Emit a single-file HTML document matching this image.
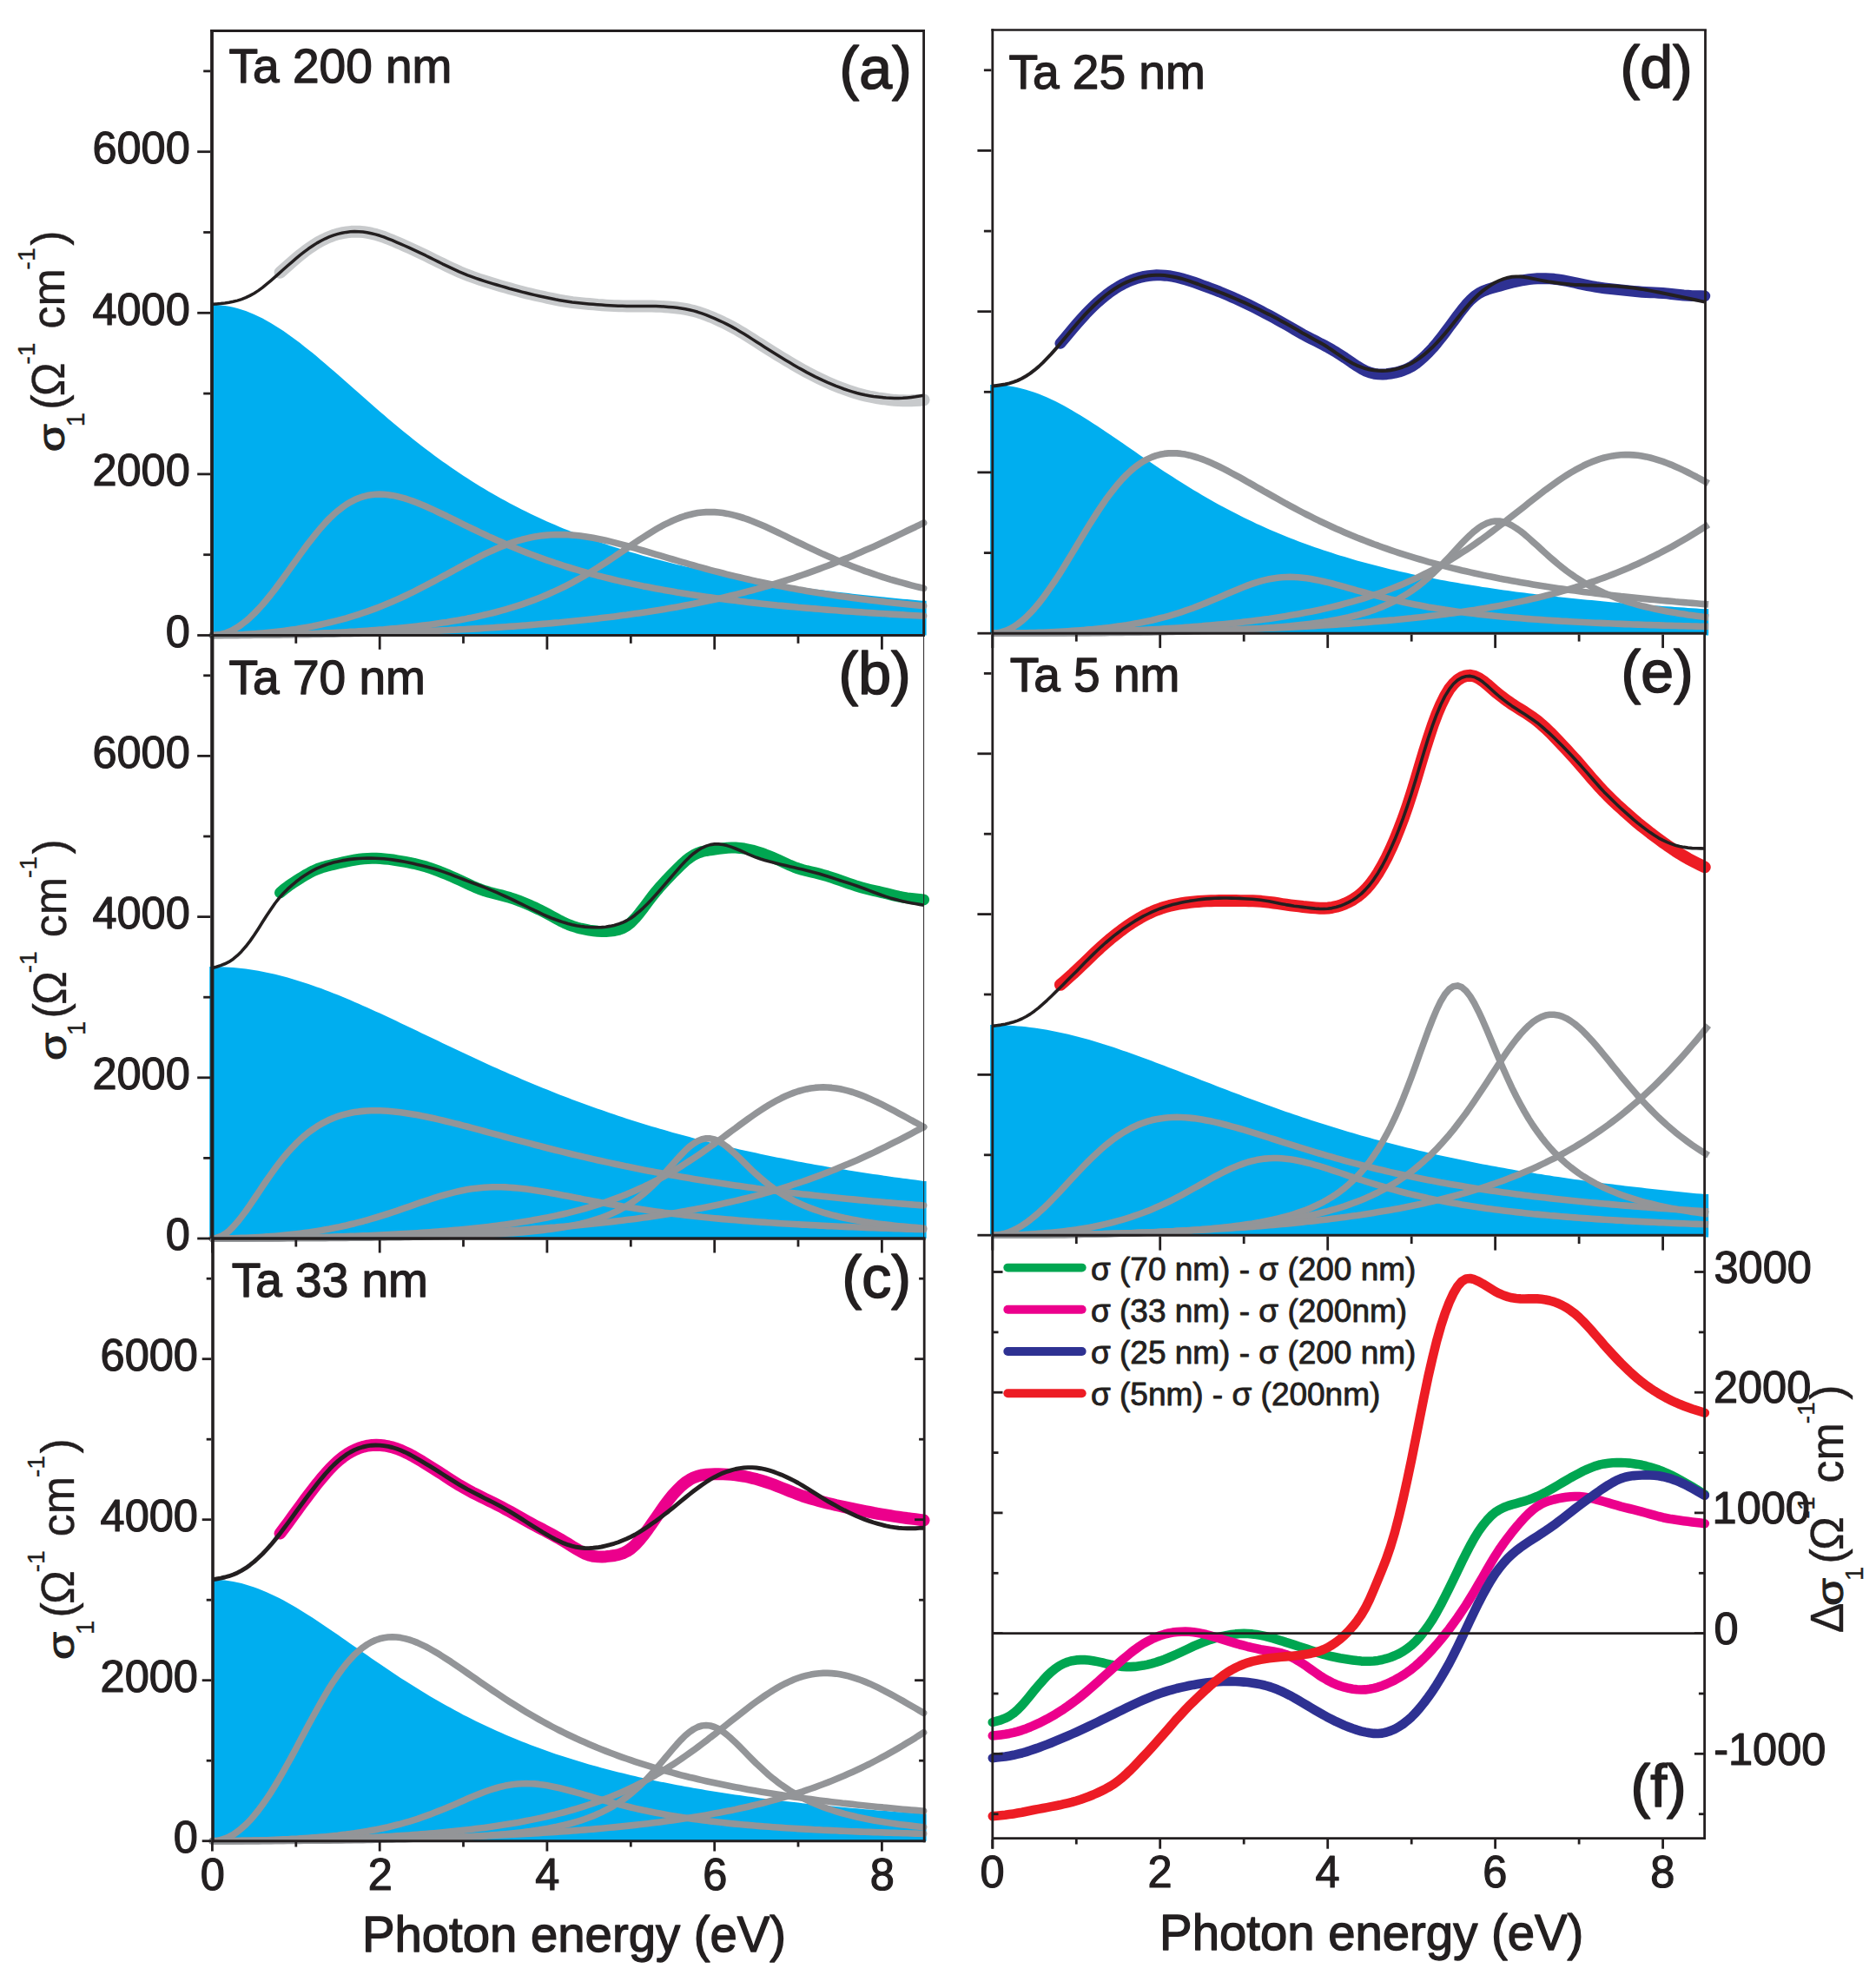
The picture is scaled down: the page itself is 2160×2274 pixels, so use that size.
<!DOCTYPE html>
<html><head><meta charset="utf-8"><title>Ta optical conductivity</title>
<style>html,body{margin:0;padding:0;background:#fff}svg{display:block}text{font-family:"Liberation Sans",Arial,sans-serif;fill:#231F20;stroke:#231F20;stroke-width:0.024em;stroke-linejoin:round}</style>
</head><body>
<svg width="2160" height="2274" viewBox="0 0 2160 2274">
<rect width="2160" height="2274" fill="#fff"/>
<path d="M243.4 731.5 L243.4 351.0 L244.4 351.0 L249.2 351.1 L254.0 351.5 L258.9 352.0 L263.7 352.8 L268.5 353.8 L273.3 355.0 L278.1 356.5 L283.0 358.1 L287.8 360.0 L292.6 362.0 L297.4 364.2 L302.2 366.6 L307.0 369.2 L311.9 372.0 L316.7 374.9 L321.5 377.9 L326.3 381.1 L331.1 384.4 L336.0 387.9 L340.8 391.5 L345.6 395.1 L350.4 398.9 L355.2 402.7 L360.1 406.6 L364.9 410.6 L369.7 414.7 L374.5 418.8 L379.3 422.9 L384.1 427.1 L389.0 431.3 L393.8 435.6 L398.6 439.8 L403.4 444.1 L408.2 448.3 L413.1 452.6 L417.9 456.8 L422.7 461.1 L427.5 465.3 L432.3 469.5 L437.2 473.7 L442.0 477.8 L446.8 481.9 L451.6 486.0 L456.4 490.0 L461.2 494.0 L466.1 497.9 L470.9 501.8 L475.7 505.7 L480.5 509.5 L485.3 513.2 L490.2 516.9 L495.0 520.6 L499.8 524.2 L504.6 527.7 L509.4 531.2 L514.3 534.6 L519.1 538.0 L523.9 541.3 L528.7 544.5 L533.5 547.7 L538.3 550.8 L543.2 553.9 L548.0 557.0 L552.8 559.9 L557.6 562.8 L562.4 565.7 L567.3 568.5 L572.1 571.3 L576.9 574.0 L581.7 576.6 L586.5 579.2 L591.4 581.8 L596.2 584.3 L601.0 586.7 L605.8 589.1 L610.6 591.5 L615.4 593.8 L620.3 596.0 L625.1 598.2 L629.9 600.4 L634.7 602.5 L639.5 604.6 L644.4 606.7 L649.2 608.7 L654.0 610.6 L658.8 612.5 L663.6 614.4 L668.5 616.3 L673.3 618.1 L678.1 619.9 L682.9 621.6 L687.7 623.3 L692.6 625.0 L697.4 626.6 L702.2 628.2 L707.0 629.8 L711.8 631.3 L716.6 632.8 L721.5 634.3 L726.3 635.7 L731.1 637.1 L735.9 638.5 L740.7 639.9 L745.6 641.2 L750.4 642.5 L755.2 643.8 L760.0 645.1 L764.8 646.3 L769.7 647.5 L774.5 648.7 L779.3 649.9 L784.1 651.0 L788.9 652.2 L793.7 653.3 L798.6 654.3 L803.4 655.4 L808.2 656.4 L813.0 657.5 L817.8 658.5 L822.7 659.4 L827.5 660.4 L832.3 661.4 L837.1 662.3 L841.9 663.2 L846.8 664.1 L851.6 665.0 L856.4 665.8 L861.2 666.7 L866.0 667.5 L870.8 668.3 L875.7 669.1 L880.5 669.9 L885.3 670.7 L890.1 671.5 L894.9 672.2 L899.8 672.9 L904.6 673.7 L909.4 674.4 L914.2 675.1 L919.0 675.8 L923.9 676.4 L928.7 677.1 L933.5 677.8 L938.3 678.4 L943.1 679.0 L947.9 679.6 L952.8 680.2 L957.6 680.8 L962.4 681.4 L967.2 682.0 L972.0 682.6 L976.9 683.1 L981.7 683.7 L986.5 684.2 L991.3 684.8 L996.1 685.3 L1001.0 685.8 L1005.8 686.3 L1010.6 686.8 L1015.4 687.3 L1020.2 687.8 L1025.0 688.3 L1029.9 688.7 L1034.7 689.2 L1039.5 689.7 L1044.3 690.1 L1049.1 690.5 L1054.0 691.0 L1058.8 691.4 L1063.6 691.8 L1066.6 691.8 L1066.6 731.5 Z" fill="#00AEEF"/>
<path d="M244.4 731.5 L249.2 731.2 L254.0 730.5 L258.9 729.2 L263.7 727.4 L268.5 725.1 L273.3 722.3 L278.1 719.0 L283.0 715.3 L287.8 711.1 L292.6 706.5 L297.4 701.5 L302.2 696.2 L307.0 690.5 L311.9 684.5 L316.7 678.3 L321.5 671.9 L326.3 665.3 L331.1 658.6 L336.0 651.8 L340.8 645.1 L345.6 638.4 L350.4 631.8 L355.2 625.3 L360.1 619.1 L364.9 613.1 L369.7 607.4 L374.5 602.0 L379.3 597.0 L384.1 592.4 L389.0 588.2 L393.8 584.4 L398.6 581.0 L403.4 578.1 L408.2 575.6 L413.1 573.5 L417.9 571.9 L422.7 570.6 L427.5 569.8 L432.3 569.3 L437.2 569.1 L442.0 569.3 L446.8 569.7 L451.6 570.4 L456.4 571.4 L461.2 572.6 L466.1 573.9 L470.9 575.5 L475.7 577.2 L480.5 579.0 L485.3 581.0 L490.2 583.1 L495.0 585.2 L499.8 587.4 L504.6 589.7 L509.4 592.0 L514.3 594.3 L519.1 596.7 L523.9 599.0 L528.7 601.4 L533.5 603.8 L538.3 606.1 L543.2 608.5 L548.0 610.8 L552.8 613.1 L557.6 615.3 L562.4 617.6 L567.3 619.8 L572.1 622.0 L576.9 624.1 L581.7 626.2 L586.5 628.3 L591.4 630.3 L596.2 632.3 L601.0 634.2 L605.8 636.1 L610.6 638.0 L615.4 639.8 L620.3 641.6 L625.1 643.4 L629.9 645.1 L634.7 646.7 L639.5 648.4 L644.4 649.9 L649.2 651.5 L654.0 653.0 L658.8 654.5 L663.6 655.9 L668.5 657.3 L673.3 658.7 L678.1 660.1 L682.9 661.4 L687.7 662.7 L692.6 663.9 L697.4 665.1 L702.2 666.3 L707.0 667.5 L711.8 668.6 L716.6 669.7 L721.5 670.8 L726.3 671.9 L731.1 672.9 L735.9 673.9 L740.7 674.9 L745.6 675.8 L750.4 676.8 L755.2 677.7 L760.0 678.6 L764.8 679.4 L769.7 680.3 L774.5 681.1 L779.3 682.0 L784.1 682.7 L788.9 683.5 L793.7 684.3 L798.6 685.0 L803.4 685.8 L808.2 686.5 L813.0 687.2 L817.8 687.8 L822.7 688.5 L827.5 689.2 L832.3 689.8 L837.1 690.4 L841.9 691.0 L846.8 691.6 L851.6 692.2 L856.4 692.8 L861.2 693.4 L866.0 693.9 L870.8 694.4 L875.7 695.0 L880.5 695.5 L885.3 696.0 L890.1 696.5 L894.9 697.0 L899.8 697.4 L904.6 697.9 L909.4 698.4 L914.2 698.8 L919.0 699.3 L923.9 699.7 L928.7 700.1 L933.5 700.5 L938.3 700.9 L943.1 701.3 L947.9 701.7 L952.8 702.1 L957.6 702.5 L962.4 702.8 L967.2 703.2 L972.0 703.6 L976.9 703.9 L981.7 704.3 L986.5 704.6 L991.3 704.9 L996.1 705.2 L1001.0 705.6 L1005.8 705.9 L1010.6 706.2 L1015.4 706.5 L1020.2 706.8 L1025.0 707.1 L1029.9 707.4 L1034.7 707.6 L1039.5 707.9 L1044.3 708.2 L1049.1 708.5 L1054.0 708.7 L1058.8 709.0 L1063.6 709.2" fill="none" stroke="#939598" stroke-width="7.6" stroke-linecap="round" stroke-linejoin="round"/>
<path d="M244.4 731.5 L249.2 731.5 L254.0 731.4 L258.9 731.3 L263.7 731.2 L268.5 731.1 L273.3 730.9 L278.1 730.7 L283.0 730.4 L287.8 730.1 L292.6 729.8 L297.4 729.4 L302.2 729.0 L307.0 728.6 L311.9 728.1 L316.7 727.6 L321.5 727.0 L326.3 726.4 L331.1 725.8 L336.0 725.1 L340.8 724.4 L345.6 723.6 L350.4 722.8 L355.2 721.9 L360.1 721.0 L364.9 720.0 L369.7 719.0 L374.5 717.9 L379.3 716.8 L384.1 715.6 L389.0 714.4 L393.8 713.1 L398.6 711.8 L403.4 710.3 L408.2 708.9 L413.1 707.3 L417.9 705.7 L422.7 704.1 L427.5 702.4 L432.3 700.6 L437.2 698.7 L442.0 696.8 L446.8 694.8 L451.6 692.8 L456.4 690.6 L461.2 688.5 L466.1 686.2 L470.9 683.9 L475.7 681.6 L480.5 679.2 L485.3 676.7 L490.2 674.2 L495.0 671.7 L499.8 669.1 L504.6 666.5 L509.4 663.9 L514.3 661.3 L519.1 658.6 L523.9 656.0 L528.7 653.4 L533.5 650.7 L538.3 648.1 L543.2 645.6 L548.0 643.1 L552.8 640.6 L557.6 638.2 L562.4 635.9 L567.3 633.7 L572.1 631.6 L576.9 629.6 L581.7 627.7 L586.5 625.9 L591.4 624.2 L596.2 622.7 L601.0 621.3 L605.8 620.1 L610.6 619.0 L615.4 618.1 L620.3 617.3 L625.1 616.6 L629.9 616.1 L634.7 615.8 L639.5 615.6 L644.4 615.5 L649.2 615.6 L654.0 615.8 L658.8 616.1 L663.6 616.5 L668.5 617.1 L673.3 617.7 L678.1 618.5 L682.9 619.3 L687.7 620.2 L692.6 621.2 L697.4 622.3 L702.2 623.4 L707.0 624.6 L711.8 625.9 L716.6 627.1 L721.5 628.4 L726.3 629.8 L731.1 631.2 L735.9 632.6 L740.7 634.0 L745.6 635.4 L750.4 636.8 L755.2 638.3 L760.0 639.7 L764.8 641.1 L769.7 642.6 L774.5 644.0 L779.3 645.4 L784.1 646.8 L788.9 648.2 L793.7 649.6 L798.6 651.0 L803.4 652.3 L808.2 653.7 L813.0 655.0 L817.8 656.3 L822.7 657.6 L827.5 658.8 L832.3 660.0 L837.1 661.3 L841.9 662.5 L846.8 663.6 L851.6 664.8 L856.4 665.9 L861.2 667.0 L866.0 668.1 L870.8 669.2 L875.7 670.2 L880.5 671.2 L885.3 672.2 L890.1 673.2 L894.9 674.2 L899.8 675.1 L904.6 676.0 L909.4 676.9 L914.2 677.8 L919.0 678.7 L923.9 679.5 L928.7 680.4 L933.5 681.2 L938.3 682.0 L943.1 682.8 L947.9 683.5 L952.8 684.3 L957.6 685.0 L962.4 685.7 L967.2 686.4 L972.0 687.1 L976.9 687.8 L981.7 688.4 L986.5 689.1 L991.3 689.7 L996.1 690.3 L1001.0 690.9 L1005.8 691.5 L1010.6 692.1 L1015.4 692.6 L1020.2 693.2 L1025.0 693.7 L1029.9 694.3 L1034.7 694.8 L1039.5 695.3 L1044.3 695.8 L1049.1 696.3 L1054.0 696.8 L1058.8 697.3 L1063.6 697.7" fill="none" stroke="#939598" stroke-width="7.6" stroke-linecap="round" stroke-linejoin="round"/>
<path d="M244.4 731.5 L249.2 731.5 L254.0 731.5 L258.9 731.5 L263.7 731.4 L268.5 731.4 L273.3 731.4 L278.1 731.3 L283.0 731.3 L287.8 731.2 L292.6 731.2 L297.4 731.1 L302.2 731.0 L307.0 730.9 L311.9 730.8 L316.7 730.7 L321.5 730.6 L326.3 730.5 L331.1 730.4 L336.0 730.3 L340.8 730.1 L345.6 730.0 L350.4 729.8 L355.2 729.7 L360.1 729.5 L364.9 729.3 L369.7 729.1 L374.5 728.9 L379.3 728.7 L384.1 728.5 L389.0 728.2 L393.8 728.0 L398.6 727.7 L403.4 727.4 L408.2 727.2 L413.1 726.9 L417.9 726.5 L422.7 726.2 L427.5 725.9 L432.3 725.5 L437.2 725.1 L442.0 724.8 L446.8 724.3 L451.6 723.9 L456.4 723.5 L461.2 723.0 L466.1 722.5 L470.9 722.0 L475.7 721.5 L480.5 720.9 L485.3 720.4 L490.2 719.8 L495.0 719.2 L499.8 718.5 L504.6 717.8 L509.4 717.1 L514.3 716.4 L519.1 715.6 L523.9 714.8 L528.7 713.9 L533.5 713.1 L538.3 712.1 L543.2 711.2 L548.0 710.2 L552.8 709.1 L557.6 708.0 L562.4 706.9 L567.3 705.7 L572.1 704.5 L576.9 703.2 L581.7 701.8 L586.5 700.4 L591.4 698.9 L596.2 697.4 L601.0 695.8 L605.8 694.1 L610.6 692.4 L615.4 690.6 L620.3 688.7 L625.1 686.8 L629.9 684.7 L634.7 682.6 L639.5 680.4 L644.4 678.1 L649.2 675.8 L654.0 673.3 L658.8 670.8 L663.6 668.2 L668.5 665.5 L673.3 662.7 L678.1 659.8 L682.9 656.9 L687.7 653.9 L692.6 650.8 L697.4 647.7 L702.2 644.5 L707.0 641.3 L711.8 638.0 L716.6 634.8 L721.5 631.5 L726.3 628.2 L731.1 624.9 L735.9 621.7 L740.7 618.6 L745.6 615.5 L750.4 612.5 L755.2 609.6 L760.0 606.8 L764.8 604.2 L769.7 601.8 L774.5 599.5 L779.3 597.5 L784.1 595.6 L788.9 594.0 L793.7 592.7 L798.6 591.5 L803.4 590.6 L808.2 590.0 L813.0 589.6 L817.8 589.5 L822.7 589.6 L827.5 590.0 L832.3 590.6 L837.1 591.4 L841.9 592.4 L846.8 593.6 L851.6 595.0 L856.4 596.5 L861.2 598.2 L866.0 600.0 L870.8 602.0 L875.7 604.0 L880.5 606.1 L885.3 608.3 L890.1 610.5 L894.9 612.8 L899.8 615.1 L904.6 617.4 L909.4 619.8 L914.2 622.1 L919.0 624.5 L923.9 626.8 L928.7 629.1 L933.5 631.4 L938.3 633.6 L943.1 635.9 L947.9 638.1 L952.8 640.2 L957.6 642.3 L962.4 644.4 L967.2 646.4 L972.0 648.4 L976.9 650.3 L981.7 652.2 L986.5 654.0 L991.3 655.8 L996.1 657.6 L1001.0 659.2 L1005.8 660.9 L1010.6 662.5 L1015.4 664.1 L1020.2 665.6 L1025.0 667.1 L1029.9 668.5 L1034.7 669.9 L1039.5 671.2 L1044.3 672.5 L1049.1 673.8 L1054.0 675.1 L1058.8 676.3 L1063.6 677.4" fill="none" stroke="#939598" stroke-width="7.6" stroke-linecap="round" stroke-linejoin="round"/>
<path d="M244.4 731.5 L249.2 731.5 L254.0 731.5 L258.9 731.5 L263.7 731.5 L268.5 731.5 L273.3 731.4 L278.1 731.4 L283.0 731.4 L287.8 731.4 L292.6 731.3 L297.4 731.3 L302.2 731.3 L307.0 731.2 L311.9 731.2 L316.7 731.1 L321.5 731.1 L326.3 731.0 L331.1 731.0 L336.0 730.9 L340.8 730.8 L345.6 730.8 L350.4 730.7 L355.2 730.6 L360.1 730.5 L364.9 730.4 L369.7 730.4 L374.5 730.3 L379.3 730.2 L384.1 730.1 L389.0 730.0 L393.8 729.8 L398.6 729.7 L403.4 729.6 L408.2 729.5 L413.1 729.4 L417.9 729.2 L422.7 729.1 L427.5 729.0 L432.3 728.8 L437.2 728.7 L442.0 728.5 L446.8 728.4 L451.6 728.2 L456.4 728.1 L461.2 727.9 L466.1 727.7 L470.9 727.5 L475.7 727.3 L480.5 727.1 L485.3 727.0 L490.2 726.8 L495.0 726.5 L499.8 726.3 L504.6 726.1 L509.4 725.9 L514.3 725.7 L519.1 725.4 L523.9 725.2 L528.7 724.9 L533.5 724.7 L538.3 724.4 L543.2 724.1 L548.0 723.9 L552.8 723.6 L557.6 723.3 L562.4 723.0 L567.3 722.7 L572.1 722.4 L576.9 722.1 L581.7 721.7 L586.5 721.4 L591.4 721.1 L596.2 720.7 L601.0 720.4 L605.8 720.0 L610.6 719.6 L615.4 719.2 L620.3 718.8 L625.1 718.4 L629.9 718.0 L634.7 717.6 L639.5 717.1 L644.4 716.7 L649.2 716.2 L654.0 715.8 L658.8 715.3 L663.6 714.8 L668.5 714.3 L673.3 713.8 L678.1 713.3 L682.9 712.7 L687.7 712.2 L692.6 711.6 L697.4 711.0 L702.2 710.5 L707.0 709.9 L711.8 709.2 L716.6 708.6 L721.5 708.0 L726.3 707.3 L731.1 706.6 L735.9 705.9 L740.7 705.2 L745.6 704.5 L750.4 703.7 L755.2 703.0 L760.0 702.2 L764.8 701.4 L769.7 700.6 L774.5 699.7 L779.3 698.9 L784.1 698.0 L788.9 697.1 L793.7 696.2 L798.6 695.3 L803.4 694.3 L808.2 693.3 L813.0 692.3 L817.8 691.3 L822.7 690.2 L827.5 689.2 L832.3 688.1 L837.1 686.9 L841.9 685.8 L846.8 684.6 L851.6 683.4 L856.4 682.2 L861.2 680.9 L866.0 679.7 L870.8 678.4 L875.7 677.0 L880.5 675.7 L885.3 674.3 L890.1 672.8 L894.9 671.4 L899.8 669.9 L904.6 668.4 L909.4 666.8 L914.2 665.3 L919.0 663.7 L923.9 662.0 L928.7 660.3 L933.5 658.6 L938.3 656.9 L943.1 655.1 L947.9 653.3 L952.8 651.5 L957.6 649.6 L962.4 647.8 L967.2 645.8 L972.0 643.9 L976.9 641.9 L981.7 639.9 L986.5 637.8 L991.3 635.7 L996.1 633.6 L1001.0 631.5 L1005.8 629.4 L1010.6 627.2 L1015.4 625.0 L1020.2 622.7 L1025.0 620.5 L1029.9 618.2 L1034.7 615.9 L1039.5 613.6 L1044.3 611.3 L1049.1 609.0 L1054.0 606.7 L1058.8 604.3 L1063.6 602.0" fill="none" stroke="#939598" stroke-width="7.6" stroke-linecap="round" stroke-linejoin="round"/>
<path d="M322.5 313.8 L327.3 309.5 L332.1 305.2 L336.9 301.0 L341.7 296.9 L346.5 292.9 L351.3 289.2 L356.2 285.7 L361.0 282.4 L365.8 279.4 L370.6 276.7 L375.4 274.4 L380.2 272.4 L385.0 270.6 L389.8 269.2 L394.7 268.1 L399.5 267.3 L404.3 266.8 L409.1 266.6 L413.9 266.7 L418.7 267.1 L423.5 267.9 L428.3 268.9 L433.2 270.1 L438.0 271.6 L442.8 273.2 L447.6 275.1 L452.4 277.0 L457.2 279.1 L462.0 281.2 L466.8 283.3 L471.7 285.5 L476.5 287.7 L481.3 290.0 L486.1 292.3 L490.9 294.6 L495.7 297.0 L500.5 299.4 L505.3 301.7 L510.2 304.1 L515.0 306.4 L519.8 308.7 L524.6 310.9 L529.4 313.1 L534.2 315.1 L539.0 317.0 L543.8 318.8 L548.7 320.5 L553.5 322.2 L558.3 323.7 L563.1 325.2 L567.9 326.7 L572.7 328.2 L577.5 329.6 L582.3 330.9 L587.2 332.3 L592.0 333.6 L596.8 334.9 L601.6 336.2 L606.4 337.4 L611.2 338.6 L616.0 339.7 L620.8 340.8 L625.7 341.8 L630.5 342.9 L635.3 343.9 L640.1 344.9 L644.9 345.8 L649.7 346.7 L654.5 347.4 L659.3 348.1 L664.2 348.6 L669.0 349.1 L673.8 349.6 L678.6 350.0 L683.4 350.4 L688.2 350.9 L693.0 351.2 L697.8 351.6 L702.7 351.9 L707.5 352.1 L712.3 352.3 L717.1 352.4 L721.9 352.5 L726.7 352.5 L731.5 352.5 L736.3 352.5 L741.2 352.5 L746.0 352.5 L750.8 352.5 L755.6 352.7 L760.4 352.9 L765.2 353.2 L770.0 353.5 L774.8 354.0 L779.7 354.5 L784.5 355.1 L789.3 355.9 L794.1 356.9 L798.9 358.1 L803.7 359.4 L808.5 361.0 L813.3 362.8 L818.2 364.7 L823.0 366.7 L827.8 368.9 L832.6 371.1 L837.4 373.5 L842.2 376.0 L847.0 378.6 L851.8 381.4 L856.7 384.3 L861.5 387.3 L866.3 390.4 L871.1 393.5 L875.9 396.5 L880.7 399.6 L885.5 402.7 L890.3 405.7 L895.2 408.7 L900.0 411.6 L904.8 414.5 L909.6 417.4 L914.4 420.2 L919.2 423.0 L924.0 425.7 L928.8 428.4 L933.7 430.9 L938.5 433.4 L943.3 435.8 L948.1 438.1 L952.9 440.3 L957.7 442.4 L962.5 444.4 L967.3 446.3 L972.2 448.1 L977.0 449.8 L981.8 451.4 L986.6 452.9 L991.4 454.2 L996.2 455.4 L1001.0 456.5 L1005.8 457.4 L1010.7 458.3 L1015.5 459.0 L1020.3 459.7 L1025.1 460.3 L1029.9 460.8 L1034.7 461.1 L1039.5 461.3 L1044.3 461.4 L1049.2 461.3 L1054.0 461.0 L1058.8 460.8 L1063.6 460.4" fill="none" stroke="#C8CACC" stroke-width="13.9" stroke-linecap="round" stroke-linejoin="round"/>
<path d="M244.4 350.3 L249.2 349.9 L254.0 349.5 L258.9 348.9 L263.7 348.2 L268.5 347.3 L273.3 346.1 L278.1 344.6 L283.0 342.7 L287.8 340.4 L292.6 337.7 L297.4 334.6 L302.2 331.1 L307.0 327.2 L311.9 323.1 L316.7 318.9 L321.5 314.6 L326.3 310.3 L331.1 306.0 L336.0 301.8 L340.8 297.7 L345.6 293.7 L350.4 289.9 L355.2 286.3 L360.1 283.0 L364.9 279.9 L369.7 277.2 L374.5 274.8 L379.3 272.7 L384.1 270.9 L389.0 269.4 L393.8 268.3 L398.6 267.4 L403.4 266.8 L408.2 266.6 L413.1 266.7 L417.9 267.0 L422.7 267.7 L427.5 268.7 L432.3 269.9 L437.2 271.3 L442.0 272.9 L446.8 274.8 L451.6 276.7 L456.4 278.8 L461.2 280.9 L466.1 283.0 L470.9 285.2 L475.7 287.4 L480.5 289.6 L485.3 291.9 L490.2 294.2 L495.0 296.6 L499.8 299.0 L504.6 301.4 L509.4 303.8 L514.3 306.1 L519.1 308.4 L523.9 310.6 L528.7 312.8 L533.5 314.8 L538.3 316.8 L543.2 318.6 L548.0 320.3 L552.8 322.0 L557.6 323.6 L562.4 325.1 L567.3 326.6 L572.1 328.0 L576.9 329.4 L581.7 330.8 L586.5 332.2 L591.4 333.5 L596.2 334.8 L601.0 336.1 L605.8 337.3 L610.6 338.5 L615.4 339.6 L620.3 340.7 L625.1 341.7 L629.9 342.8 L634.7 343.8 L639.5 344.8 L644.4 345.7 L649.2 346.5 L654.0 347.3 L658.8 348.0 L663.6 348.5 L668.5 349.0 L673.3 349.5 L678.1 349.9 L682.9 350.3 L687.7 350.7 L692.6 351.1 L697.4 351.5 L702.2 351.8 L707.0 352.0 L711.8 352.2 L716.6 352.3 L721.5 352.4 L726.3 352.4 L731.1 352.4 L735.9 352.4 L740.7 352.4 L745.6 352.4 L750.4 352.4 L755.2 352.5 L760.0 352.7 L764.8 353.0 L769.7 353.4 L774.5 353.8 L779.3 354.3 L784.1 355.0 L788.9 355.8 L793.7 356.7 L798.6 357.9 L803.4 359.3 L808.2 360.9 L813.0 362.6 L817.8 364.6 L822.7 366.6 L827.5 368.8 L832.3 371.0 L837.1 373.4 L841.9 375.9 L846.8 378.6 L851.6 381.4 L856.4 384.3 L861.2 387.3 L866.0 390.4 L870.8 393.5 L875.7 396.6 L880.5 399.7 L885.3 402.8 L890.1 405.8 L894.9 408.8 L899.8 411.8 L904.6 414.7 L909.4 417.6 L914.2 420.4 L919.0 423.2 L923.9 425.9 L928.7 428.6 L933.5 431.1 L938.3 433.6 L943.1 435.9 L947.9 438.2 L952.8 440.4 L957.6 442.4 L962.4 444.4 L967.2 446.2 L972.0 448.0 L976.9 449.6 L981.7 451.1 L986.5 452.5 L991.3 453.7 L996.1 454.8 L1001.0 455.7 L1005.8 456.5 L1010.6 457.1 L1015.4 457.6 L1020.2 458.1 L1025.0 458.3 L1029.9 458.5 L1034.7 458.5 L1039.5 458.3 L1044.3 457.9 L1049.1 457.4 L1054.0 456.8 L1058.8 456.1 L1063.6 455.3" fill="none" stroke="#231F20" stroke-width="3.5" stroke-linejoin="round"/>
<path d="M241.2 1426.0 L241.2 1113.0 L244.4 1113.0 L249.2 1113.1 L254.0 1113.2 L258.9 1113.4 L263.7 1113.7 L268.5 1114.0 L273.3 1114.5 L278.1 1115.0 L283.0 1115.6 L287.8 1116.3 L292.6 1117.0 L297.4 1117.8 L302.2 1118.7 L307.0 1119.7 L311.9 1120.7 L316.7 1121.8 L321.5 1123.0 L326.3 1124.3 L331.1 1125.6 L336.0 1127.0 L340.8 1128.4 L345.6 1129.9 L350.4 1131.4 L355.2 1133.0 L360.1 1134.7 L364.9 1136.4 L369.7 1138.1 L374.5 1139.9 L379.3 1141.8 L384.1 1143.7 L389.0 1145.6 L393.8 1147.6 L398.6 1149.6 L403.4 1151.6 L408.2 1153.7 L413.1 1155.8 L417.9 1157.9 L422.7 1160.0 L427.5 1162.2 L432.3 1164.4 L437.2 1166.6 L442.0 1168.8 L446.8 1171.1 L451.6 1173.3 L456.4 1175.6 L461.2 1177.9 L466.1 1180.2 L470.9 1182.5 L475.7 1184.8 L480.5 1187.1 L485.3 1189.4 L490.2 1191.7 L495.0 1194.0 L499.8 1196.3 L504.6 1198.6 L509.4 1200.9 L514.3 1203.2 L519.1 1205.5 L523.9 1207.8 L528.7 1210.1 L533.5 1212.3 L538.3 1214.6 L543.2 1216.8 L548.0 1219.1 L552.8 1221.3 L557.6 1223.5 L562.4 1225.7 L567.3 1227.9 L572.1 1230.0 L576.9 1232.2 L581.7 1234.3 L586.5 1236.4 L591.4 1238.5 L596.2 1240.6 L601.0 1242.7 L605.8 1244.7 L610.6 1246.7 L615.4 1248.7 L620.3 1250.7 L625.1 1252.7 L629.9 1254.6 L634.7 1256.6 L639.5 1258.5 L644.4 1260.4 L649.2 1262.2 L654.0 1264.1 L658.8 1265.9 L663.6 1267.7 L668.5 1269.5 L673.3 1271.3 L678.1 1273.0 L682.9 1274.8 L687.7 1276.5 L692.6 1278.1 L697.4 1279.8 L702.2 1281.5 L707.0 1283.1 L711.8 1284.7 L716.6 1286.3 L721.5 1287.9 L726.3 1289.4 L731.1 1290.9 L735.9 1292.4 L740.7 1293.9 L745.6 1295.4 L750.4 1296.9 L755.2 1298.3 L760.0 1299.7 L764.8 1301.1 L769.7 1302.5 L774.5 1303.9 L779.3 1305.2 L784.1 1306.5 L788.9 1307.8 L793.7 1309.1 L798.6 1310.4 L803.4 1311.7 L808.2 1312.9 L813.0 1314.1 L817.8 1315.4 L822.7 1316.5 L827.5 1317.7 L832.3 1318.9 L837.1 1320.0 L841.9 1321.2 L846.8 1322.3 L851.6 1323.4 L856.4 1324.5 L861.2 1325.5 L866.0 1326.6 L870.8 1327.6 L875.7 1328.7 L880.5 1329.7 L885.3 1330.7 L890.1 1331.7 L894.9 1332.7 L899.8 1333.6 L904.6 1334.6 L909.4 1335.5 L914.2 1336.4 L919.0 1337.4 L923.9 1338.3 L928.7 1339.2 L933.5 1340.0 L938.3 1340.9 L943.1 1341.8 L947.9 1342.6 L952.8 1343.4 L957.6 1344.2 L962.4 1345.1 L967.2 1345.9 L972.0 1346.6 L976.9 1347.4 L981.7 1348.2 L986.5 1349.0 L991.3 1349.7 L996.1 1350.4 L1001.0 1351.2 L1005.8 1351.9 L1010.6 1352.6 L1015.4 1353.3 L1020.2 1354.0 L1025.0 1354.7 L1029.9 1355.4 L1034.7 1356.0 L1039.5 1356.7 L1044.3 1357.3 L1049.1 1358.0 L1054.0 1358.6 L1058.8 1359.2 L1063.6 1359.9 L1066.6 1359.9 L1066.6 1426.0 Z" fill="#00AEEF"/>
<path d="M244.4 1426.0 L249.2 1425.4 L254.0 1423.7 L258.9 1420.9 L263.7 1417.2 L268.5 1412.5 L273.3 1407.1 L278.1 1401.0 L283.0 1394.5 L287.8 1387.6 L292.6 1380.5 L297.4 1373.3 L302.2 1366.1 L307.0 1359.0 L311.9 1352.1 L316.7 1345.4 L321.5 1339.0 L326.3 1332.9 L331.1 1327.2 L336.0 1321.8 L340.8 1316.8 L345.6 1312.1 L350.4 1307.9 L355.2 1303.9 L360.1 1300.4 L364.9 1297.1 L369.7 1294.2 L374.5 1291.6 L379.3 1289.3 L384.1 1287.2 L389.0 1285.4 L393.8 1283.9 L398.6 1282.6 L403.4 1281.5 L408.2 1280.6 L413.1 1279.9 L417.9 1279.4 L422.7 1279.0 L427.5 1278.8 L432.3 1278.8 L437.2 1278.8 L442.0 1279.0 L446.8 1279.3 L451.6 1279.7 L456.4 1280.2 L461.2 1280.8 L466.1 1281.4 L470.9 1282.2 L475.7 1283.0 L480.5 1283.8 L485.3 1284.8 L490.2 1285.7 L495.0 1286.8 L499.8 1287.8 L504.6 1288.9 L509.4 1290.0 L514.3 1291.2 L519.1 1292.4 L523.9 1293.6 L528.7 1294.8 L533.5 1296.1 L538.3 1297.3 L543.2 1298.6 L548.0 1299.9 L552.8 1301.2 L557.6 1302.5 L562.4 1303.8 L567.3 1305.1 L572.1 1306.4 L576.9 1307.7 L581.7 1309.0 L586.5 1310.3 L591.4 1311.6 L596.2 1312.9 L601.0 1314.2 L605.8 1315.4 L610.6 1316.7 L615.4 1318.0 L620.3 1319.2 L625.1 1320.5 L629.9 1321.7 L634.7 1323.0 L639.5 1324.2 L644.4 1325.4 L649.2 1326.6 L654.0 1327.8 L658.8 1329.0 L663.6 1330.1 L668.5 1331.3 L673.3 1332.4 L678.1 1333.5 L682.9 1334.6 L687.7 1335.7 L692.6 1336.8 L697.4 1337.9 L702.2 1338.9 L707.0 1340.0 L711.8 1341.0 L716.6 1342.0 L721.5 1343.1 L726.3 1344.0 L731.1 1345.0 L735.9 1346.0 L740.7 1347.0 L745.6 1347.9 L750.4 1348.8 L755.2 1349.7 L760.0 1350.6 L764.8 1351.5 L769.7 1352.4 L774.5 1353.3 L779.3 1354.1 L784.1 1355.0 L788.9 1355.8 L793.7 1356.6 L798.6 1357.4 L803.4 1358.2 L808.2 1359.0 L813.0 1359.8 L817.8 1360.6 L822.7 1361.3 L827.5 1362.1 L832.3 1362.8 L837.1 1363.5 L841.9 1364.2 L846.8 1364.9 L851.6 1365.6 L856.4 1366.3 L861.2 1367.0 L866.0 1367.6 L870.8 1368.3 L875.7 1368.9 L880.5 1369.6 L885.3 1370.2 L890.1 1370.8 L894.9 1371.4 L899.8 1372.0 L904.6 1372.6 L909.4 1373.2 L914.2 1373.7 L919.0 1374.3 L923.9 1374.9 L928.7 1375.4 L933.5 1375.9 L938.3 1376.5 L943.1 1377.0 L947.9 1377.5 L952.8 1378.0 L957.6 1378.5 L962.4 1379.0 L967.2 1379.5 L972.0 1380.0 L976.9 1380.5 L981.7 1380.9 L986.5 1381.4 L991.3 1381.9 L996.1 1382.3 L1001.0 1382.8 L1005.8 1383.2 L1010.6 1383.6 L1015.4 1384.0 L1020.2 1384.5 L1025.0 1384.9 L1029.9 1385.3 L1034.7 1385.7 L1039.5 1386.1 L1044.3 1386.5 L1049.1 1386.9 L1054.0 1387.2 L1058.8 1387.6 L1063.6 1388.0" fill="none" stroke="#939598" stroke-width="7.6" stroke-linecap="round" stroke-linejoin="round"/>
<path d="M244.4 1426.0 L249.2 1426.0 L254.0 1426.0 L258.9 1425.9 L263.7 1425.8 L268.5 1425.7 L273.3 1425.6 L278.1 1425.4 L283.0 1425.2 L287.8 1425.0 L292.6 1424.8 L297.4 1424.5 L302.2 1424.2 L307.0 1423.9 L311.9 1423.6 L316.7 1423.2 L321.5 1422.8 L326.3 1422.3 L331.1 1421.8 L336.0 1421.3 L340.8 1420.8 L345.6 1420.2 L350.4 1419.6 L355.2 1418.9 L360.1 1418.2 L364.9 1417.5 L369.7 1416.7 L374.5 1415.8 L379.3 1415.0 L384.1 1414.0 L389.0 1413.1 L393.8 1412.0 L398.6 1411.0 L403.4 1409.8 L408.2 1408.7 L413.1 1407.4 L417.9 1406.2 L422.7 1404.8 L427.5 1403.4 L432.3 1402.0 L437.2 1400.5 L442.0 1399.0 L446.8 1397.5 L451.6 1395.9 L456.4 1394.3 L461.2 1392.6 L466.1 1390.9 L470.9 1389.3 L475.7 1387.6 L480.5 1385.9 L485.3 1384.2 L490.2 1382.6 L495.0 1381.0 L499.8 1379.4 L504.6 1377.9 L509.4 1376.5 L514.3 1375.1 L519.1 1373.8 L523.9 1372.6 L528.7 1371.5 L533.5 1370.5 L538.3 1369.6 L543.2 1368.8 L548.0 1368.2 L552.8 1367.7 L557.6 1367.3 L562.4 1367.0 L567.3 1366.8 L572.1 1366.7 L576.9 1366.8 L581.7 1366.9 L586.5 1367.2 L591.4 1367.6 L596.2 1368.0 L601.0 1368.5 L605.8 1369.1 L610.6 1369.7 L615.4 1370.4 L620.3 1371.2 L625.1 1372.0 L629.9 1372.8 L634.7 1373.7 L639.5 1374.6 L644.4 1375.5 L649.2 1376.4 L654.0 1377.3 L658.8 1378.3 L663.6 1379.2 L668.5 1380.1 L673.3 1381.1 L678.1 1382.0 L682.9 1382.9 L687.7 1383.8 L692.6 1384.7 L697.4 1385.6 L702.2 1386.5 L707.0 1387.3 L711.8 1388.1 L716.6 1389.0 L721.5 1389.8 L726.3 1390.5 L731.1 1391.3 L735.9 1392.1 L740.7 1392.8 L745.6 1393.5 L750.4 1394.2 L755.2 1394.9 L760.0 1395.5 L764.8 1396.2 L769.7 1396.8 L774.5 1397.4 L779.3 1398.0 L784.1 1398.6 L788.9 1399.2 L793.7 1399.7 L798.6 1400.2 L803.4 1400.7 L808.2 1401.3 L813.0 1401.7 L817.8 1402.2 L822.7 1402.7 L827.5 1403.1 L832.3 1403.6 L837.1 1404.0 L841.9 1404.4 L846.8 1404.8 L851.6 1405.2 L856.4 1405.6 L861.2 1406.0 L866.0 1406.4 L870.8 1406.7 L875.7 1407.1 L880.5 1407.4 L885.3 1407.7 L890.1 1408.0 L894.9 1408.4 L899.8 1408.7 L904.6 1409.0 L909.4 1409.2 L914.2 1409.5 L919.0 1409.8 L923.9 1410.1 L928.7 1410.3 L933.5 1410.6 L938.3 1410.8 L943.1 1411.1 L947.9 1411.3 L952.8 1411.6 L957.6 1411.8 L962.4 1412.0 L967.2 1412.2 L972.0 1412.4 L976.9 1412.6 L981.7 1412.8 L986.5 1413.0 L991.3 1413.2 L996.1 1413.4 L1001.0 1413.6 L1005.8 1413.8 L1010.6 1414.0 L1015.4 1414.1 L1020.2 1414.3 L1025.0 1414.5 L1029.9 1414.6 L1034.7 1414.8 L1039.5 1414.9 L1044.3 1415.1 L1049.1 1415.2 L1054.0 1415.4 L1058.8 1415.5 L1063.6 1415.7" fill="none" stroke="#939598" stroke-width="7.6" stroke-linecap="round" stroke-linejoin="round"/>
<path d="M244.4 1426.0 L249.2 1426.0 L254.0 1426.0 L258.9 1426.0 L263.7 1426.0 L268.5 1426.0 L273.3 1426.0 L278.1 1426.0 L283.0 1426.0 L287.8 1426.0 L292.6 1425.9 L297.4 1425.9 L302.2 1425.9 L307.0 1425.9 L311.9 1425.9 L316.7 1425.9 L321.5 1425.9 L326.3 1425.8 L331.1 1425.8 L336.0 1425.8 L340.8 1425.8 L345.6 1425.8 L350.4 1425.7 L355.2 1425.7 L360.1 1425.7 L364.9 1425.6 L369.7 1425.6 L374.5 1425.6 L379.3 1425.5 L384.1 1425.5 L389.0 1425.5 L393.8 1425.4 L398.6 1425.4 L403.4 1425.3 L408.2 1425.3 L413.1 1425.2 L417.9 1425.2 L422.7 1425.1 L427.5 1425.1 L432.3 1425.0 L437.2 1425.0 L442.0 1424.9 L446.8 1424.8 L451.6 1424.8 L456.4 1424.7 L461.2 1424.6 L466.1 1424.5 L470.9 1424.4 L475.7 1424.3 L480.5 1424.2 L485.3 1424.1 L490.2 1424.0 L495.0 1423.9 L499.8 1423.8 L504.6 1423.7 L509.4 1423.5 L514.3 1423.4 L519.1 1423.2 L523.9 1423.1 L528.7 1422.9 L533.5 1422.7 L538.3 1422.6 L543.2 1422.4 L548.0 1422.2 L552.8 1421.9 L557.6 1421.7 L562.4 1421.5 L567.3 1421.2 L572.1 1420.9 L576.9 1420.6 L581.7 1420.3 L586.5 1420.0 L591.4 1419.7 L596.2 1419.3 L601.0 1418.9 L605.8 1418.5 L610.6 1418.0 L615.4 1417.5 L620.3 1417.0 L625.1 1416.4 L629.9 1415.8 L634.7 1415.2 L639.5 1414.5 L644.4 1413.8 L649.2 1413.0 L654.0 1412.1 L658.8 1411.2 L663.6 1410.1 L668.5 1409.1 L673.3 1407.9 L678.1 1406.6 L682.9 1405.2 L687.7 1403.7 L692.6 1402.0 L697.4 1400.2 L702.2 1398.2 L707.0 1396.1 L711.8 1393.8 L716.6 1391.2 L721.5 1388.5 L726.3 1385.5 L731.1 1382.2 L735.9 1378.6 L740.7 1374.8 L745.6 1370.6 L750.4 1366.2 L755.2 1361.5 L760.0 1356.5 L764.8 1351.3 L769.7 1345.9 L774.5 1340.4 L779.3 1335.0 L784.1 1329.8 L788.9 1324.8 L793.7 1320.4 L798.6 1316.7 L803.4 1313.7 L808.2 1311.7 L813.0 1310.8 L817.8 1310.9 L822.7 1312.0 L827.5 1314.1 L832.3 1317.0 L837.1 1320.5 L841.9 1324.6 L846.8 1329.0 L851.6 1333.6 L856.4 1338.3 L861.2 1343.0 L866.0 1347.7 L870.8 1352.1 L875.7 1356.4 L880.5 1360.5 L885.3 1364.3 L890.1 1367.9 L894.9 1371.3 L899.8 1374.5 L904.6 1377.4 L909.4 1380.1 L914.2 1382.7 L919.0 1385.0 L923.9 1387.2 L928.7 1389.3 L933.5 1391.1 L938.3 1392.9 L943.1 1394.5 L947.9 1396.1 L952.8 1397.5 L957.6 1398.8 L962.4 1400.0 L967.2 1401.2 L972.0 1402.3 L976.9 1403.3 L981.7 1404.2 L986.5 1405.1 L991.3 1406.0 L996.1 1406.8 L1001.0 1407.5 L1005.8 1408.2 L1010.6 1408.9 L1015.4 1409.5 L1020.2 1410.1 L1025.0 1410.6 L1029.9 1411.2 L1034.7 1411.7 L1039.5 1412.1 L1044.3 1412.6 L1049.1 1413.0 L1054.0 1413.4 L1058.8 1413.8 L1063.6 1414.2" fill="none" stroke="#939598" stroke-width="7.6" stroke-linecap="round" stroke-linejoin="round"/>
<path d="M244.4 1426.0 L249.2 1426.0 L254.0 1426.0 L258.9 1426.0 L263.7 1426.0 L268.5 1425.9 L273.3 1425.9 L278.1 1425.9 L283.0 1425.9 L287.8 1425.8 L292.6 1425.8 L297.4 1425.7 L302.2 1425.7 L307.0 1425.6 L311.9 1425.6 L316.7 1425.5 L321.5 1425.4 L326.3 1425.4 L331.1 1425.3 L336.0 1425.2 L340.8 1425.1 L345.6 1425.0 L350.4 1424.9 L355.2 1424.8 L360.1 1424.7 L364.9 1424.6 L369.7 1424.5 L374.5 1424.3 L379.3 1424.2 L384.1 1424.1 L389.0 1423.9 L393.8 1423.8 L398.6 1423.6 L403.4 1423.4 L408.2 1423.3 L413.1 1423.1 L417.9 1422.9 L422.7 1422.7 L427.5 1422.5 L432.3 1422.3 L437.2 1422.1 L442.0 1421.9 L446.8 1421.6 L451.6 1421.4 L456.4 1421.1 L461.2 1420.9 L466.1 1420.6 L470.9 1420.3 L475.7 1420.0 L480.5 1419.7 L485.3 1419.4 L490.2 1419.1 L495.0 1418.7 L499.8 1418.4 L504.6 1418.0 L509.4 1417.6 L514.3 1417.2 L519.1 1416.8 L523.9 1416.4 L528.7 1416.0 L533.5 1415.5 L538.3 1415.0 L543.2 1414.5 L548.0 1414.0 L552.8 1413.5 L557.6 1413.0 L562.4 1412.4 L567.3 1411.8 L572.1 1411.2 L576.9 1410.6 L581.7 1409.9 L586.5 1409.2 L591.4 1408.5 L596.2 1407.8 L601.0 1407.1 L605.8 1406.3 L610.6 1405.5 L615.4 1404.6 L620.3 1403.7 L625.1 1402.8 L629.9 1401.9 L634.7 1400.9 L639.5 1399.9 L644.4 1398.8 L649.2 1397.7 L654.0 1396.6 L658.8 1395.4 L663.6 1394.1 L668.5 1392.8 L673.3 1391.5 L678.1 1390.1 L682.9 1388.7 L687.7 1387.2 L692.6 1385.7 L697.4 1384.1 L702.2 1382.4 L707.0 1380.7 L711.8 1378.9 L716.6 1377.0 L721.5 1375.1 L726.3 1373.1 L731.1 1371.0 L735.9 1368.8 L740.7 1366.6 L745.6 1364.3 L750.4 1361.9 L755.2 1359.5 L760.0 1356.9 L764.8 1354.3 L769.7 1351.6 L774.5 1348.8 L779.3 1345.9 L784.1 1343.0 L788.9 1339.9 L793.7 1336.8 L798.6 1333.6 L803.4 1330.4 L808.2 1327.1 L813.0 1323.7 L817.8 1320.2 L822.7 1316.8 L827.5 1313.2 L832.3 1309.7 L837.1 1306.1 L841.9 1302.5 L846.8 1299.0 L851.6 1295.4 L856.4 1291.9 L861.2 1288.4 L866.0 1285.0 L870.8 1281.7 L875.7 1278.4 L880.5 1275.3 L885.3 1272.3 L890.1 1269.5 L894.9 1266.8 L899.8 1264.3 L904.6 1262.0 L909.4 1260.0 L914.2 1258.1 L919.0 1256.5 L923.9 1255.1 L928.7 1253.9 L933.5 1253.0 L938.3 1252.4 L943.1 1252.0 L947.9 1251.9 L952.8 1252.0 L957.6 1252.4 L962.4 1253.0 L967.2 1253.8 L972.0 1254.9 L976.9 1256.1 L981.7 1257.5 L986.5 1259.2 L991.3 1260.9 L996.1 1262.8 L1001.0 1264.9 L1005.8 1267.1 L1010.6 1269.3 L1015.4 1271.7 L1020.2 1274.1 L1025.0 1276.6 L1029.9 1279.2 L1034.7 1281.8 L1039.5 1284.4 L1044.3 1287.0 L1049.1 1289.7 L1054.0 1292.3 L1058.8 1295.0 L1063.6 1297.6" fill="none" stroke="#939598" stroke-width="7.6" stroke-linecap="round" stroke-linejoin="round"/>
<path d="M244.4 1426.0 L249.2 1426.0 L254.0 1426.0 L258.9 1426.0 L263.7 1426.0 L268.5 1426.0 L273.3 1425.9 L278.1 1425.9 L283.0 1425.9 L287.8 1425.9 L292.6 1425.9 L297.4 1425.8 L302.2 1425.8 L307.0 1425.7 L311.9 1425.7 L316.7 1425.7 L321.5 1425.6 L326.3 1425.6 L331.1 1425.5 L336.0 1425.5 L340.8 1425.4 L345.6 1425.3 L350.4 1425.3 L355.2 1425.2 L360.1 1425.1 L364.9 1425.1 L369.7 1425.0 L374.5 1424.9 L379.3 1424.8 L384.1 1424.7 L389.0 1424.6 L393.8 1424.5 L398.6 1424.4 L403.4 1424.3 L408.2 1424.2 L413.1 1424.1 L417.9 1424.0 L422.7 1423.9 L427.5 1423.7 L432.3 1423.6 L437.2 1423.5 L442.0 1423.3 L446.8 1423.2 L451.6 1423.1 L456.4 1422.9 L461.2 1422.8 L466.1 1422.6 L470.9 1422.4 L475.7 1422.3 L480.5 1422.1 L485.3 1421.9 L490.2 1421.7 L495.0 1421.6 L499.8 1421.4 L504.6 1421.2 L509.4 1421.0 L514.3 1420.8 L519.1 1420.6 L523.9 1420.3 L528.7 1420.1 L533.5 1419.9 L538.3 1419.6 L543.2 1419.4 L548.0 1419.2 L552.8 1418.9 L557.6 1418.6 L562.4 1418.4 L567.3 1418.1 L572.1 1417.8 L576.9 1417.5 L581.7 1417.2 L586.5 1416.9 L591.4 1416.6 L596.2 1416.3 L601.0 1416.0 L605.8 1415.6 L610.6 1415.3 L615.4 1414.9 L620.3 1414.6 L625.1 1414.2 L629.9 1413.8 L634.7 1413.4 L639.5 1413.1 L644.4 1412.6 L649.2 1412.2 L654.0 1411.8 L658.8 1411.4 L663.6 1410.9 L668.5 1410.5 L673.3 1410.0 L678.1 1409.5 L682.9 1409.0 L687.7 1408.5 L692.6 1408.0 L697.4 1407.5 L702.2 1406.9 L707.0 1406.4 L711.8 1405.8 L716.6 1405.2 L721.5 1404.6 L726.3 1404.0 L731.1 1403.4 L735.9 1402.7 L740.7 1402.1 L745.6 1401.4 L750.4 1400.7 L755.2 1400.0 L760.0 1399.2 L764.8 1398.5 L769.7 1397.7 L774.5 1397.0 L779.3 1396.2 L784.1 1395.3 L788.9 1394.5 L793.7 1393.6 L798.6 1392.7 L803.4 1391.8 L808.2 1390.9 L813.0 1390.0 L817.8 1389.0 L822.7 1388.0 L827.5 1387.0 L832.3 1385.9 L837.1 1384.8 L841.9 1383.7 L846.8 1382.6 L851.6 1381.5 L856.4 1380.3 L861.2 1379.1 L866.0 1377.8 L870.8 1376.6 L875.7 1375.3 L880.5 1373.9 L885.3 1372.6 L890.1 1371.2 L894.9 1369.8 L899.8 1368.3 L904.6 1366.8 L909.4 1365.3 L914.2 1363.7 L919.0 1362.1 L923.9 1360.5 L928.7 1358.8 L933.5 1357.1 L938.3 1355.4 L943.1 1353.6 L947.9 1351.8 L952.8 1349.9 L957.6 1348.0 L962.4 1346.1 L967.2 1344.1 L972.0 1342.1 L976.9 1340.1 L981.7 1338.0 L986.5 1335.9 L991.3 1333.7 L996.1 1331.5 L1001.0 1329.3 L1005.8 1327.1 L1010.6 1324.8 L1015.4 1322.4 L1020.2 1320.1 L1025.0 1317.7 L1029.9 1315.2 L1034.7 1312.8 L1039.5 1310.3 L1044.3 1307.8 L1049.1 1305.3 L1054.0 1302.7 L1058.8 1300.1 L1063.6 1297.6" fill="none" stroke="#939598" stroke-width="7.6" stroke-linecap="round" stroke-linejoin="round"/>
<path d="M322.5 1027.9 L327.3 1023.8 L332.1 1020.2 L336.9 1016.9 L341.7 1013.8 L346.5 1010.7 L351.3 1007.8 L356.2 1005.1 L361.0 1002.6 L365.8 1000.5 L370.6 998.8 L375.4 997.4 L380.2 996.2 L385.0 995.1 L389.8 994.0 L394.7 992.9 L399.5 991.9 L404.3 990.9 L409.1 990.0 L413.9 989.3 L418.7 988.7 L423.5 988.4 L428.3 988.3 L433.2 988.3 L438.0 988.5 L442.8 988.9 L447.6 989.4 L452.4 990.0 L457.2 990.8 L462.0 991.6 L466.8 992.4 L471.7 993.3 L476.5 994.3 L481.3 995.5 L486.1 996.7 L490.9 998.1 L495.7 999.7 L500.5 1001.4 L505.3 1003.2 L510.2 1005.1 L515.0 1007.0 L519.8 1009.1 L524.6 1011.2 L529.4 1013.4 L534.2 1015.6 L539.0 1017.9 L543.8 1020.1 L548.7 1022.2 L553.5 1024.1 L558.3 1025.8 L563.1 1027.3 L567.9 1028.5 L572.7 1029.7 L577.5 1030.9 L582.3 1032.2 L587.2 1033.6 L592.0 1035.2 L596.8 1036.9 L601.6 1038.8 L606.4 1040.8 L611.2 1042.8 L616.0 1045.0 L620.8 1047.3 L625.7 1049.8 L630.5 1052.3 L635.3 1054.9 L640.1 1057.5 L644.9 1060.1 L649.7 1062.5 L654.5 1064.6 L659.3 1066.4 L664.2 1067.9 L669.0 1069.2 L673.8 1070.2 L678.6 1071.1 L683.4 1071.7 L688.2 1072.2 L693.0 1072.4 L697.8 1072.4 L702.7 1072.1 L707.5 1071.5 L712.3 1070.4 L717.1 1068.6 L721.9 1065.8 L726.7 1062.1 L731.5 1057.1 L736.3 1051.3 L741.2 1045.0 L746.0 1038.5 L750.8 1032.1 L755.6 1026.2 L760.4 1020.6 L765.2 1015.3 L770.0 1010.2 L774.8 1005.2 L779.7 1000.3 L784.5 995.6 L789.3 991.2 L794.1 987.5 L798.9 984.4 L803.7 982.1 L808.5 980.5 L813.3 979.5 L818.2 978.7 L823.0 978.1 L827.8 977.4 L832.6 976.8 L837.4 976.3 L842.2 976.1 L847.0 976.1 L851.8 976.4 L856.7 977.0 L861.5 978.0 L866.3 979.1 L871.1 980.5 L875.9 982.0 L880.7 983.7 L885.5 985.6 L890.3 987.6 L895.2 989.7 L900.0 991.9 L904.8 994.1 L909.6 996.3 L914.4 998.3 L919.2 1000.0 L924.0 1001.5 L928.8 1002.7 L933.7 1003.8 L938.5 1004.9 L943.3 1006.1 L948.1 1007.4 L952.9 1008.8 L957.7 1010.4 L962.5 1012.0 L967.3 1013.7 L972.2 1015.4 L977.0 1017.1 L981.8 1018.7 L986.6 1020.3 L991.4 1021.7 L996.2 1023.0 L1001.0 1024.2 L1005.8 1025.3 L1010.7 1026.4 L1015.5 1027.6 L1020.3 1028.7 L1025.1 1029.9 L1029.9 1031.1 L1034.7 1032.2 L1039.5 1033.1 L1044.3 1033.9 L1049.2 1034.5 L1054.0 1035.0 L1058.8 1035.5 L1063.6 1035.9" fill="none" stroke="#00A651" stroke-width="13.0" stroke-linecap="round" stroke-linejoin="round"/>
<path d="M244.4 1114.5 L249.2 1113.2 L254.0 1111.6 L258.9 1109.8 L263.7 1107.4 L268.5 1104.2 L273.3 1100.2 L278.1 1095.4 L283.0 1089.8 L287.8 1083.6 L292.6 1076.7 L297.4 1069.4 L302.2 1061.8 L307.0 1054.2 L311.9 1046.9 L316.7 1040.0 L321.5 1033.9 L326.3 1028.5 L331.1 1023.7 L336.0 1019.3 L340.8 1015.3 L345.6 1011.6 L350.4 1008.3 L355.2 1005.2 L360.1 1002.4 L364.9 999.9 L369.7 997.8 L374.5 996.0 L379.3 994.4 L384.1 993.0 L389.0 991.9 L393.8 990.9 L398.6 990.1 L403.4 989.4 L408.2 988.9 L413.1 988.5 L417.9 988.2 L422.7 988.1 L427.5 988.1 L432.3 988.2 L437.2 988.5 L442.0 988.8 L446.8 989.3 L451.6 989.9 L456.4 990.6 L461.2 991.4 L466.1 992.3 L470.9 993.3 L475.7 994.3 L480.5 995.4 L485.3 996.5 L490.2 997.7 L495.0 999.0 L499.8 1000.3 L504.6 1001.8 L509.4 1003.4 L514.3 1005.1 L519.1 1006.9 L523.9 1008.8 L528.7 1010.7 L533.5 1012.5 L538.3 1014.4 L543.2 1016.2 L548.0 1018.0 L552.8 1019.8 L557.6 1021.7 L562.4 1023.6 L567.3 1025.6 L572.1 1027.7 L576.9 1029.8 L581.7 1032.0 L586.5 1034.2 L591.4 1036.5 L596.2 1038.8 L601.0 1041.1 L605.8 1043.5 L610.6 1045.8 L615.4 1048.2 L620.3 1050.5 L625.1 1052.8 L629.9 1055.0 L634.7 1057.0 L639.5 1058.8 L644.4 1060.5 L649.2 1062.1 L654.0 1063.5 L658.8 1064.7 L663.6 1065.7 L668.5 1066.5 L673.3 1067.1 L678.1 1067.5 L682.9 1067.8 L687.7 1067.8 L692.6 1067.6 L697.4 1067.2 L702.2 1066.4 L707.0 1065.4 L711.8 1064.1 L716.6 1062.3 L721.5 1060.0 L726.3 1057.2 L731.1 1053.7 L735.9 1049.7 L740.7 1045.3 L745.6 1040.5 L750.4 1035.4 L755.2 1030.1 L760.0 1024.7 L764.8 1019.1 L769.7 1013.5 L774.5 1007.9 L779.3 1002.3 L784.1 996.9 L788.9 991.7 L793.7 986.9 L798.6 982.7 L803.4 979.2 L808.2 976.3 L813.0 974.1 L817.8 972.6 L822.7 971.9 L827.5 971.9 L832.3 972.5 L837.1 973.6 L841.9 975.1 L846.8 977.0 L851.6 979.0 L856.4 981.1 L861.2 983.3 L866.0 985.3 L870.8 987.3 L875.7 989.0 L880.5 990.4 L885.3 991.8 L890.1 993.0 L894.9 994.2 L899.8 995.4 L904.6 996.5 L909.4 997.7 L914.2 998.8 L919.0 999.9 L923.9 1001.1 L928.7 1002.3 L933.5 1003.5 L938.3 1004.7 L943.1 1006.1 L947.9 1007.5 L952.8 1009.0 L957.6 1010.5 L962.4 1012.1 L967.2 1013.7 L972.0 1015.2 L976.9 1016.8 L981.7 1018.4 L986.5 1020.0 L991.3 1021.7 L996.1 1023.5 L1001.0 1025.4 L1005.8 1027.2 L1010.6 1029.0 L1015.4 1030.8 L1020.2 1032.4 L1025.0 1033.9 L1029.9 1035.3 L1034.7 1036.6 L1039.5 1037.7 L1044.3 1038.8 L1049.1 1039.7 L1054.0 1040.6 L1058.8 1041.4 L1063.6 1042.3" fill="none" stroke="#231F20" stroke-width="3.6" stroke-linejoin="round"/>
<path d="M243.9 2119.7 L243.9 1818.8 L244.4 1818.8 L249.2 1818.9 L254.0 1819.2 L258.9 1819.6 L263.7 1820.2 L268.5 1821.0 L273.3 1822.0 L278.1 1823.1 L283.0 1824.4 L287.8 1825.9 L292.6 1827.5 L297.4 1829.3 L302.2 1831.2 L307.0 1833.2 L311.9 1835.4 L316.7 1837.7 L321.5 1840.1 L326.3 1842.6 L331.1 1845.3 L336.0 1848.0 L340.8 1850.8 L345.6 1853.7 L350.4 1856.7 L355.2 1859.7 L360.1 1862.8 L364.9 1866.0 L369.7 1869.2 L374.5 1872.4 L379.3 1875.7 L384.1 1879.0 L389.0 1882.3 L393.8 1885.7 L398.6 1889.0 L403.4 1892.4 L408.2 1895.8 L413.1 1899.1 L417.9 1902.5 L422.7 1905.8 L427.5 1909.2 L432.3 1912.5 L437.2 1915.8 L442.0 1919.1 L446.8 1922.3 L451.6 1925.5 L456.4 1928.7 L461.2 1931.9 L466.1 1935.0 L470.9 1938.1 L475.7 1941.1 L480.5 1944.1 L485.3 1947.1 L490.2 1950.0 L495.0 1952.9 L499.8 1955.7 L504.6 1958.5 L509.4 1961.3 L514.3 1964.0 L519.1 1966.6 L523.9 1969.3 L528.7 1971.8 L533.5 1974.4 L538.3 1976.8 L543.2 1979.3 L548.0 1981.7 L552.8 1984.0 L557.6 1986.3 L562.4 1988.6 L567.3 1990.8 L572.1 1993.0 L576.9 1995.1 L581.7 1997.2 L586.5 1999.3 L591.4 2001.3 L596.2 2003.3 L601.0 2005.2 L605.8 2007.1 L610.6 2009.0 L615.4 2010.8 L620.3 2012.6 L625.1 2014.3 L629.9 2016.0 L634.7 2017.7 L639.5 2019.4 L644.4 2021.0 L649.2 2022.6 L654.0 2024.1 L658.8 2025.6 L663.6 2027.1 L668.5 2028.6 L673.3 2030.0 L678.1 2031.4 L682.9 2032.8 L687.7 2034.1 L692.6 2035.4 L697.4 2036.7 L702.2 2038.0 L707.0 2039.2 L711.8 2040.5 L716.6 2041.6 L721.5 2042.8 L726.3 2044.0 L731.1 2045.1 L735.9 2046.2 L740.7 2047.3 L745.6 2048.3 L750.4 2049.4 L755.2 2050.4 L760.0 2051.4 L764.8 2052.3 L769.7 2053.3 L774.5 2054.2 L779.3 2055.2 L784.1 2056.1 L788.9 2057.0 L793.7 2057.8 L798.6 2058.7 L803.4 2059.5 L808.2 2060.3 L813.0 2061.2 L817.8 2061.9 L822.7 2062.7 L827.5 2063.5 L832.3 2064.2 L837.1 2065.0 L841.9 2065.7 L846.8 2066.4 L851.6 2067.1 L856.4 2067.8 L861.2 2068.4 L866.0 2069.1 L870.8 2069.8 L875.7 2070.4 L880.5 2071.0 L885.3 2071.6 L890.1 2072.2 L894.9 2072.8 L899.8 2073.4 L904.6 2074.0 L909.4 2074.5 L914.2 2075.1 L919.0 2075.6 L923.9 2076.2 L928.7 2076.7 L933.5 2077.2 L938.3 2077.7 L943.1 2078.2 L947.9 2078.7 L952.8 2079.2 L957.6 2079.6 L962.4 2080.1 L967.2 2080.6 L972.0 2081.0 L976.9 2081.5 L981.7 2081.9 L986.5 2082.3 L991.3 2082.7 L996.1 2083.2 L1001.0 2083.6 L1005.8 2084.0 L1010.6 2084.4 L1015.4 2084.8 L1020.2 2085.1 L1025.0 2085.5 L1029.9 2085.9 L1034.7 2086.3 L1039.5 2086.6 L1044.3 2087.0 L1049.1 2087.3 L1054.0 2087.7 L1058.8 2088.0 L1063.6 2088.3 L1066.6 2088.3 L1066.6 2119.7 Z" fill="#00AEEF"/>
<path d="M244.4 2119.7 L249.2 2119.4 L254.0 2118.5 L258.9 2117.0 L263.7 2114.9 L268.5 2112.3 L273.3 2109.0 L278.1 2105.2 L283.0 2100.8 L287.8 2095.9 L292.6 2090.4 L297.4 2084.5 L302.2 2078.0 L307.0 2071.1 L311.9 2063.8 L316.7 2056.0 L321.5 2048.0 L326.3 2039.6 L331.1 2031.0 L336.0 2022.1 L340.8 2013.2 L345.6 2004.1 L350.4 1995.0 L355.2 1985.9 L360.1 1977.0 L364.9 1968.2 L369.7 1959.6 L374.5 1951.3 L379.3 1943.3 L384.1 1935.8 L389.0 1928.7 L393.8 1922.0 L398.6 1915.9 L403.4 1910.3 L408.2 1905.2 L413.1 1900.7 L417.9 1896.8 L422.7 1893.5 L427.5 1890.7 L432.3 1888.5 L437.2 1886.8 L442.0 1885.7 L446.8 1885.0 L451.6 1884.8 L456.4 1885.0 L461.2 1885.6 L466.1 1886.6 L470.9 1887.9 L475.7 1889.5 L480.5 1891.4 L485.3 1893.6 L490.2 1895.9 L495.0 1898.5 L499.8 1901.2 L504.6 1904.1 L509.4 1907.1 L514.3 1910.2 L519.1 1913.3 L523.9 1916.6 L528.7 1919.9 L533.5 1923.2 L538.3 1926.5 L543.2 1929.9 L548.0 1933.2 L552.8 1936.6 L557.6 1939.9 L562.4 1943.2 L567.3 1946.5 L572.1 1949.7 L576.9 1952.9 L581.7 1956.1 L586.5 1959.2 L591.4 1962.3 L596.2 1965.3 L601.0 1968.3 L605.8 1971.2 L610.6 1974.0 L615.4 1976.8 L620.3 1979.6 L625.1 1982.3 L629.9 1984.9 L634.7 1987.5 L639.5 1990.0 L644.4 1992.5 L649.2 1994.9 L654.0 1997.2 L658.8 1999.5 L663.6 2001.8 L668.5 2004.0 L673.3 2006.1 L678.1 2008.2 L682.9 2010.3 L687.7 2012.3 L692.6 2014.2 L697.4 2016.1 L702.2 2018.0 L707.0 2019.8 L711.8 2021.6 L716.6 2023.3 L721.5 2025.0 L726.3 2026.7 L731.1 2028.3 L735.9 2029.9 L740.7 2031.4 L745.6 2032.9 L750.4 2034.4 L755.2 2035.8 L760.0 2037.2 L764.8 2038.6 L769.7 2039.9 L774.5 2041.2 L779.3 2042.5 L784.1 2043.8 L788.9 2045.0 L793.7 2046.2 L798.6 2047.3 L803.4 2048.5 L808.2 2049.6 L813.0 2050.7 L817.8 2051.7 L822.7 2052.8 L827.5 2053.8 L832.3 2054.8 L837.1 2055.8 L841.9 2056.7 L846.8 2057.7 L851.6 2058.6 L856.4 2059.5 L861.2 2060.4 L866.0 2061.2 L870.8 2062.1 L875.7 2062.9 L880.5 2063.7 L885.3 2064.5 L890.1 2065.3 L894.9 2066.0 L899.8 2066.8 L904.6 2067.5 L909.4 2068.2 L914.2 2068.9 L919.0 2069.6 L923.9 2070.3 L928.7 2070.9 L933.5 2071.6 L938.3 2072.2 L943.1 2072.9 L947.9 2073.5 L952.8 2074.1 L957.6 2074.7 L962.4 2075.2 L967.2 2075.8 L972.0 2076.4 L976.9 2076.9 L981.7 2077.4 L986.5 2078.0 L991.3 2078.5 L996.1 2079.0 L1001.0 2079.5 L1005.8 2080.0 L1010.6 2080.5 L1015.4 2080.9 L1020.2 2081.4 L1025.0 2081.8 L1029.9 2082.3 L1034.7 2082.7 L1039.5 2083.2 L1044.3 2083.6 L1049.1 2084.0 L1054.0 2084.4 L1058.8 2084.8 L1063.6 2085.2" fill="none" stroke="#939598" stroke-width="7.6" stroke-linecap="round" stroke-linejoin="round"/>
<path d="M244.4 2119.7 L249.2 2119.7 L254.0 2119.7 L258.9 2119.6 L263.7 2119.6 L268.5 2119.6 L273.3 2119.5 L278.1 2119.4 L283.0 2119.3 L287.8 2119.2 L292.6 2119.1 L297.4 2119.0 L302.2 2118.9 L307.0 2118.7 L311.9 2118.5 L316.7 2118.3 L321.5 2118.1 L326.3 2117.9 L331.1 2117.7 L336.0 2117.4 L340.8 2117.2 L345.6 2116.9 L350.4 2116.6 L355.2 2116.2 L360.1 2115.9 L364.9 2115.5 L369.7 2115.1 L374.5 2114.7 L379.3 2114.2 L384.1 2113.7 L389.0 2113.2 L393.8 2112.6 L398.6 2112.1 L403.4 2111.4 L408.2 2110.8 L413.1 2110.0 L417.9 2109.3 L422.7 2108.5 L427.5 2107.6 L432.3 2106.7 L437.2 2105.8 L442.0 2104.7 L446.8 2103.7 L451.6 2102.5 L456.4 2101.3 L461.2 2100.1 L466.1 2098.7 L470.9 2097.3 L475.7 2095.8 L480.5 2094.3 L485.3 2092.6 L490.2 2090.9 L495.0 2089.2 L499.8 2087.3 L504.6 2085.4 L509.4 2083.5 L514.3 2081.5 L519.1 2079.4 L523.9 2077.4 L528.7 2075.3 L533.5 2073.2 L538.3 2071.1 L543.2 2069.0 L548.0 2067.0 L552.8 2065.1 L557.6 2063.3 L562.4 2061.5 L567.3 2059.9 L572.1 2058.5 L576.9 2057.2 L581.7 2056.1 L586.5 2055.2 L591.4 2054.5 L596.2 2054.0 L601.0 2053.7 L605.8 2053.6 L610.6 2053.7 L615.4 2053.9 L620.3 2054.4 L625.1 2055.0 L629.9 2055.8 L634.7 2056.7 L639.5 2057.7 L644.4 2058.8 L649.2 2060.0 L654.0 2061.2 L658.8 2062.5 L663.6 2063.9 L668.5 2065.2 L673.3 2066.6 L678.1 2068.0 L682.9 2069.4 L687.7 2070.8 L692.6 2072.2 L697.4 2073.5 L702.2 2074.8 L707.0 2076.1 L711.8 2077.4 L716.6 2078.6 L721.5 2079.8 L726.3 2081.0 L731.1 2082.1 L735.9 2083.2 L740.7 2084.3 L745.6 2085.3 L750.4 2086.3 L755.2 2087.2 L760.0 2088.1 L764.8 2089.0 L769.7 2089.9 L774.5 2090.7 L779.3 2091.5 L784.1 2092.3 L788.9 2093.0 L793.7 2093.7 L798.6 2094.4 L803.4 2095.1 L808.2 2095.7 L813.0 2096.3 L817.8 2096.9 L822.7 2097.5 L827.5 2098.0 L832.3 2098.6 L837.1 2099.1 L841.9 2099.6 L846.8 2100.1 L851.6 2100.5 L856.4 2101.0 L861.2 2101.4 L866.0 2101.8 L870.8 2102.2 L875.7 2102.6 L880.5 2103.0 L885.3 2103.3 L890.1 2103.7 L894.9 2104.0 L899.8 2104.4 L904.6 2104.7 L909.4 2105.0 L914.2 2105.3 L919.0 2105.6 L923.9 2105.9 L928.7 2106.1 L933.5 2106.4 L938.3 2106.7 L943.1 2106.9 L947.9 2107.2 L952.8 2107.4 L957.6 2107.6 L962.4 2107.8 L967.2 2108.1 L972.0 2108.3 L976.9 2108.5 L981.7 2108.7 L986.5 2108.9 L991.3 2109.1 L996.1 2109.2 L1001.0 2109.4 L1005.8 2109.6 L1010.6 2109.8 L1015.4 2109.9 L1020.2 2110.1 L1025.0 2110.2 L1029.9 2110.4 L1034.7 2110.5 L1039.5 2110.7 L1044.3 2110.8 L1049.1 2111.0 L1054.0 2111.1 L1058.8 2111.2 L1063.6 2111.4" fill="none" stroke="#939598" stroke-width="7.6" stroke-linecap="round" stroke-linejoin="round"/>
<path d="M244.4 2119.7 L249.2 2119.7 L254.0 2119.7 L258.9 2119.7 L263.7 2119.7 L268.5 2119.7 L273.3 2119.7 L278.1 2119.7 L283.0 2119.7 L287.8 2119.6 L292.6 2119.6 L297.4 2119.6 L302.2 2119.6 L307.0 2119.6 L311.9 2119.6 L316.7 2119.5 L321.5 2119.5 L326.3 2119.5 L331.1 2119.5 L336.0 2119.4 L340.8 2119.4 L345.6 2119.4 L350.4 2119.3 L355.2 2119.3 L360.1 2119.2 L364.9 2119.2 L369.7 2119.2 L374.5 2119.1 L379.3 2119.1 L384.1 2119.0 L389.0 2119.0 L393.8 2118.9 L398.6 2118.8 L403.4 2118.8 L408.2 2118.7 L413.1 2118.6 L417.9 2118.6 L422.7 2118.5 L427.5 2118.4 L432.3 2118.3 L437.2 2118.2 L442.0 2118.1 L446.8 2118.0 L451.6 2117.9 L456.4 2117.8 L461.2 2117.7 L466.1 2117.6 L470.9 2117.5 L475.7 2117.3 L480.5 2117.2 L485.3 2117.0 L490.2 2116.9 L495.0 2116.7 L499.8 2116.6 L504.6 2116.4 L509.4 2116.2 L514.3 2116.0 L519.1 2115.8 L523.9 2115.6 L528.7 2115.3 L533.5 2115.1 L538.3 2114.8 L543.2 2114.6 L548.0 2114.3 L552.8 2114.0 L557.6 2113.6 L562.4 2113.3 L567.3 2112.9 L572.1 2112.5 L576.9 2112.1 L581.7 2111.7 L586.5 2111.2 L591.4 2110.7 L596.2 2110.2 L601.0 2109.7 L605.8 2109.1 L610.6 2108.4 L615.4 2107.7 L620.3 2107.0 L625.1 2106.2 L629.9 2105.4 L634.7 2104.5 L639.5 2103.6 L644.4 2102.5 L649.2 2101.4 L654.0 2100.2 L658.8 2099.0 L663.6 2097.6 L668.5 2096.1 L673.3 2094.5 L678.1 2092.7 L682.9 2090.9 L687.7 2088.8 L692.6 2086.6 L697.4 2084.2 L702.2 2081.7 L707.0 2078.9 L711.8 2075.9 L716.6 2072.6 L721.5 2069.1 L726.3 2065.3 L731.1 2061.2 L735.9 2056.9 L740.7 2052.3 L745.6 2047.3 L750.4 2042.1 L755.2 2036.7 L760.0 2031.1 L764.8 2025.4 L769.7 2019.6 L774.5 2013.9 L779.3 2008.4 L784.1 2003.2 L788.9 1998.4 L793.7 1994.3 L798.6 1991.0 L803.4 1988.5 L808.2 1987.0 L813.0 1986.5 L817.8 1987.0 L822.7 1988.5 L827.5 1990.8 L832.3 1993.8 L837.1 1997.5 L841.9 2001.7 L846.8 2006.3 L851.6 2011.0 L856.4 2015.9 L861.2 2020.9 L866.0 2025.7 L870.8 2030.5 L875.7 2035.1 L880.5 2039.5 L885.3 2043.8 L890.1 2047.8 L894.9 2051.6 L899.8 2055.2 L904.6 2058.5 L909.4 2061.7 L914.2 2064.6 L919.0 2067.4 L923.9 2070.0 L928.7 2072.4 L933.5 2074.7 L938.3 2076.8 L943.1 2078.8 L947.9 2080.7 L952.8 2082.4 L957.6 2084.0 L962.4 2085.6 L967.2 2087.0 L972.0 2088.4 L976.9 2089.6 L981.7 2090.8 L986.5 2092.0 L991.3 2093.0 L996.1 2094.0 L1001.0 2095.0 L1005.8 2095.9 L1010.6 2096.7 L1015.4 2097.5 L1020.2 2098.3 L1025.0 2099.0 L1029.9 2099.7 L1034.7 2100.4 L1039.5 2101.0 L1044.3 2101.6 L1049.1 2102.1 L1054.0 2102.7 L1058.8 2103.2 L1063.6 2103.7" fill="none" stroke="#939598" stroke-width="7.6" stroke-linecap="round" stroke-linejoin="round"/>
<path d="M244.4 2119.7 L249.2 2119.7 L254.0 2119.7 L258.9 2119.7 L263.7 2119.7 L268.5 2119.6 L273.3 2119.6 L278.1 2119.6 L283.0 2119.5 L287.8 2119.5 L292.6 2119.4 L297.4 2119.4 L302.2 2119.3 L307.0 2119.3 L311.9 2119.2 L316.7 2119.1 L321.5 2119.0 L326.3 2118.9 L331.1 2118.9 L336.0 2118.8 L340.8 2118.6 L345.6 2118.5 L350.4 2118.4 L355.2 2118.3 L360.1 2118.2 L364.9 2118.0 L369.7 2117.9 L374.5 2117.7 L379.3 2117.6 L384.1 2117.4 L389.0 2117.2 L393.8 2117.1 L398.6 2116.9 L403.4 2116.7 L408.2 2116.5 L413.1 2116.3 L417.9 2116.0 L422.7 2115.8 L427.5 2115.6 L432.3 2115.3 L437.2 2115.1 L442.0 2114.8 L446.8 2114.5 L451.6 2114.2 L456.4 2113.9 L461.2 2113.6 L466.1 2113.3 L470.9 2113.0 L475.7 2112.6 L480.5 2112.3 L485.3 2111.9 L490.2 2111.5 L495.0 2111.1 L499.8 2110.7 L504.6 2110.2 L509.4 2109.8 L514.3 2109.3 L519.1 2108.9 L523.9 2108.4 L528.7 2107.9 L533.5 2107.3 L538.3 2106.8 L543.2 2106.2 L548.0 2105.6 L552.8 2105.0 L557.6 2104.4 L562.4 2103.7 L567.3 2103.0 L572.1 2102.3 L576.9 2101.6 L581.7 2100.8 L586.5 2100.0 L591.4 2099.2 L596.2 2098.4 L601.0 2097.5 L605.8 2096.6 L610.6 2095.6 L615.4 2094.6 L620.3 2093.6 L625.1 2092.6 L629.9 2091.5 L634.7 2090.3 L639.5 2089.2 L644.4 2087.9 L649.2 2086.7 L654.0 2085.4 L658.8 2084.0 L663.6 2082.6 L668.5 2081.1 L673.3 2079.6 L678.1 2078.0 L682.9 2076.4 L687.7 2074.7 L692.6 2072.9 L697.4 2071.1 L702.2 2069.2 L707.0 2067.3 L711.8 2065.3 L716.6 2063.2 L721.5 2061.0 L726.3 2058.7 L731.1 2056.4 L735.9 2054.0 L740.7 2051.5 L745.6 2048.9 L750.4 2046.3 L755.2 2043.6 L760.0 2040.7 L764.8 2037.8 L769.7 2034.8 L774.5 2031.8 L779.3 2028.6 L784.1 2025.4 L788.9 2022.0 L793.7 2018.6 L798.6 2015.2 L803.4 2011.6 L808.2 2008.0 L813.0 2004.4 L817.8 2000.6 L822.7 1996.9 L827.5 1993.1 L832.3 1989.3 L837.1 1985.4 L841.9 1981.6 L846.8 1977.8 L851.6 1974.0 L856.4 1970.2 L861.2 1966.5 L866.0 1962.8 L870.8 1959.3 L875.7 1955.8 L880.5 1952.5 L885.3 1949.3 L890.1 1946.2 L894.9 1943.4 L899.8 1940.7 L904.6 1938.2 L909.4 1935.9 L914.2 1933.8 L919.0 1932.0 L923.9 1930.4 L928.7 1929.1 L933.5 1928.1 L938.3 1927.3 L943.1 1926.7 L947.9 1926.4 L952.8 1926.4 L957.6 1926.6 L962.4 1927.1 L967.2 1927.8 L972.0 1928.7 L976.9 1929.9 L981.7 1931.3 L986.5 1932.8 L991.3 1934.5 L996.1 1936.4 L1001.0 1938.4 L1005.8 1940.6 L1010.6 1942.9 L1015.4 1945.3 L1020.2 1947.8 L1025.0 1950.3 L1029.9 1953.0 L1034.7 1955.7 L1039.5 1958.4 L1044.3 1961.2 L1049.1 1964.0 L1054.0 1966.8 L1058.8 1969.6 L1063.6 1972.4" fill="none" stroke="#939598" stroke-width="7.6" stroke-linecap="round" stroke-linejoin="round"/>
<path d="M244.4 2119.7 L249.2 2119.7 L254.0 2119.7 L258.9 2119.7 L263.7 2119.7 L268.5 2119.7 L273.3 2119.7 L278.1 2119.6 L283.0 2119.6 L287.8 2119.6 L292.6 2119.6 L297.4 2119.6 L302.2 2119.5 L307.0 2119.5 L311.9 2119.5 L316.7 2119.4 L321.5 2119.4 L326.3 2119.4 L331.1 2119.3 L336.0 2119.3 L340.8 2119.2 L345.6 2119.2 L350.4 2119.1 L355.2 2119.1 L360.1 2119.0 L364.9 2119.0 L369.7 2118.9 L374.5 2118.8 L379.3 2118.8 L384.1 2118.7 L389.0 2118.6 L393.8 2118.5 L398.6 2118.5 L403.4 2118.4 L408.2 2118.3 L413.1 2118.2 L417.9 2118.1 L422.7 2118.0 L427.5 2117.9 L432.3 2117.8 L437.2 2117.7 L442.0 2117.6 L446.8 2117.5 L451.6 2117.4 L456.4 2117.3 L461.2 2117.2 L466.1 2117.0 L470.9 2116.9 L475.7 2116.8 L480.5 2116.6 L485.3 2116.5 L490.2 2116.4 L495.0 2116.2 L499.8 2116.1 L504.6 2115.9 L509.4 2115.7 L514.3 2115.6 L519.1 2115.4 L523.9 2115.2 L528.7 2115.1 L533.5 2114.9 L538.3 2114.7 L543.2 2114.5 L548.0 2114.3 L552.8 2114.1 L557.6 2113.9 L562.4 2113.7 L567.3 2113.4 L572.1 2113.2 L576.9 2113.0 L581.7 2112.7 L586.5 2112.5 L591.4 2112.3 L596.2 2112.0 L601.0 2111.7 L605.8 2111.5 L610.6 2111.2 L615.4 2110.9 L620.3 2110.6 L625.1 2110.3 L629.9 2110.0 L634.7 2109.7 L639.5 2109.4 L644.4 2109.0 L649.2 2108.7 L654.0 2108.4 L658.8 2108.0 L663.6 2107.6 L668.5 2107.3 L673.3 2106.9 L678.1 2106.5 L682.9 2106.1 L687.7 2105.6 L692.6 2105.2 L697.4 2104.8 L702.2 2104.3 L707.0 2103.9 L711.8 2103.4 L716.6 2102.9 L721.5 2102.4 L726.3 2101.9 L731.1 2101.4 L735.9 2100.8 L740.7 2100.3 L745.6 2099.7 L750.4 2099.1 L755.2 2098.5 L760.0 2097.9 L764.8 2097.3 L769.7 2096.6 L774.5 2095.9 L779.3 2095.2 L784.1 2094.5 L788.9 2093.8 L793.7 2093.1 L798.6 2092.3 L803.4 2091.5 L808.2 2090.7 L813.0 2089.9 L817.8 2089.0 L822.7 2088.1 L827.5 2087.2 L832.3 2086.3 L837.1 2085.3 L841.9 2084.4 L846.8 2083.4 L851.6 2082.3 L856.4 2081.3 L861.2 2080.2 L866.0 2079.0 L870.8 2077.9 L875.7 2076.7 L880.5 2075.5 L885.3 2074.2 L890.1 2072.9 L894.9 2071.6 L899.8 2070.2 L904.6 2068.8 L909.4 2067.3 L914.2 2065.9 L919.0 2064.3 L923.9 2062.8 L928.7 2061.1 L933.5 2059.5 L938.3 2057.8 L943.1 2056.0 L947.9 2054.2 L952.8 2052.4 L957.6 2050.5 L962.4 2048.5 L967.2 2046.5 L972.0 2044.5 L976.9 2042.3 L981.7 2040.2 L986.5 2038.0 L991.3 2035.7 L996.1 2033.4 L1001.0 2031.0 L1005.8 2028.5 L1010.6 2026.0 L1015.4 2023.4 L1020.2 2020.8 L1025.0 2018.1 L1029.9 2015.4 L1034.7 2012.6 L1039.5 2009.8 L1044.3 2006.8 L1049.1 2003.9 L1054.0 2000.9 L1058.8 1997.8 L1063.6 1994.7" fill="none" stroke="#939598" stroke-width="7.6" stroke-linecap="round" stroke-linejoin="round"/>
<path d="M322.5 1765.6 L327.3 1759.3 L332.1 1752.8 L336.9 1746.2 L341.7 1739.6 L346.5 1733.0 L351.3 1726.5 L356.2 1720.0 L361.0 1713.8 L365.8 1707.6 L370.6 1701.8 L375.4 1696.2 L380.2 1690.9 L385.0 1686.0 L389.8 1681.6 L394.7 1677.7 L399.5 1674.3 L404.3 1671.5 L409.1 1669.1 L413.9 1667.1 L418.7 1665.7 L423.5 1664.6 L428.3 1664.0 L433.2 1663.8 L438.0 1664.0 L442.8 1664.5 L447.6 1665.4 L452.4 1666.6 L457.2 1668.1 L462.0 1670.0 L466.8 1672.2 L471.7 1674.6 L476.5 1677.2 L481.3 1680.0 L486.1 1682.8 L490.9 1685.8 L495.7 1688.8 L500.5 1691.8 L505.3 1694.9 L510.2 1698.0 L515.0 1701.2 L519.8 1704.3 L524.6 1707.3 L529.4 1710.3 L534.2 1713.1 L539.0 1715.8 L543.8 1718.4 L548.7 1720.8 L553.5 1723.2 L558.3 1725.6 L563.1 1728.0 L567.9 1730.3 L572.7 1732.7 L577.5 1735.2 L582.3 1737.8 L587.2 1740.4 L592.0 1743.1 L596.8 1745.8 L601.6 1748.6 L606.4 1751.3 L611.2 1753.9 L616.0 1756.5 L620.8 1759.0 L625.7 1761.5 L630.5 1764.1 L635.3 1766.7 L640.1 1769.3 L644.9 1772.0 L649.7 1774.9 L654.5 1777.8 L659.3 1780.8 L664.2 1783.8 L669.0 1786.6 L673.8 1789.0 L678.6 1790.8 L683.4 1791.9 L688.2 1792.4 L693.0 1792.5 L697.8 1792.2 L702.7 1791.7 L707.5 1791.0 L712.3 1790.0 L717.1 1788.4 L721.9 1786.1 L726.7 1782.9 L731.5 1778.6 L736.3 1773.3 L741.2 1767.4 L746.0 1760.9 L750.8 1754.0 L755.6 1747.1 L760.4 1740.1 L765.2 1733.3 L770.0 1726.8 L774.8 1720.9 L779.7 1715.6 L784.5 1710.9 L789.3 1706.9 L794.1 1703.7 L798.9 1701.2 L803.7 1699.4 L808.5 1698.3 L813.3 1697.7 L818.2 1697.4 L823.0 1697.3 L827.8 1697.3 L832.6 1697.4 L837.4 1697.6 L842.2 1697.9 L847.0 1698.4 L851.8 1699.1 L856.7 1699.8 L861.5 1700.8 L866.3 1701.9 L871.1 1703.1 L875.9 1704.5 L880.7 1706.0 L885.5 1707.6 L890.3 1709.3 L895.2 1711.2 L900.0 1713.1 L904.8 1715.0 L909.6 1717.0 L914.4 1718.9 L919.2 1720.8 L924.0 1722.5 L928.8 1724.0 L933.7 1725.5 L938.5 1726.9 L943.3 1728.2 L948.1 1729.5 L952.9 1730.7 L957.7 1731.8 L962.5 1733.0 L967.3 1734.0 L972.2 1735.1 L977.0 1736.1 L981.8 1737.1 L986.6 1738.0 L991.4 1739.0 L996.2 1740.0 L1001.0 1740.9 L1005.8 1741.9 L1010.7 1742.8 L1015.5 1743.6 L1020.3 1744.4 L1025.1 1745.2 L1029.9 1746.0 L1034.7 1746.7 L1039.5 1747.3 L1044.3 1748.0 L1049.2 1748.6 L1054.0 1749.2 L1058.8 1749.9 L1063.6 1750.5" fill="none" stroke="#EC008C" stroke-width="13.9" stroke-linecap="round" stroke-linejoin="round"/>
<path d="M244.4 1818.8 L249.2 1818.0 L254.0 1817.1 L258.9 1816.0 L263.7 1814.7 L268.5 1813.0 L273.3 1810.9 L278.1 1808.3 L283.0 1805.4 L287.8 1801.9 L292.6 1798.1 L297.4 1793.8 L302.2 1789.2 L307.0 1784.1 L311.9 1778.7 L316.7 1772.9 L321.5 1766.9 L326.3 1760.6 L331.1 1754.1 L336.0 1747.5 L340.8 1740.8 L345.6 1734.2 L350.4 1727.7 L355.2 1721.2 L360.1 1714.9 L364.9 1708.8 L369.7 1702.8 L374.5 1697.1 L379.3 1691.8 L384.1 1686.9 L389.0 1682.4 L393.8 1678.4 L398.6 1674.9 L403.4 1672.0 L408.2 1669.5 L413.1 1667.5 L417.9 1666.0 L422.7 1664.9 L427.5 1664.2 L432.3 1664.0 L437.2 1664.1 L442.0 1664.6 L446.8 1665.4 L451.6 1666.5 L456.4 1668.0 L461.2 1669.8 L466.1 1671.9 L470.9 1674.3 L475.7 1676.8 L480.5 1679.6 L485.3 1682.4 L490.2 1685.3 L495.0 1688.2 L499.8 1691.2 L504.6 1694.2 L509.4 1697.3 L514.3 1700.4 L519.1 1703.4 L523.9 1706.4 L528.7 1709.4 L533.5 1712.2 L538.3 1714.9 L543.2 1717.4 L548.0 1719.9 L552.8 1722.3 L557.6 1724.8 L562.4 1727.2 L567.3 1729.6 L572.1 1732.1 L576.9 1734.7 L581.7 1737.4 L586.5 1740.2 L591.4 1743.2 L596.2 1746.2 L601.0 1749.2 L605.8 1752.3 L610.6 1755.4 L615.4 1758.4 L620.3 1761.4 L625.1 1764.4 L629.9 1767.2 L634.7 1769.9 L639.5 1772.5 L644.4 1774.8 L649.2 1776.9 L654.0 1778.7 L658.8 1780.1 L663.6 1781.3 L668.5 1782.0 L673.3 1782.5 L678.1 1782.6 L682.9 1782.3 L687.7 1781.8 L692.6 1781.0 L697.4 1779.9 L702.2 1778.7 L707.0 1777.3 L711.8 1775.7 L716.6 1773.8 L721.5 1771.8 L726.3 1769.5 L731.1 1767.0 L735.9 1764.2 L740.7 1761.2 L745.6 1758.0 L750.4 1754.6 L755.2 1751.2 L760.0 1747.6 L764.8 1743.9 L769.7 1740.2 L774.5 1736.3 L779.3 1732.4 L784.1 1728.4 L788.9 1724.5 L793.7 1720.6 L798.6 1716.8 L803.4 1713.2 L808.2 1709.7 L813.0 1706.4 L817.8 1703.4 L822.7 1700.7 L827.5 1698.3 L832.3 1696.1 L837.1 1694.3 L841.9 1692.8 L846.8 1691.5 L851.6 1690.6 L856.4 1690.0 L861.2 1689.6 L866.0 1689.6 L870.8 1690.0 L875.7 1690.7 L880.5 1691.6 L885.3 1692.9 L890.1 1694.4 L894.9 1696.2 L899.8 1698.1 L904.6 1700.2 L909.4 1702.5 L914.2 1704.9 L919.0 1707.5 L923.9 1710.4 L928.7 1713.3 L933.5 1716.4 L938.3 1719.4 L943.1 1722.4 L947.9 1725.4 L952.8 1728.3 L957.6 1731.0 L962.4 1733.7 L967.2 1736.3 L972.0 1738.8 L976.9 1741.2 L981.7 1743.5 L986.5 1745.7 L991.3 1747.7 L996.1 1749.6 L1001.0 1751.4 L1005.8 1753.0 L1010.6 1754.4 L1015.4 1755.7 L1020.2 1756.9 L1025.0 1757.9 L1029.9 1758.6 L1034.7 1759.2 L1039.5 1759.6 L1044.3 1759.8 L1049.1 1759.8 L1054.0 1759.7 L1058.8 1759.4 L1063.6 1759.2" fill="none" stroke="#231F20" stroke-width="4.9" stroke-linejoin="round"/>
<path d="M1140.1 729.2 L1140.1 443.0 L1142.8 443.0 L1147.6 443.1 L1152.4 443.3 L1157.3 443.8 L1162.1 444.4 L1166.9 445.2 L1171.7 446.2 L1176.6 447.4 L1181.4 448.7 L1186.2 450.2 L1191.0 451.8 L1195.9 453.6 L1200.7 455.5 L1205.5 457.6 L1210.3 459.8 L1215.2 462.1 L1220.0 464.6 L1224.8 467.1 L1229.6 469.8 L1234.4 472.5 L1239.3 475.4 L1244.1 478.3 L1248.9 481.3 L1253.7 484.3 L1258.6 487.4 L1263.4 490.5 L1268.2 493.7 L1273.0 497.0 L1277.9 500.2 L1282.7 503.5 L1287.5 506.8 L1292.3 510.1 L1297.2 513.4 L1302.0 516.8 L1306.8 520.1 L1311.6 523.4 L1316.4 526.7 L1321.3 530.0 L1326.1 533.2 L1330.9 536.5 L1335.7 539.7 L1340.6 542.9 L1345.4 546.0 L1350.2 549.1 L1355.0 552.2 L1359.9 555.3 L1364.7 558.3 L1369.5 561.3 L1374.3 564.2 L1379.2 567.1 L1384.0 569.9 L1388.8 572.7 L1393.6 575.5 L1398.4 578.2 L1403.3 580.9 L1408.1 583.5 L1412.9 586.1 L1417.7 588.6 L1422.6 591.1 L1427.4 593.6 L1432.2 595.9 L1437.0 598.3 L1441.9 600.6 L1446.7 602.9 L1451.5 605.1 L1456.3 607.3 L1461.2 609.4 L1466.0 611.5 L1470.8 613.5 L1475.6 615.5 L1480.4 617.5 L1485.3 619.4 L1490.1 621.3 L1494.9 623.2 L1499.7 625.0 L1504.6 626.7 L1509.4 628.5 L1514.2 630.2 L1519.0 631.8 L1523.9 633.5 L1528.7 635.1 L1533.5 636.6 L1538.3 638.2 L1543.2 639.7 L1548.0 641.1 L1552.8 642.6 L1557.6 644.0 L1562.4 645.4 L1567.3 646.7 L1572.1 648.0 L1576.9 649.3 L1581.7 650.6 L1586.6 651.8 L1591.4 653.0 L1596.2 654.2 L1601.0 655.4 L1605.9 656.5 L1610.7 657.7 L1615.5 658.7 L1620.3 659.8 L1625.2 660.9 L1630.0 661.9 L1634.8 662.9 L1639.6 663.9 L1644.4 664.9 L1649.3 665.8 L1654.1 666.7 L1658.9 667.7 L1663.7 668.6 L1668.6 669.4 L1673.4 670.3 L1678.2 671.1 L1683.0 672.0 L1687.9 672.8 L1692.7 673.6 L1697.5 674.3 L1702.3 675.1 L1707.2 675.9 L1712.0 676.6 L1716.8 677.3 L1721.6 678.0 L1726.4 678.7 L1731.3 679.4 L1736.1 680.1 L1740.9 680.7 L1745.7 681.4 L1750.6 682.0 L1755.4 682.6 L1760.2 683.2 L1765.0 683.8 L1769.9 684.4 L1774.7 685.0 L1779.5 685.5 L1784.3 686.1 L1789.2 686.6 L1794.0 687.2 L1798.8 687.7 L1803.6 688.2 L1808.4 688.7 L1813.3 689.2 L1818.1 689.7 L1822.9 690.2 L1827.7 690.7 L1832.6 691.1 L1837.4 691.6 L1842.2 692.1 L1847.0 692.5 L1851.9 692.9 L1856.7 693.4 L1861.5 693.8 L1866.3 694.2 L1871.2 694.6 L1876.0 695.0 L1880.8 695.4 L1885.6 695.8 L1890.4 696.2 L1895.3 696.5 L1900.1 696.9 L1904.9 697.3 L1909.7 697.6 L1914.6 698.0 L1919.4 698.3 L1924.2 698.6 L1929.0 699.0 L1933.9 699.3 L1938.7 699.6 L1943.5 700.0 L1948.3 700.3 L1953.2 700.6 L1958.0 700.9 L1962.8 701.2 L1967.1 701.2 L1967.1 729.2 Z" fill="#00AEEF"/>
<rect x="1962.8" y="701.2" width="4.3" height="30.3" fill="#00AEEF"/>
<path d="M1142.8 729.2 L1147.6 728.9 L1152.4 728.0 L1157.3 726.5 L1162.1 724.5 L1166.9 721.8 L1171.7 718.6 L1176.6 714.9 L1181.4 710.6 L1186.2 705.8 L1191.0 700.6 L1195.9 694.8 L1200.7 688.7 L1205.5 682.1 L1210.3 675.2 L1215.2 668.0 L1220.0 660.6 L1224.8 652.9 L1229.6 645.0 L1234.4 637.1 L1239.3 629.0 L1244.1 621.0 L1248.9 613.0 L1253.7 605.1 L1258.6 597.4 L1263.4 589.9 L1268.2 582.6 L1273.0 575.6 L1277.9 569.0 L1282.7 562.8 L1287.5 556.9 L1292.3 551.5 L1297.2 546.5 L1302.0 542.0 L1306.8 537.9 L1311.6 534.4 L1316.4 531.2 L1321.3 528.6 L1326.1 526.4 L1330.9 524.7 L1335.7 523.3 L1340.6 522.4 L1345.4 521.9 L1350.2 521.7 L1355.0 521.9 L1359.9 522.4 L1364.7 523.1 L1369.5 524.2 L1374.3 525.5 L1379.2 527.0 L1384.0 528.7 L1388.8 530.5 L1393.6 532.6 L1398.4 534.7 L1403.3 537.0 L1408.1 539.4 L1412.9 541.9 L1417.7 544.5 L1422.6 547.1 L1427.4 549.7 L1432.2 552.4 L1437.0 555.2 L1441.9 557.9 L1446.7 560.7 L1451.5 563.4 L1456.3 566.2 L1461.2 568.9 L1466.0 571.6 L1470.8 574.3 L1475.6 577.0 L1480.4 579.7 L1485.3 582.3 L1490.1 584.9 L1494.9 587.5 L1499.7 590.0 L1504.6 592.5 L1509.4 594.9 L1514.2 597.3 L1519.0 599.7 L1523.9 602.0 L1528.7 604.2 L1533.5 606.5 L1538.3 608.7 L1543.2 610.8 L1548.0 612.9 L1552.8 615.0 L1557.6 617.0 L1562.4 619.0 L1567.3 620.9 L1572.1 622.8 L1576.9 624.6 L1581.7 626.5 L1586.6 628.2 L1591.4 630.0 L1596.2 631.7 L1601.0 633.3 L1605.9 635.0 L1610.7 636.6 L1615.5 638.1 L1620.3 639.6 L1625.2 641.1 L1630.0 642.6 L1634.8 644.0 L1639.6 645.4 L1644.4 646.8 L1649.3 648.1 L1654.1 649.4 L1658.9 650.7 L1663.7 651.9 L1668.6 653.2 L1673.4 654.4 L1678.2 655.5 L1683.0 656.7 L1687.9 657.8 L1692.7 658.9 L1697.5 660.0 L1702.3 661.0 L1707.2 662.1 L1712.0 663.1 L1716.8 664.0 L1721.6 665.0 L1726.4 666.0 L1731.3 666.9 L1736.1 667.8 L1740.9 668.7 L1745.7 669.6 L1750.6 670.4 L1755.4 671.2 L1760.2 672.1 L1765.0 672.9 L1769.9 673.7 L1774.7 674.4 L1779.5 675.2 L1784.3 675.9 L1789.2 676.7 L1794.0 677.4 L1798.8 678.1 L1803.6 678.8 L1808.4 679.4 L1813.3 680.1 L1818.1 680.7 L1822.9 681.4 L1827.7 682.0 L1832.6 682.6 L1837.4 683.2 L1842.2 683.8 L1847.0 684.4 L1851.9 684.9 L1856.7 685.5 L1861.5 686.0 L1866.3 686.6 L1871.2 687.1 L1876.0 687.6 L1880.8 688.1 L1885.6 688.6 L1890.4 689.1 L1895.3 689.6 L1900.1 690.1 L1904.9 690.5 L1909.7 691.0 L1914.6 691.5 L1919.4 691.9 L1924.2 692.3 L1929.0 692.8 L1933.9 693.2 L1938.7 693.6 L1943.5 694.0 L1948.3 694.4 L1953.2 694.8 L1958.0 695.2 L1962.8 695.6 L1967.1 695.9" fill="none" stroke="#939598" stroke-width="7.6" stroke-linecap="butt" stroke-linejoin="round"/>
<path d="M1142.8 729.2 L1147.6 729.2 L1152.4 729.2 L1157.3 729.1 L1162.1 729.1 L1166.9 729.0 L1171.7 728.9 L1176.6 728.9 L1181.4 728.8 L1186.2 728.6 L1191.0 728.5 L1195.9 728.3 L1200.7 728.2 L1205.5 728.0 L1210.3 727.8 L1215.2 727.5 L1220.0 727.3 L1224.8 727.0 L1229.6 726.7 L1234.4 726.4 L1239.3 726.1 L1244.1 725.7 L1248.9 725.4 L1253.7 724.9 L1258.6 724.5 L1263.4 724.0 L1268.2 723.5 L1273.0 723.0 L1277.9 722.4 L1282.7 721.8 L1287.5 721.1 L1292.3 720.4 L1297.2 719.7 L1302.0 718.9 L1306.8 718.1 L1311.6 717.2 L1316.4 716.2 L1321.3 715.2 L1326.1 714.2 L1330.9 713.0 L1335.7 711.8 L1340.6 710.6 L1345.4 709.3 L1350.2 707.9 L1355.0 706.4 L1359.9 704.8 L1364.7 703.2 L1369.5 701.5 L1374.3 699.8 L1379.2 697.9 L1384.0 696.0 L1388.8 694.1 L1393.6 692.1 L1398.4 690.0 L1403.3 688.0 L1408.1 685.9 L1412.9 683.8 L1417.7 681.7 L1422.6 679.7 L1427.4 677.7 L1432.2 675.8 L1437.0 673.9 L1441.9 672.2 L1446.7 670.6 L1451.5 669.2 L1456.3 667.9 L1461.2 666.8 L1466.0 665.9 L1470.8 665.3 L1475.6 664.8 L1480.4 664.5 L1485.3 664.4 L1490.1 664.5 L1494.9 664.7 L1499.7 665.2 L1504.6 665.8 L1509.4 666.5 L1514.2 667.4 L1519.0 668.4 L1523.9 669.5 L1528.7 670.6 L1533.5 671.8 L1538.3 673.1 L1543.2 674.4 L1548.0 675.7 L1552.8 677.1 L1557.6 678.4 L1562.4 679.8 L1567.3 681.1 L1572.1 682.5 L1576.9 683.8 L1581.7 685.1 L1586.6 686.3 L1591.4 687.5 L1596.2 688.7 L1601.0 689.9 L1605.9 691.0 L1610.7 692.1 L1615.5 693.2 L1620.3 694.2 L1625.2 695.2 L1630.0 696.2 L1634.8 697.1 L1639.6 698.0 L1644.4 698.9 L1649.3 699.7 L1654.1 700.6 L1658.9 701.3 L1663.7 702.1 L1668.6 702.8 L1673.4 703.5 L1678.2 704.2 L1683.0 704.8 L1687.9 705.4 L1692.7 706.0 L1697.5 706.6 L1702.3 707.2 L1707.2 707.7 L1712.0 708.3 L1716.8 708.8 L1721.6 709.2 L1726.4 709.7 L1731.3 710.2 L1736.1 710.6 L1740.9 711.0 L1745.7 711.4 L1750.6 711.8 L1755.4 712.2 L1760.2 712.6 L1765.0 713.0 L1769.9 713.3 L1774.7 713.6 L1779.5 714.0 L1784.3 714.3 L1789.2 714.6 L1794.0 714.9 L1798.8 715.2 L1803.6 715.4 L1808.4 715.7 L1813.3 716.0 L1818.1 716.2 L1822.9 716.5 L1827.7 716.7 L1832.6 717.0 L1837.4 717.2 L1842.2 717.4 L1847.0 717.6 L1851.9 717.8 L1856.7 718.0 L1861.5 718.2 L1866.3 718.4 L1871.2 718.6 L1876.0 718.8 L1880.8 719.0 L1885.6 719.1 L1890.4 719.3 L1895.3 719.5 L1900.1 719.6 L1904.9 719.8 L1909.7 719.9 L1914.6 720.1 L1919.4 720.2 L1924.2 720.4 L1929.0 720.5 L1933.9 720.6 L1938.7 720.8 L1943.5 720.9 L1948.3 721.0 L1953.2 721.1 L1958.0 721.3 L1962.8 721.4 L1967.1 721.5" fill="none" stroke="#939598" stroke-width="7.6" stroke-linecap="butt" stroke-linejoin="round"/>
<path d="M1142.8 729.2 L1147.6 729.2 L1152.4 729.2 L1157.3 729.2 L1162.1 729.2 L1166.9 729.2 L1171.7 729.2 L1176.6 729.2 L1181.4 729.2 L1186.2 729.1 L1191.0 729.1 L1195.9 729.1 L1200.7 729.1 L1205.5 729.1 L1210.3 729.0 L1215.2 729.0 L1220.0 729.0 L1224.8 729.0 L1229.6 728.9 L1234.4 728.9 L1239.3 728.9 L1244.1 728.8 L1248.9 728.8 L1253.7 728.8 L1258.6 728.7 L1263.4 728.7 L1268.2 728.6 L1273.0 728.6 L1277.9 728.5 L1282.7 728.5 L1287.5 728.4 L1292.3 728.4 L1297.2 728.3 L1302.0 728.2 L1306.8 728.2 L1311.6 728.1 L1316.4 728.0 L1321.3 728.0 L1326.1 727.9 L1330.9 727.8 L1335.7 727.7 L1340.6 727.6 L1345.4 727.5 L1350.2 727.4 L1355.0 727.3 L1359.9 727.2 L1364.7 727.1 L1369.5 726.9 L1374.3 726.8 L1379.2 726.7 L1384.0 726.5 L1388.8 726.4 L1393.6 726.2 L1398.4 726.0 L1403.3 725.8 L1408.1 725.7 L1412.9 725.5 L1417.7 725.3 L1422.6 725.0 L1427.4 724.8 L1432.2 724.6 L1437.0 724.3 L1441.9 724.1 L1446.7 723.8 L1451.5 723.5 L1456.3 723.2 L1461.2 722.8 L1466.0 722.5 L1470.8 722.1 L1475.6 721.7 L1480.4 721.3 L1485.3 720.9 L1490.1 720.4 L1494.9 719.9 L1499.7 719.4 L1504.6 718.8 L1509.4 718.2 L1514.2 717.6 L1519.0 716.9 L1523.9 716.2 L1528.7 715.4 L1533.5 714.6 L1538.3 713.7 L1543.2 712.8 L1548.0 711.7 L1552.8 710.7 L1557.6 709.5 L1562.4 708.3 L1567.3 706.9 L1572.1 705.5 L1576.9 704.0 L1581.7 702.3 L1586.6 700.5 L1591.4 698.6 L1596.2 696.6 L1601.0 694.3 L1605.9 692.0 L1610.7 689.4 L1615.5 686.6 L1620.3 683.6 L1625.2 680.4 L1630.0 677.0 L1634.8 673.4 L1639.6 669.5 L1644.4 665.3 L1649.3 660.9 L1654.1 656.3 L1658.9 651.5 L1663.7 646.4 L1668.6 641.3 L1673.4 636.1 L1678.2 630.8 L1683.0 625.7 L1687.9 620.7 L1692.7 616.0 L1697.5 611.7 L1702.3 607.9 L1707.2 604.8 L1712.0 602.4 L1716.8 600.8 L1721.6 600.1 L1726.4 600.1 L1731.3 601.0 L1736.1 602.7 L1740.9 605.1 L1745.7 608.1 L1750.6 611.5 L1755.4 615.3 L1760.2 619.5 L1765.0 623.8 L1769.9 628.2 L1774.7 632.6 L1779.5 637.0 L1784.3 641.3 L1789.2 645.5 L1794.0 649.6 L1798.8 653.5 L1803.6 657.2 L1808.4 660.7 L1813.3 664.1 L1818.1 667.2 L1822.9 670.2 L1827.7 673.0 L1832.6 675.7 L1837.4 678.2 L1842.2 680.5 L1847.0 682.7 L1851.9 684.8 L1856.7 686.8 L1861.5 688.6 L1866.3 690.3 L1871.2 692.0 L1876.0 693.5 L1880.8 694.9 L1885.6 696.3 L1890.4 697.6 L1895.3 698.8 L1900.1 699.9 L1904.9 701.0 L1909.7 702.0 L1914.6 703.0 L1919.4 703.9 L1924.2 704.8 L1929.0 705.6 L1933.9 706.4 L1938.7 707.1 L1943.5 707.9 L1948.3 708.5 L1953.2 709.2 L1958.0 709.8 L1962.8 710.4 L1967.1 710.9" fill="none" stroke="#939598" stroke-width="7.6" stroke-linecap="butt" stroke-linejoin="round"/>
<path d="M1142.8 729.2 L1147.6 729.2 L1152.4 729.2 L1157.3 729.2 L1162.1 729.2 L1166.9 729.1 L1171.7 729.1 L1176.6 729.1 L1181.4 729.0 L1186.2 729.0 L1191.0 728.9 L1195.9 728.9 L1200.7 728.8 L1205.5 728.7 L1210.3 728.7 L1215.2 728.6 L1220.0 728.5 L1224.8 728.4 L1229.6 728.3 L1234.4 728.2 L1239.3 728.1 L1244.1 727.9 L1248.9 727.8 L1253.7 727.7 L1258.6 727.5 L1263.4 727.4 L1268.2 727.2 L1273.0 727.1 L1277.9 726.9 L1282.7 726.7 L1287.5 726.5 L1292.3 726.3 L1297.2 726.1 L1302.0 725.9 L1306.8 725.7 L1311.6 725.5 L1316.4 725.3 L1321.3 725.0 L1326.1 724.8 L1330.9 724.5 L1335.7 724.2 L1340.6 723.9 L1345.4 723.6 L1350.2 723.3 L1355.0 723.0 L1359.9 722.7 L1364.7 722.3 L1369.5 722.0 L1374.3 721.6 L1379.2 721.2 L1384.0 720.9 L1388.8 720.4 L1393.6 720.0 L1398.4 719.6 L1403.3 719.1 L1408.1 718.7 L1412.9 718.2 L1417.7 717.7 L1422.6 717.2 L1427.4 716.7 L1432.2 716.1 L1437.0 715.5 L1441.9 714.9 L1446.7 714.3 L1451.5 713.7 L1456.3 713.0 L1461.2 712.4 L1466.0 711.7 L1470.8 710.9 L1475.6 710.2 L1480.4 709.4 L1485.3 708.6 L1490.1 707.8 L1494.9 706.9 L1499.7 706.0 L1504.6 705.1 L1509.4 704.2 L1514.2 703.2 L1519.0 702.2 L1523.9 701.1 L1528.7 700.0 L1533.5 698.9 L1538.3 697.7 L1543.2 696.5 L1548.0 695.2 L1552.8 693.9 L1557.6 692.6 L1562.4 691.2 L1567.3 689.8 L1572.1 688.3 L1576.9 686.7 L1581.7 685.2 L1586.6 683.5 L1591.4 681.8 L1596.2 680.0 L1601.0 678.2 L1605.9 676.3 L1610.7 674.4 L1615.5 672.4 L1620.3 670.3 L1625.2 668.1 L1630.0 665.9 L1634.8 663.6 L1639.6 661.2 L1644.4 658.8 L1649.3 656.3 L1654.1 653.7 L1658.9 651.0 L1663.7 648.2 L1668.6 645.4 L1673.4 642.5 L1678.2 639.5 L1683.0 636.4 L1687.9 633.3 L1692.7 630.1 L1697.5 626.8 L1702.3 623.4 L1707.2 620.0 L1712.0 616.5 L1716.8 612.9 L1721.6 609.3 L1726.4 605.6 L1731.3 601.9 L1736.1 598.1 L1740.9 594.3 L1745.7 590.5 L1750.6 586.7 L1755.4 582.9 L1760.2 579.1 L1765.0 575.3 L1769.9 571.5 L1774.7 567.8 L1779.5 564.1 L1784.3 560.6 L1789.2 557.1 L1794.0 553.7 L1798.8 550.4 L1803.6 547.3 L1808.4 544.3 L1813.3 541.4 L1818.1 538.8 L1822.9 536.3 L1827.7 534.0 L1832.6 531.9 L1837.4 530.1 L1842.2 528.4 L1847.0 527.0 L1851.9 525.9 L1856.7 524.9 L1861.5 524.2 L1866.3 523.8 L1871.2 523.6 L1876.0 523.6 L1880.8 523.9 L1885.6 524.3 L1890.4 525.0 L1895.3 525.9 L1900.1 527.0 L1904.9 528.3 L1909.7 529.8 L1914.6 531.4 L1919.4 533.2 L1924.2 535.1 L1929.0 537.2 L1933.9 539.4 L1938.7 541.6 L1943.5 544.0 L1948.3 546.5 L1953.2 549.0 L1958.0 551.6 L1962.8 554.2 L1967.1 556.6" fill="none" stroke="#939598" stroke-width="7.6" stroke-linecap="butt" stroke-linejoin="round"/>
<path d="M1142.8 729.2 L1147.6 729.2 L1152.4 729.2 L1157.3 729.2 L1162.1 729.2 L1166.9 729.2 L1171.7 729.2 L1176.6 729.1 L1181.4 729.1 L1186.2 729.1 L1191.0 729.1 L1195.9 729.1 L1200.7 729.0 L1205.5 729.0 L1210.3 729.0 L1215.2 728.9 L1220.0 728.9 L1224.8 728.9 L1229.6 728.8 L1234.4 728.8 L1239.3 728.7 L1244.1 728.7 L1248.9 728.6 L1253.7 728.6 L1258.6 728.5 L1263.4 728.5 L1268.2 728.4 L1273.0 728.3 L1277.9 728.3 L1282.7 728.2 L1287.5 728.1 L1292.3 728.1 L1297.2 728.0 L1302.0 727.9 L1306.8 727.8 L1311.6 727.7 L1316.4 727.7 L1321.3 727.6 L1326.1 727.5 L1330.9 727.4 L1335.7 727.3 L1340.6 727.2 L1345.4 727.1 L1350.2 726.9 L1355.0 726.8 L1359.9 726.7 L1364.7 726.6 L1369.5 726.5 L1374.3 726.3 L1379.2 726.2 L1384.0 726.1 L1388.8 725.9 L1393.6 725.8 L1398.4 725.6 L1403.3 725.5 L1408.1 725.3 L1412.9 725.2 L1417.7 725.0 L1422.6 724.8 L1427.4 724.6 L1432.2 724.5 L1437.0 724.3 L1441.9 724.1 L1446.7 723.9 L1451.5 723.7 L1456.3 723.5 L1461.2 723.3 L1466.0 723.1 L1470.8 722.9 L1475.6 722.6 L1480.4 722.4 L1485.3 722.2 L1490.1 721.9 L1494.9 721.7 L1499.7 721.4 L1504.6 721.1 L1509.4 720.9 L1514.2 720.6 L1519.0 720.3 L1523.9 720.0 L1528.7 719.7 L1533.5 719.4 L1538.3 719.1 L1543.2 718.8 L1548.0 718.4 L1552.8 718.1 L1557.6 717.7 L1562.4 717.4 L1567.3 717.0 L1572.1 716.6 L1576.9 716.2 L1581.7 715.8 L1586.6 715.4 L1591.4 715.0 L1596.2 714.6 L1601.0 714.1 L1605.9 713.7 L1610.7 713.2 L1615.5 712.8 L1620.3 712.3 L1625.2 711.8 L1630.0 711.2 L1634.8 710.7 L1639.6 710.2 L1644.4 709.6 L1649.3 709.0 L1654.1 708.4 L1658.9 707.8 L1663.7 707.2 L1668.6 706.6 L1673.4 705.9 L1678.2 705.2 L1683.0 704.6 L1687.9 703.8 L1692.7 703.1 L1697.5 702.4 L1702.3 701.6 L1707.2 700.8 L1712.0 700.0 L1716.8 699.1 L1721.6 698.3 L1726.4 697.4 L1731.3 696.5 L1736.1 695.6 L1740.9 694.6 L1745.7 693.6 L1750.6 692.6 L1755.4 691.6 L1760.2 690.5 L1765.0 689.4 L1769.9 688.2 L1774.7 687.1 L1779.5 685.9 L1784.3 684.6 L1789.2 683.4 L1794.0 682.1 L1798.8 680.7 L1803.6 679.4 L1808.4 677.9 L1813.3 676.5 L1818.1 675.0 L1822.9 673.4 L1827.7 671.9 L1832.6 670.2 L1837.4 668.6 L1842.2 666.8 L1847.0 665.1 L1851.9 663.3 L1856.7 661.4 L1861.5 659.5 L1866.3 657.5 L1871.2 655.5 L1876.0 653.5 L1880.8 651.3 L1885.6 649.2 L1890.4 646.9 L1895.3 644.6 L1900.1 642.3 L1904.9 639.9 L1909.7 637.5 L1914.6 634.9 L1919.4 632.4 L1924.2 629.8 L1929.0 627.1 L1933.9 624.3 L1938.7 621.5 L1943.5 618.7 L1948.3 615.8 L1953.2 612.8 L1958.0 609.8 L1962.8 606.8 L1967.1 604.0" fill="none" stroke="#939598" stroke-width="7.6" stroke-linecap="butt" stroke-linejoin="round"/>
<path d="M1220.9 395.4 L1225.8 389.6 L1230.6 383.9 L1235.4 378.1 L1240.2 372.5 L1245.0 367.1 L1249.8 361.8 L1254.7 356.8 L1259.5 352.0 L1264.3 347.6 L1269.1 343.4 L1273.9 339.5 L1278.7 335.9 L1283.6 332.6 L1288.4 329.6 L1293.2 327.0 L1298.0 324.7 L1302.8 322.6 L1307.7 320.9 L1312.5 319.5 L1317.3 318.4 L1322.1 317.6 L1326.9 317.1 L1331.7 316.8 L1336.6 316.9 L1341.4 317.2 L1346.2 317.7 L1351.0 318.5 L1355.8 319.5 L1360.6 320.7 L1365.5 322.1 L1370.3 323.6 L1375.1 325.2 L1379.9 326.9 L1384.7 328.7 L1389.5 330.4 L1394.4 332.2 L1399.2 334.1 L1404.0 335.9 L1408.8 337.9 L1413.6 339.9 L1418.4 342.0 L1423.3 344.1 L1428.1 346.3 L1432.9 348.6 L1437.7 350.9 L1442.5 353.3 L1447.4 355.7 L1452.2 358.2 L1457.0 360.8 L1461.8 363.3 L1466.6 365.9 L1471.4 368.6 L1476.3 371.3 L1481.1 374.0 L1485.9 376.8 L1490.7 379.6 L1495.5 382.4 L1500.3 385.1 L1505.2 387.7 L1510.0 390.2 L1514.8 392.6 L1519.6 395.1 L1524.4 397.5 L1529.2 400.1 L1534.1 402.9 L1538.9 405.8 L1543.7 408.9 L1548.5 412.0 L1553.3 415.3 L1558.1 418.6 L1563.0 421.8 L1567.8 424.7 L1572.6 427.2 L1577.4 429.1 L1582.2 430.3 L1587.1 430.9 L1591.9 431.0 L1596.7 430.7 L1601.5 430.0 L1606.3 429.2 L1611.1 428.0 L1616.0 426.4 L1620.8 424.4 L1625.6 421.8 L1630.4 418.6 L1635.2 414.8 L1640.0 410.5 L1644.9 405.7 L1649.7 400.5 L1654.5 394.8 L1659.3 388.8 L1664.1 382.5 L1668.9 376.0 L1673.8 369.5 L1678.6 362.9 L1683.4 356.6 L1688.2 350.7 L1693.0 345.5 L1697.9 341.1 L1702.7 337.8 L1707.5 335.3 L1712.3 333.4 L1717.1 331.9 L1721.9 330.5 L1726.8 329.2 L1731.6 327.8 L1736.4 326.5 L1741.2 325.2 L1746.0 324.1 L1750.8 323.1 L1755.7 322.3 L1760.5 321.6 L1765.3 321.1 L1770.1 320.8 L1774.9 320.7 L1779.7 320.7 L1784.6 320.9 L1789.4 321.3 L1794.2 321.9 L1799.0 322.6 L1803.8 323.5 L1808.6 324.5 L1813.5 325.5 L1818.3 326.6 L1823.1 327.6 L1827.9 328.6 L1832.7 329.5 L1837.6 330.4 L1842.4 331.1 L1847.2 331.8 L1852.0 332.4 L1856.8 332.9 L1861.6 333.4 L1866.5 333.9 L1871.3 334.4 L1876.1 334.9 L1880.9 335.4 L1885.7 335.8 L1890.5 336.2 L1895.4 336.5 L1900.2 336.7 L1905.0 336.9 L1909.8 337.2 L1914.6 337.5 L1919.4 337.9 L1924.3 338.5 L1929.1 339.0 L1933.9 339.5 L1938.7 340.0 L1943.5 340.3 L1948.3 340.6 L1953.2 340.7 L1958.0 340.8 L1962.8 340.9" fill="none" stroke="#2E3192" stroke-width="12.9" stroke-linecap="round" stroke-linejoin="round"/>
<path d="M1142.8 444.6 L1147.6 444.0 L1152.4 443.3 L1157.3 442.5 L1162.1 441.4 L1166.9 439.9 L1171.7 438.1 L1176.6 435.8 L1181.4 433.0 L1186.2 429.9 L1191.0 426.2 L1195.9 422.1 L1200.7 417.6 L1205.5 412.7 L1210.3 407.6 L1215.2 402.1 L1220.0 396.5 L1224.8 390.8 L1229.6 385.0 L1234.4 379.2 L1239.3 373.5 L1244.1 368.0 L1248.9 362.7 L1253.7 357.6 L1258.6 352.8 L1263.4 348.2 L1268.2 344.0 L1273.0 340.0 L1277.9 336.3 L1282.7 333.0 L1287.5 330.0 L1292.3 327.3 L1297.2 324.9 L1302.0 322.8 L1306.8 321.1 L1311.6 319.6 L1316.4 318.5 L1321.3 317.6 L1326.1 317.1 L1330.9 316.8 L1335.7 316.8 L1340.6 317.1 L1345.4 317.7 L1350.2 318.5 L1355.0 319.5 L1359.9 320.7 L1364.7 322.1 L1369.5 323.6 L1374.3 325.3 L1379.2 327.0 L1384.0 328.8 L1388.8 330.6 L1393.6 332.4 L1398.4 334.2 L1403.3 336.0 L1408.1 337.9 L1412.9 339.9 L1417.7 341.9 L1422.6 344.0 L1427.4 346.1 L1432.2 348.2 L1437.0 350.4 L1441.9 352.7 L1446.7 355.0 L1451.5 357.3 L1456.3 359.7 L1461.2 362.1 L1466.0 364.6 L1470.8 367.1 L1475.6 369.7 L1480.4 372.3 L1485.3 375.0 L1490.1 377.8 L1494.9 380.6 L1499.7 383.4 L1504.6 386.1 L1509.4 388.8 L1514.2 391.4 L1519.0 394.1 L1523.9 396.8 L1528.7 399.8 L1533.5 403.0 L1538.3 406.3 L1543.2 409.7 L1548.0 412.9 L1552.8 415.8 L1557.6 418.5 L1562.4 420.8 L1567.3 422.7 L1572.1 424.3 L1576.9 425.5 L1581.7 426.3 L1586.6 426.8 L1591.4 427.0 L1596.2 426.8 L1601.0 426.2 L1605.9 425.3 L1610.7 424.1 L1615.5 422.5 L1620.3 420.6 L1625.2 418.2 L1630.0 415.3 L1634.8 412.1 L1639.6 408.4 L1644.4 404.3 L1649.3 399.8 L1654.1 394.9 L1658.9 389.6 L1663.7 384.1 L1668.6 378.3 L1673.4 372.3 L1678.2 366.3 L1683.0 360.3 L1687.9 354.4 L1692.7 348.8 L1697.5 343.7 L1702.3 339.0 L1707.2 334.9 L1712.0 331.3 L1716.8 328.1 L1721.6 325.3 L1726.4 323.0 L1731.3 321.1 L1736.1 319.7 L1740.9 318.8 L1745.7 318.4 L1750.6 318.5 L1755.4 319.1 L1760.2 319.9 L1765.0 320.9 L1769.9 321.9 L1774.7 322.9 L1779.5 323.8 L1784.3 324.6 L1789.2 325.3 L1794.0 326.0 L1798.8 326.6 L1803.6 327.1 L1808.4 327.5 L1813.3 327.9 L1818.1 328.1 L1822.9 328.3 L1827.7 328.5 L1832.6 328.6 L1837.4 328.7 L1842.2 328.8 L1847.0 328.9 L1851.9 329.1 L1856.7 329.3 L1861.5 329.6 L1866.3 330.0 L1871.2 330.4 L1876.0 330.9 L1880.8 331.5 L1885.6 332.2 L1890.4 332.9 L1895.3 333.8 L1900.1 334.6 L1904.9 335.6 L1909.7 336.5 L1914.6 337.5 L1919.4 338.5 L1924.2 339.5 L1929.0 340.5 L1933.9 341.5 L1938.7 342.5 L1943.5 343.5 L1948.3 344.5 L1953.2 345.5 L1958.0 346.6 L1962.8 347.6" fill="none" stroke="#231F20" stroke-width="4.0" stroke-linejoin="round"/>
<path d="M1140.1 1422.2 L1140.1 1180.1 L1142.8 1180.1 L1147.6 1180.1 L1152.4 1180.3 L1157.3 1180.4 L1162.1 1180.7 L1166.9 1181.0 L1171.7 1181.4 L1176.6 1181.8 L1181.4 1182.3 L1186.2 1182.9 L1191.0 1183.5 L1195.9 1184.2 L1200.7 1185.0 L1205.5 1185.8 L1210.3 1186.7 L1215.2 1187.7 L1220.0 1188.7 L1224.8 1189.7 L1229.6 1190.8 L1234.4 1192.0 L1239.3 1193.2 L1244.1 1194.5 L1248.9 1195.8 L1253.7 1197.1 L1258.6 1198.5 L1263.4 1200.0 L1268.2 1201.5 L1273.0 1203.0 L1277.9 1204.5 L1282.7 1206.1 L1287.5 1207.7 L1292.3 1209.4 L1297.2 1211.0 L1302.0 1212.7 L1306.8 1214.5 L1311.6 1216.2 L1316.4 1218.0 L1321.3 1219.8 L1326.1 1221.6 L1330.9 1223.4 L1335.7 1225.2 L1340.6 1227.0 L1345.4 1228.9 L1350.2 1230.8 L1355.0 1232.6 L1359.9 1234.5 L1364.7 1236.4 L1369.5 1238.3 L1374.3 1240.1 L1379.2 1242.0 L1384.0 1243.9 L1388.8 1245.8 L1393.6 1247.6 L1398.4 1249.5 L1403.3 1251.4 L1408.1 1253.2 L1412.9 1255.1 L1417.7 1256.9 L1422.6 1258.8 L1427.4 1260.6 L1432.2 1262.4 L1437.0 1264.2 L1441.9 1266.0 L1446.7 1267.8 L1451.5 1269.6 L1456.3 1271.3 L1461.2 1273.1 L1466.0 1274.8 L1470.8 1276.5 L1475.6 1278.2 L1480.4 1279.9 L1485.3 1281.6 L1490.1 1283.2 L1494.9 1284.8 L1499.7 1286.5 L1504.6 1288.1 L1509.4 1289.7 L1514.2 1291.2 L1519.0 1292.8 L1523.9 1294.3 L1528.7 1295.8 L1533.5 1297.3 L1538.3 1298.8 L1543.2 1300.3 L1548.0 1301.7 L1552.8 1303.2 L1557.6 1304.6 L1562.4 1306.0 L1567.3 1307.4 L1572.1 1308.7 L1576.9 1310.1 L1581.7 1311.4 L1586.6 1312.7 L1591.4 1314.0 L1596.2 1315.3 L1601.0 1316.5 L1605.9 1317.8 L1610.7 1319.0 L1615.5 1320.2 L1620.3 1321.4 L1625.2 1322.6 L1630.0 1323.8 L1634.8 1324.9 L1639.6 1326.1 L1644.4 1327.2 L1649.3 1328.3 L1654.1 1329.4 L1658.9 1330.4 L1663.7 1331.5 L1668.6 1332.5 L1673.4 1333.6 L1678.2 1334.6 L1683.0 1335.6 L1687.9 1336.6 L1692.7 1337.5 L1697.5 1338.5 L1702.3 1339.4 L1707.2 1340.4 L1712.0 1341.3 L1716.8 1342.2 L1721.6 1343.1 L1726.4 1344.0 L1731.3 1344.8 L1736.1 1345.7 L1740.9 1346.5 L1745.7 1347.4 L1750.6 1348.2 L1755.4 1349.0 L1760.2 1349.8 L1765.0 1350.6 L1769.9 1351.4 L1774.7 1352.1 L1779.5 1352.9 L1784.3 1353.6 L1789.2 1354.4 L1794.0 1355.1 L1798.8 1355.8 L1803.6 1356.5 L1808.4 1357.2 L1813.3 1357.9 L1818.1 1358.6 L1822.9 1359.2 L1827.7 1359.9 L1832.6 1360.5 L1837.4 1361.2 L1842.2 1361.8 L1847.0 1362.4 L1851.9 1363.0 L1856.7 1363.6 L1861.5 1364.2 L1866.3 1364.8 L1871.2 1365.4 L1876.0 1366.0 L1880.8 1366.5 L1885.6 1367.1 L1890.4 1367.6 L1895.3 1368.2 L1900.1 1368.7 L1904.9 1369.2 L1909.7 1369.8 L1914.6 1370.3 L1919.4 1370.8 L1924.2 1371.3 L1929.0 1371.8 L1933.9 1372.3 L1938.7 1372.7 L1943.5 1373.2 L1948.3 1373.7 L1953.2 1374.2 L1958.0 1374.6 L1962.8 1375.1 L1967.1 1375.1 L1967.1 1422.2 Z" fill="#00AEEF"/>
<rect x="1962.8" y="1375.1" width="4.3" height="49.4" fill="#00AEEF"/>
<path d="M1142.8 1422.2 L1147.6 1422.0 L1152.4 1421.3 L1157.3 1420.1 L1162.1 1418.5 L1166.9 1416.5 L1171.7 1414.1 L1176.6 1411.2 L1181.4 1408.0 L1186.2 1404.4 L1191.0 1400.5 L1195.9 1396.3 L1200.7 1391.9 L1205.5 1387.3 L1210.3 1382.4 L1215.2 1377.4 L1220.0 1372.3 L1224.8 1367.1 L1229.6 1361.9 L1234.4 1356.7 L1239.3 1351.5 L1244.1 1346.4 L1248.9 1341.4 L1253.7 1336.5 L1258.6 1331.8 L1263.4 1327.2 L1268.2 1322.8 L1273.0 1318.7 L1277.9 1314.8 L1282.7 1311.1 L1287.5 1307.7 L1292.3 1304.6 L1297.2 1301.7 L1302.0 1299.0 L1306.8 1296.7 L1311.6 1294.6 L1316.4 1292.8 L1321.3 1291.2 L1326.1 1289.8 L1330.9 1288.7 L1335.7 1287.9 L1340.6 1287.2 L1345.4 1286.7 L1350.2 1286.5 L1355.0 1286.4 L1359.9 1286.5 L1364.7 1286.7 L1369.5 1287.1 L1374.3 1287.6 L1379.2 1288.3 L1384.0 1289.0 L1388.8 1289.9 L1393.6 1290.8 L1398.4 1291.9 L1403.3 1293.0 L1408.1 1294.2 L1412.9 1295.5 L1417.7 1296.8 L1422.6 1298.1 L1427.4 1299.5 L1432.2 1300.9 L1437.0 1302.4 L1441.9 1303.9 L1446.7 1305.4 L1451.5 1306.9 L1456.3 1308.4 L1461.2 1310.0 L1466.0 1311.5 L1470.8 1313.0 L1475.6 1314.6 L1480.4 1316.1 L1485.3 1317.6 L1490.1 1319.1 L1494.9 1320.7 L1499.7 1322.1 L1504.6 1323.6 L1509.4 1325.1 L1514.2 1326.6 L1519.0 1328.0 L1523.9 1329.4 L1528.7 1330.8 L1533.5 1332.2 L1538.3 1333.6 L1543.2 1334.9 L1548.0 1336.3 L1552.8 1337.6 L1557.6 1338.9 L1562.4 1340.1 L1567.3 1341.4 L1572.1 1342.6 L1576.9 1343.8 L1581.7 1345.0 L1586.6 1346.2 L1591.4 1347.3 L1596.2 1348.5 L1601.0 1349.6 L1605.9 1350.7 L1610.7 1351.7 L1615.5 1352.8 L1620.3 1353.8 L1625.2 1354.8 L1630.0 1355.8 L1634.8 1356.8 L1639.6 1357.8 L1644.4 1358.7 L1649.3 1359.6 L1654.1 1360.5 L1658.9 1361.4 L1663.7 1362.3 L1668.6 1363.2 L1673.4 1364.0 L1678.2 1364.8 L1683.0 1365.6 L1687.9 1366.4 L1692.7 1367.2 L1697.5 1368.0 L1702.3 1368.7 L1707.2 1369.5 L1712.0 1370.2 L1716.8 1370.9 L1721.6 1371.6 L1726.4 1372.3 L1731.3 1373.0 L1736.1 1373.6 L1740.9 1374.3 L1745.7 1374.9 L1750.6 1375.6 L1755.4 1376.2 L1760.2 1376.8 L1765.0 1377.4 L1769.9 1378.0 L1774.7 1378.5 L1779.5 1379.1 L1784.3 1379.6 L1789.2 1380.2 L1794.0 1380.7 L1798.8 1381.2 L1803.6 1381.8 L1808.4 1382.3 L1813.3 1382.8 L1818.1 1383.3 L1822.9 1383.7 L1827.7 1384.2 L1832.6 1384.7 L1837.4 1385.1 L1842.2 1385.6 L1847.0 1386.0 L1851.9 1386.4 L1856.7 1386.9 L1861.5 1387.3 L1866.3 1387.7 L1871.2 1388.1 L1876.0 1388.5 L1880.8 1388.9 L1885.6 1389.3 L1890.4 1389.7 L1895.3 1390.0 L1900.1 1390.4 L1904.9 1390.8 L1909.7 1391.1 L1914.6 1391.5 L1919.4 1391.8 L1924.2 1392.1 L1929.0 1392.5 L1933.9 1392.8 L1938.7 1393.1 L1943.5 1393.4 L1948.3 1393.7 L1953.2 1394.1 L1958.0 1394.4 L1962.8 1394.7 L1967.1 1394.9" fill="none" stroke="#939598" stroke-width="7.6" stroke-linecap="butt" stroke-linejoin="round"/>
<path d="M1142.8 1422.2 L1147.6 1422.2 L1152.4 1422.1 L1157.3 1422.1 L1162.1 1422.0 L1166.9 1421.8 L1171.7 1421.7 L1176.6 1421.5 L1181.4 1421.3 L1186.2 1421.0 L1191.0 1420.7 L1195.9 1420.4 L1200.7 1420.0 L1205.5 1419.6 L1210.3 1419.2 L1215.2 1418.7 L1220.0 1418.2 L1224.8 1417.7 L1229.6 1417.1 L1234.4 1416.4 L1239.3 1415.8 L1244.1 1415.0 L1248.9 1414.2 L1253.7 1413.4 L1258.6 1412.5 L1263.4 1411.5 L1268.2 1410.5 L1273.0 1409.4 L1277.9 1408.2 L1282.7 1407.0 L1287.5 1405.7 L1292.3 1404.3 L1297.2 1402.9 L1302.0 1401.4 L1306.8 1399.7 L1311.6 1398.0 L1316.4 1396.2 L1321.3 1394.4 L1326.1 1392.4 L1330.9 1390.3 L1335.7 1388.2 L1340.6 1386.0 L1345.4 1383.7 L1350.2 1381.3 L1355.0 1378.8 L1359.9 1376.3 L1364.7 1373.7 L1369.5 1371.0 L1374.3 1368.3 L1379.2 1365.6 L1384.0 1362.9 L1388.8 1360.2 L1393.6 1357.5 L1398.4 1354.9 L1403.3 1352.3 L1408.1 1349.9 L1412.9 1347.5 L1417.7 1345.3 L1422.6 1343.2 L1427.4 1341.3 L1432.2 1339.6 L1437.0 1338.0 L1441.9 1336.7 L1446.7 1335.6 L1451.5 1334.8 L1456.3 1334.1 L1461.2 1333.7 L1466.0 1333.5 L1470.8 1333.5 L1475.6 1333.8 L1480.4 1334.2 L1485.3 1334.8 L1490.1 1335.5 L1494.9 1336.5 L1499.7 1337.5 L1504.6 1338.7 L1509.4 1339.9 L1514.2 1341.3 L1519.0 1342.7 L1523.9 1344.2 L1528.7 1345.7 L1533.5 1347.3 L1538.3 1348.9 L1543.2 1350.5 L1548.0 1352.1 L1552.8 1353.8 L1557.6 1355.4 L1562.4 1357.0 L1567.3 1358.5 L1572.1 1360.1 L1576.9 1361.6 L1581.7 1363.1 L1586.6 1364.6 L1591.4 1366.0 L1596.2 1367.4 L1601.0 1368.8 L1605.9 1370.2 L1610.7 1371.5 L1615.5 1372.7 L1620.3 1374.0 L1625.2 1375.1 L1630.0 1376.3 L1634.8 1377.4 L1639.6 1378.5 L1644.4 1379.6 L1649.3 1380.6 L1654.1 1381.6 L1658.9 1382.6 L1663.7 1383.5 L1668.6 1384.4 L1673.4 1385.3 L1678.2 1386.1 L1683.0 1387.0 L1687.9 1387.8 L1692.7 1388.5 L1697.5 1389.3 L1702.3 1390.0 L1707.2 1390.7 L1712.0 1391.4 L1716.8 1392.0 L1721.6 1392.7 L1726.4 1393.3 L1731.3 1393.9 L1736.1 1394.5 L1740.9 1395.1 L1745.7 1395.6 L1750.6 1396.1 L1755.4 1396.7 L1760.2 1397.2 L1765.0 1397.7 L1769.9 1398.1 L1774.7 1398.6 L1779.5 1399.0 L1784.3 1399.5 L1789.2 1399.9 L1794.0 1400.3 L1798.8 1400.7 L1803.6 1401.1 L1808.4 1401.5 L1813.3 1401.9 L1818.1 1402.2 L1822.9 1402.6 L1827.7 1402.9 L1832.6 1403.2 L1837.4 1403.6 L1842.2 1403.9 L1847.0 1404.2 L1851.9 1404.5 L1856.7 1404.8 L1861.5 1405.1 L1866.3 1405.3 L1871.2 1405.6 L1876.0 1405.9 L1880.8 1406.1 L1885.6 1406.4 L1890.4 1406.6 L1895.3 1406.9 L1900.1 1407.1 L1904.9 1407.3 L1909.7 1407.6 L1914.6 1407.8 L1919.4 1408.0 L1924.2 1408.2 L1929.0 1408.4 L1933.9 1408.6 L1938.7 1408.8 L1943.5 1409.0 L1948.3 1409.2 L1953.2 1409.4 L1958.0 1409.5 L1962.8 1409.7 L1967.1 1409.9" fill="none" stroke="#939598" stroke-width="7.6" stroke-linecap="butt" stroke-linejoin="round"/>
<path d="M1142.8 1422.2 L1147.6 1422.2 L1152.4 1422.2 L1157.3 1422.2 L1162.1 1422.2 L1166.9 1422.2 L1171.7 1422.1 L1176.6 1422.1 L1181.4 1422.1 L1186.2 1422.1 L1191.0 1422.0 L1195.9 1422.0 L1200.7 1421.9 L1205.5 1421.9 L1210.3 1421.9 L1215.2 1421.8 L1220.0 1421.7 L1224.8 1421.7 L1229.6 1421.6 L1234.4 1421.5 L1239.3 1421.5 L1244.1 1421.4 L1248.9 1421.3 L1253.7 1421.2 L1258.6 1421.1 L1263.4 1421.0 L1268.2 1420.9 L1273.0 1420.8 L1277.9 1420.7 L1282.7 1420.5 L1287.5 1420.4 L1292.3 1420.3 L1297.2 1420.1 L1302.0 1420.0 L1306.8 1419.8 L1311.6 1419.6 L1316.4 1419.4 L1321.3 1419.3 L1326.1 1419.1 L1330.9 1418.8 L1335.7 1418.6 L1340.6 1418.4 L1345.4 1418.1 L1350.2 1417.9 L1355.0 1417.6 L1359.9 1417.3 L1364.7 1417.0 L1369.5 1416.7 L1374.3 1416.3 L1379.2 1416.0 L1384.0 1415.6 L1388.8 1415.2 L1393.6 1414.8 L1398.4 1414.3 L1403.3 1413.8 L1408.1 1413.3 L1412.9 1412.8 L1417.7 1412.2 L1422.6 1411.6 L1427.4 1411.0 L1432.2 1410.3 L1437.0 1409.6 L1441.9 1408.9 L1446.7 1408.1 L1451.5 1407.2 L1456.3 1406.3 L1461.2 1405.3 L1466.0 1404.3 L1470.8 1403.1 L1475.6 1401.9 L1480.4 1400.7 L1485.3 1399.3 L1490.1 1397.8 L1494.9 1396.2 L1499.7 1394.5 L1504.6 1392.7 L1509.4 1390.7 L1514.2 1388.6 L1519.0 1386.3 L1523.9 1383.8 L1528.7 1381.1 L1533.5 1378.2 L1538.3 1375.1 L1543.2 1371.6 L1548.0 1367.9 L1552.8 1363.8 L1557.6 1359.4 L1562.4 1354.6 L1567.3 1349.4 L1572.1 1343.7 L1576.9 1337.5 L1581.7 1330.7 L1586.6 1323.4 L1591.4 1315.4 L1596.2 1306.7 L1601.0 1297.4 L1605.9 1287.2 L1610.7 1276.4 L1615.5 1264.9 L1620.3 1252.6 L1625.2 1239.9 L1630.0 1226.6 L1634.8 1213.1 L1639.6 1199.7 L1644.4 1186.5 L1649.3 1174.0 L1654.1 1162.6 L1658.9 1152.7 L1663.7 1144.8 L1668.6 1139.0 L1673.4 1135.7 L1678.2 1134.9 L1683.0 1136.6 L1687.9 1140.8 L1692.7 1147.0 L1697.5 1155.0 L1702.3 1164.4 L1707.2 1174.9 L1712.0 1186.0 L1716.8 1197.5 L1721.6 1209.0 L1726.4 1220.4 L1731.3 1231.6 L1736.1 1242.3 L1740.9 1252.6 L1745.7 1262.3 L1750.6 1271.5 L1755.4 1280.1 L1760.2 1288.2 L1765.0 1295.7 L1769.9 1302.7 L1774.7 1309.3 L1779.5 1315.4 L1784.3 1321.0 L1789.2 1326.3 L1794.0 1331.2 L1798.8 1335.7 L1803.6 1340.0 L1808.4 1343.9 L1813.3 1347.6 L1818.1 1351.1 L1822.9 1354.3 L1827.7 1357.3 L1832.6 1360.1 L1837.4 1362.8 L1842.2 1365.2 L1847.0 1367.6 L1851.9 1369.7 L1856.7 1371.8 L1861.5 1373.7 L1866.3 1375.6 L1871.2 1377.3 L1876.0 1378.9 L1880.8 1380.4 L1885.6 1381.9 L1890.4 1383.3 L1895.3 1384.6 L1900.1 1385.8 L1904.9 1387.0 L1909.7 1388.1 L1914.6 1389.2 L1919.4 1390.2 L1924.2 1391.2 L1929.0 1392.1 L1933.9 1393.0 L1938.7 1393.8 L1943.5 1394.6 L1948.3 1395.4 L1953.2 1396.1 L1958.0 1396.8 L1962.8 1397.5 L1967.1 1398.1" fill="none" stroke="#939598" stroke-width="7.6" stroke-linecap="butt" stroke-linejoin="round"/>
<path d="M1142.8 1422.2 L1147.6 1422.2 L1152.4 1422.2 L1157.3 1422.2 L1162.1 1422.2 L1166.9 1422.2 L1171.7 1422.1 L1176.6 1422.1 L1181.4 1422.1 L1186.2 1422.0 L1191.0 1422.0 L1195.9 1422.0 L1200.7 1421.9 L1205.5 1421.9 L1210.3 1421.8 L1215.2 1421.7 L1220.0 1421.7 L1224.8 1421.6 L1229.6 1421.5 L1234.4 1421.5 L1239.3 1421.4 L1244.1 1421.3 L1248.9 1421.2 L1253.7 1421.1 L1258.6 1421.0 L1263.4 1420.9 L1268.2 1420.8 L1273.0 1420.6 L1277.9 1420.5 L1282.7 1420.4 L1287.5 1420.2 L1292.3 1420.1 L1297.2 1419.9 L1302.0 1419.8 L1306.8 1419.6 L1311.6 1419.4 L1316.4 1419.2 L1321.3 1419.0 L1326.1 1418.8 L1330.9 1418.6 L1335.7 1418.4 L1340.6 1418.2 L1345.4 1417.9 L1350.2 1417.7 L1355.0 1417.4 L1359.9 1417.2 L1364.7 1416.9 L1369.5 1416.6 L1374.3 1416.3 L1379.2 1416.0 L1384.0 1415.6 L1388.8 1415.3 L1393.6 1414.9 L1398.4 1414.5 L1403.3 1414.2 L1408.1 1413.7 L1412.9 1413.3 L1417.7 1412.9 L1422.6 1412.4 L1427.4 1411.9 L1432.2 1411.4 L1437.0 1410.9 L1441.9 1410.3 L1446.7 1409.8 L1451.5 1409.1 L1456.3 1408.5 L1461.2 1407.9 L1466.0 1407.2 L1470.8 1406.4 L1475.6 1405.7 L1480.4 1404.9 L1485.3 1404.1 L1490.1 1403.2 L1494.9 1402.3 L1499.7 1401.3 L1504.6 1400.3 L1509.4 1399.3 L1514.2 1398.2 L1519.0 1397.0 L1523.9 1395.8 L1528.7 1394.6 L1533.5 1393.2 L1538.3 1391.8 L1543.2 1390.3 L1548.0 1388.8 L1552.8 1387.1 L1557.6 1385.4 L1562.4 1383.6 L1567.3 1381.7 L1572.1 1379.7 L1576.9 1377.6 L1581.7 1375.3 L1586.6 1373.0 L1591.4 1370.5 L1596.2 1367.9 L1601.0 1365.1 L1605.9 1362.2 L1610.7 1359.1 L1615.5 1355.9 L1620.3 1352.5 L1625.2 1348.9 L1630.0 1345.0 L1634.8 1341.0 L1639.6 1336.8 L1644.4 1332.4 L1649.3 1327.7 L1654.1 1322.8 L1658.9 1317.7 L1663.7 1312.3 L1668.6 1306.7 L1673.4 1300.8 L1678.2 1294.6 L1683.0 1288.3 L1687.9 1281.7 L1692.7 1274.9 L1697.5 1267.9 L1702.3 1260.7 L1707.2 1253.4 L1712.0 1246.1 L1716.8 1238.6 L1721.6 1231.2 L1726.4 1223.9 L1731.3 1216.7 L1736.1 1209.7 L1740.9 1203.0 L1745.7 1196.7 L1750.6 1190.8 L1755.4 1185.5 L1760.2 1180.8 L1765.0 1176.7 L1769.9 1173.4 L1774.7 1170.9 L1779.5 1169.1 L1784.3 1168.2 L1789.2 1168.2 L1794.0 1168.9 L1798.8 1170.4 L1803.6 1172.6 L1808.4 1175.5 L1813.3 1179.0 L1818.1 1183.1 L1822.9 1187.6 L1827.7 1192.5 L1832.6 1197.8 L1837.4 1203.3 L1842.2 1209.0 L1847.0 1214.9 L1851.9 1220.8 L1856.7 1226.8 L1861.5 1232.7 L1866.3 1238.7 L1871.2 1244.5 L1876.0 1250.3 L1880.8 1255.9 L1885.6 1261.4 L1890.4 1266.8 L1895.3 1272.0 L1900.1 1277.0 L1904.9 1281.9 L1909.7 1286.6 L1914.6 1291.1 L1919.4 1295.5 L1924.2 1299.7 L1929.0 1303.7 L1933.9 1307.6 L1938.7 1311.3 L1943.5 1314.9 L1948.3 1318.3 L1953.2 1321.6 L1958.0 1324.7 L1962.8 1327.8 L1967.1 1330.3" fill="none" stroke="#939598" stroke-width="7.6" stroke-linecap="butt" stroke-linejoin="round"/>
<path d="M1142.8 1422.2 L1147.6 1422.2 L1152.4 1422.2 L1157.3 1422.2 L1162.1 1422.2 L1166.9 1422.1 L1171.7 1422.1 L1176.6 1422.1 L1181.4 1422.1 L1186.2 1422.0 L1191.0 1422.0 L1195.9 1421.9 L1200.7 1421.9 L1205.5 1421.8 L1210.3 1421.8 L1215.2 1421.7 L1220.0 1421.6 L1224.8 1421.6 L1229.6 1421.5 L1234.4 1421.4 L1239.3 1421.3 L1244.1 1421.2 L1248.9 1421.1 L1253.7 1421.0 L1258.6 1420.9 L1263.4 1420.8 L1268.2 1420.7 L1273.0 1420.6 L1277.9 1420.4 L1282.7 1420.3 L1287.5 1420.2 L1292.3 1420.0 L1297.2 1419.9 L1302.0 1419.7 L1306.8 1419.6 L1311.6 1419.4 L1316.4 1419.2 L1321.3 1419.0 L1326.1 1418.9 L1330.9 1418.7 L1335.7 1418.5 L1340.6 1418.3 L1345.4 1418.1 L1350.2 1417.8 L1355.0 1417.6 L1359.9 1417.4 L1364.7 1417.2 L1369.5 1416.9 L1374.3 1416.7 L1379.2 1416.4 L1384.0 1416.1 L1388.8 1415.9 L1393.6 1415.6 L1398.4 1415.3 L1403.3 1415.0 L1408.1 1414.7 L1412.9 1414.4 L1417.7 1414.1 L1422.6 1413.8 L1427.4 1413.4 L1432.2 1413.1 L1437.0 1412.7 L1441.9 1412.4 L1446.7 1412.0 L1451.5 1411.6 L1456.3 1411.2 L1461.2 1410.8 L1466.0 1410.4 L1470.8 1410.0 L1475.6 1409.5 L1480.4 1409.1 L1485.3 1408.6 L1490.1 1408.1 L1494.9 1407.6 L1499.7 1407.2 L1504.6 1406.6 L1509.4 1406.1 L1514.2 1405.6 L1519.0 1405.0 L1523.9 1404.5 L1528.7 1403.9 L1533.5 1403.3 L1538.3 1402.7 L1543.2 1402.1 L1548.0 1401.4 L1552.8 1400.8 L1557.6 1400.1 L1562.4 1399.4 L1567.3 1398.7 L1572.1 1397.9 L1576.9 1397.2 L1581.7 1396.4 L1586.6 1395.6 L1591.4 1394.8 L1596.2 1394.0 L1601.0 1393.2 L1605.9 1392.3 L1610.7 1391.4 L1615.5 1390.5 L1620.3 1389.5 L1625.2 1388.5 L1630.0 1387.5 L1634.8 1386.5 L1639.6 1385.5 L1644.4 1384.4 L1649.3 1383.3 L1654.1 1382.1 L1658.9 1381.0 L1663.7 1379.8 L1668.6 1378.5 L1673.4 1377.3 L1678.2 1376.0 L1683.0 1374.6 L1687.9 1373.3 L1692.7 1371.9 L1697.5 1370.4 L1702.3 1368.9 L1707.2 1367.4 L1712.0 1365.8 L1716.8 1364.2 L1721.6 1362.6 L1726.4 1360.8 L1731.3 1359.1 L1736.1 1357.3 L1740.9 1355.4 L1745.7 1353.5 L1750.6 1351.6 L1755.4 1349.6 L1760.2 1347.5 L1765.0 1345.4 L1769.9 1343.2 L1774.7 1340.9 L1779.5 1338.6 L1784.3 1336.2 L1789.2 1333.8 L1794.0 1331.3 L1798.8 1328.7 L1803.6 1326.0 L1808.4 1323.3 L1813.3 1320.5 L1818.1 1317.6 L1822.9 1314.6 L1827.7 1311.6 L1832.6 1308.4 L1837.4 1305.2 L1842.2 1301.9 L1847.0 1298.5 L1851.9 1295.0 L1856.7 1291.4 L1861.5 1287.7 L1866.3 1283.9 L1871.2 1280.0 L1876.0 1276.0 L1880.8 1271.9 L1885.6 1267.8 L1890.4 1263.5 L1895.3 1259.0 L1900.1 1254.5 L1904.9 1249.9 L1909.7 1245.2 L1914.6 1240.3 L1919.4 1235.4 L1924.2 1230.3 L1929.0 1225.1 L1933.9 1219.8 L1938.7 1214.5 L1943.5 1209.0 L1948.3 1203.4 L1953.2 1197.7 L1958.0 1191.9 L1962.8 1186.0 L1967.1 1180.7" fill="none" stroke="#939598" stroke-width="7.6" stroke-linecap="butt" stroke-linejoin="round"/>
<path d="M1220.9 1133.9 L1225.8 1129.7 L1230.6 1125.4 L1235.4 1121.1 L1240.2 1116.6 L1245.0 1112.0 L1249.8 1107.4 L1254.7 1102.7 L1259.5 1098.1 L1264.3 1093.6 L1269.1 1089.2 L1273.9 1085.0 L1278.7 1080.9 L1283.6 1077.0 L1288.4 1073.2 L1293.2 1069.6 L1298.0 1066.2 L1302.8 1062.9 L1307.7 1059.9 L1312.5 1057.0 L1317.3 1054.3 L1322.1 1051.9 L1326.9 1049.7 L1331.7 1047.7 L1336.6 1045.9 L1341.4 1044.4 L1346.2 1043.1 L1351.0 1042.0 L1355.8 1041.0 L1360.6 1040.2 L1365.5 1039.5 L1370.3 1038.9 L1375.1 1038.4 L1379.9 1038.0 L1384.7 1037.6 L1389.5 1037.4 L1394.4 1037.2 L1399.2 1037.1 L1404.0 1037.0 L1408.8 1037.0 L1413.6 1037.0 L1418.4 1037.0 L1423.3 1037.0 L1428.1 1037.1 L1432.9 1037.1 L1437.7 1037.2 L1442.5 1037.3 L1447.4 1037.5 L1452.2 1037.8 L1457.0 1038.3 L1461.8 1038.8 L1466.6 1039.5 L1471.4 1040.2 L1476.3 1041.0 L1481.1 1041.7 L1485.9 1042.3 L1490.7 1042.9 L1495.5 1043.4 L1500.3 1044.0 L1505.2 1044.5 L1510.0 1045.0 L1514.8 1045.4 L1519.6 1045.7 L1524.4 1045.8 L1529.2 1045.5 L1534.1 1044.8 L1538.9 1043.8 L1543.7 1042.4 L1548.5 1040.5 L1553.3 1038.3 L1558.1 1035.6 L1563.0 1032.3 L1567.8 1028.4 L1572.6 1023.8 L1577.4 1018.4 L1582.2 1012.0 L1587.1 1004.6 L1591.9 996.3 L1596.7 987.2 L1601.5 977.1 L1606.3 966.1 L1611.1 954.1 L1616.0 941.3 L1620.8 927.5 L1625.6 912.7 L1630.4 897.0 L1635.2 880.8 L1640.0 864.8 L1644.9 849.3 L1649.7 834.9 L1654.5 822.0 L1659.3 810.8 L1664.1 801.1 L1668.9 793.2 L1673.8 787.1 L1678.6 782.7 L1683.4 779.8 L1688.2 778.1 L1693.0 777.8 L1697.9 778.8 L1702.7 781.0 L1707.5 784.2 L1712.3 788.1 L1717.1 792.3 L1721.9 796.5 L1726.8 800.4 L1731.6 804.1 L1736.4 807.6 L1741.2 810.9 L1746.0 814.0 L1750.8 817.0 L1755.7 820.0 L1760.5 823.2 L1765.3 826.5 L1770.1 830.1 L1774.9 834.2 L1779.7 838.5 L1784.6 843.2 L1789.4 848.1 L1794.2 853.1 L1799.0 858.2 L1803.8 863.3 L1808.6 868.6 L1813.5 873.9 L1818.3 879.4 L1823.1 885.0 L1827.9 890.6 L1832.7 896.2 L1837.6 901.7 L1842.4 907.1 L1847.2 912.2 L1852.0 917.0 L1856.8 921.7 L1861.6 926.3 L1866.5 930.7 L1871.3 935.1 L1876.1 939.3 L1880.9 943.5 L1885.7 947.6 L1890.5 951.5 L1895.4 955.3 L1900.2 959.1 L1905.0 962.7 L1909.8 966.3 L1914.6 969.8 L1919.4 973.2 L1924.3 976.5 L1929.1 979.8 L1933.9 982.9 L1938.7 985.8 L1943.5 988.6 L1948.3 991.1 L1953.2 993.6 L1958.0 996.0 L1962.8 998.4" fill="none" stroke="#ED1C24" stroke-width="13.9" stroke-linecap="round" stroke-linejoin="round"/>
<path d="M1142.8 1181.4 L1147.6 1180.8 L1152.4 1180.1 L1157.3 1179.2 L1162.1 1178.1 L1166.9 1176.8 L1171.7 1175.1 L1176.6 1173.0 L1181.4 1170.5 L1186.2 1167.6 L1191.0 1164.2 L1195.9 1160.4 L1200.7 1156.2 L1205.5 1151.8 L1210.3 1147.2 L1215.2 1142.4 L1220.0 1137.7 L1224.8 1132.9 L1229.6 1128.1 L1234.4 1123.3 L1239.3 1118.4 L1244.1 1113.5 L1248.9 1108.6 L1253.7 1103.7 L1258.6 1098.9 L1263.4 1094.3 L1268.2 1089.8 L1273.0 1085.5 L1277.9 1081.4 L1282.7 1077.4 L1287.5 1073.7 L1292.3 1070.1 L1297.2 1066.7 L1302.0 1063.5 L1306.8 1060.4 L1311.6 1057.6 L1316.4 1054.9 L1321.3 1052.5 L1326.1 1050.2 L1330.9 1048.1 L1335.7 1046.2 L1340.6 1044.5 L1345.4 1043.0 L1350.2 1041.6 L1355.0 1040.4 L1359.9 1039.3 L1364.7 1038.3 L1369.5 1037.4 L1374.3 1036.7 L1379.2 1036.0 L1384.0 1035.4 L1388.8 1034.9 L1393.6 1034.6 L1398.4 1034.3 L1403.3 1034.1 L1408.1 1034.0 L1412.9 1034.0 L1417.7 1034.1 L1422.6 1034.2 L1427.4 1034.4 L1432.2 1034.7 L1437.0 1035.0 L1441.9 1035.3 L1446.7 1035.8 L1451.5 1036.3 L1456.3 1037.0 L1461.2 1037.8 L1466.0 1038.7 L1470.8 1039.7 L1475.6 1040.7 L1480.4 1041.6 L1485.3 1042.4 L1490.1 1043.2 L1494.9 1043.8 L1499.7 1044.4 L1504.6 1045.0 L1509.4 1045.6 L1514.2 1046.1 L1519.0 1046.4 L1523.9 1046.5 L1528.7 1046.2 L1533.5 1045.6 L1538.3 1044.5 L1543.2 1043.1 L1548.0 1041.2 L1552.8 1038.9 L1557.6 1036.2 L1562.4 1032.9 L1567.3 1029.1 L1572.1 1024.4 L1576.9 1019.0 L1581.7 1012.6 L1586.6 1005.2 L1591.4 997.0 L1596.2 987.8 L1601.0 977.8 L1605.9 966.8 L1610.7 954.9 L1615.5 942.1 L1620.3 928.3 L1625.2 913.5 L1630.0 897.9 L1634.8 881.8 L1639.6 865.7 L1644.4 850.1 L1649.3 835.6 L1654.1 822.7 L1658.9 811.3 L1663.7 801.6 L1668.6 793.7 L1673.4 787.5 L1678.2 783.1 L1683.0 780.2 L1687.9 778.7 L1692.7 778.4 L1697.5 779.5 L1702.3 781.8 L1707.2 785.1 L1712.0 789.1 L1716.8 793.5 L1721.6 797.9 L1726.4 802.0 L1731.3 805.9 L1736.1 809.5 L1740.9 812.9 L1745.7 816.1 L1750.6 819.3 L1755.4 822.3 L1760.2 825.4 L1765.0 828.7 L1769.9 832.2 L1774.7 836.1 L1779.5 840.3 L1784.3 844.7 L1789.2 849.3 L1794.0 854.0 L1798.8 858.8 L1803.6 863.7 L1808.4 868.7 L1813.3 873.9 L1818.1 879.2 L1822.9 884.6 L1827.7 890.2 L1832.6 895.8 L1837.4 901.3 L1842.2 906.7 L1847.0 911.9 L1851.9 916.8 L1856.7 921.6 L1861.5 926.2 L1866.3 930.7 L1871.2 935.1 L1876.0 939.4 L1880.8 943.6 L1885.6 947.6 L1890.4 951.4 L1895.3 955.1 L1900.1 958.6 L1904.9 961.8 L1909.7 964.8 L1914.6 967.4 L1919.4 969.7 L1924.2 971.6 L1929.0 973.2 L1933.9 974.5 L1938.7 975.4 L1943.5 976.1 L1948.3 976.6 L1953.2 976.8 L1958.0 976.9 L1962.8 977.0" fill="none" stroke="#231F20" stroke-width="3.6" stroke-linejoin="round"/>
<path d="M1142.8 1983.0 L1147.6 1981.7 L1152.4 1980.3 L1157.3 1978.4 L1162.1 1976.0 L1166.9 1972.7 L1171.7 1968.5 L1176.6 1963.5 L1181.4 1958.0 L1186.2 1952.1 L1191.0 1946.2 L1195.9 1940.4 L1200.7 1934.9 L1205.5 1929.7 L1210.3 1925.1 L1215.2 1921.1 L1220.0 1917.9 L1224.8 1915.4 L1229.6 1913.5 L1234.4 1912.2 L1239.3 1911.4 L1244.1 1911.1 L1248.9 1911.1 L1253.7 1911.5 L1258.6 1912.2 L1263.4 1913.1 L1268.2 1914.1 L1273.0 1915.3 L1277.9 1916.5 L1282.7 1917.5 L1287.5 1918.3 L1292.3 1918.9 L1297.2 1919.1 L1302.0 1919.1 L1306.8 1918.9 L1311.6 1918.3 L1316.4 1917.6 L1321.3 1916.6 L1326.1 1915.4 L1330.9 1914.0 L1335.7 1912.4 L1340.6 1910.6 L1345.4 1908.7 L1350.2 1906.6 L1355.0 1904.5 L1359.9 1902.2 L1364.7 1900.0 L1369.5 1897.7 L1374.3 1895.4 L1379.2 1893.3 L1384.0 1891.3 L1388.8 1889.5 L1393.6 1887.8 L1398.4 1886.4 L1403.3 1885.1 L1408.1 1883.9 L1412.9 1882.9 L1417.7 1882.1 L1422.6 1881.4 L1427.4 1881.0 L1432.2 1880.9 L1437.0 1881.0 L1441.9 1881.4 L1446.7 1882.0 L1451.5 1882.9 L1456.3 1883.9 L1461.2 1885.1 L1466.0 1886.4 L1470.8 1887.9 L1475.6 1889.3 L1480.4 1890.9 L1485.3 1892.4 L1490.1 1893.9 L1494.9 1895.5 L1499.7 1897.0 L1504.6 1898.6 L1509.4 1900.2 L1514.2 1901.8 L1519.0 1903.4 L1523.9 1904.8 L1528.7 1906.1 L1533.5 1907.3 L1538.3 1908.3 L1543.2 1909.3 L1548.0 1910.1 L1552.8 1910.8 L1557.6 1911.5 L1562.4 1912.1 L1567.3 1912.6 L1572.1 1912.8 L1576.9 1912.8 L1581.7 1912.5 L1586.6 1911.9 L1591.4 1911.0 L1596.2 1909.7 L1601.0 1908.2 L1605.9 1906.3 L1610.7 1904.1 L1615.5 1901.4 L1620.3 1898.2 L1625.2 1894.3 L1630.0 1889.8 L1634.8 1884.6 L1639.6 1878.7 L1644.4 1872.1 L1649.3 1864.7 L1654.1 1856.5 L1658.9 1847.7 L1663.7 1838.4 L1668.6 1828.7 L1673.4 1818.7 L1678.2 1808.7 L1683.0 1798.6 L1687.9 1788.9 L1692.7 1779.6 L1697.5 1771.0 L1702.3 1763.3 L1707.2 1756.4 L1712.0 1750.5 L1716.8 1745.4 L1721.6 1741.3 L1726.4 1738.2 L1731.3 1735.8 L1736.1 1733.9 L1740.9 1732.4 L1745.7 1731.1 L1750.6 1729.7 L1755.4 1728.3 L1760.2 1726.8 L1765.0 1725.0 L1769.9 1723.0 L1774.7 1720.8 L1779.5 1718.3 L1784.3 1715.6 L1789.2 1712.8 L1794.0 1710.0 L1798.8 1707.1 L1803.6 1704.3 L1808.4 1701.5 L1813.3 1698.9 L1818.1 1696.3 L1822.9 1693.8 L1827.7 1691.6 L1832.6 1689.6 L1837.4 1687.8 L1842.2 1686.4 L1847.0 1685.4 L1851.9 1684.7 L1856.7 1684.2 L1861.5 1684.0 L1866.3 1684.1 L1871.2 1684.3 L1876.0 1684.6 L1880.8 1685.2 L1885.6 1685.9 L1890.4 1686.8 L1895.3 1688.0 L1900.1 1689.3 L1904.9 1690.8 L1909.7 1692.4 L1914.6 1694.3 L1919.4 1696.4 L1924.2 1698.6 L1929.0 1701.0 L1933.9 1703.6 L1938.7 1706.3 L1943.5 1709.0 L1948.3 1711.9 L1953.2 1714.8 L1958.0 1717.8 L1962.8 1720.8" fill="none" stroke="#00A651" stroke-width="10.6" stroke-linecap="round" stroke-linejoin="round"/>
<path d="M1142.8 1998.5 L1147.6 1998.0 L1152.4 1997.4 L1157.3 1996.7 L1162.1 1995.9 L1166.9 1994.9 L1171.7 1993.6 L1176.6 1992.1 L1181.4 1990.4 L1186.2 1988.5 L1191.0 1986.4 L1195.9 1984.2 L1200.7 1981.8 L1205.5 1979.3 L1210.3 1976.6 L1215.2 1973.8 L1220.0 1970.8 L1224.8 1967.7 L1229.6 1964.4 L1234.4 1960.9 L1239.3 1957.3 L1244.1 1953.5 L1248.9 1949.6 L1253.7 1945.5 L1258.6 1941.3 L1263.4 1937.1 L1268.2 1932.7 L1273.0 1928.3 L1277.9 1924.0 L1282.7 1919.6 L1287.5 1915.3 L1292.3 1911.1 L1297.2 1907.0 L1302.0 1903.0 L1306.8 1899.3 L1311.6 1895.9 L1316.4 1892.7 L1321.3 1889.9 L1326.1 1887.3 L1330.9 1885.1 L1335.7 1883.2 L1340.6 1881.7 L1345.4 1880.5 L1350.2 1879.6 L1355.0 1879.0 L1359.9 1878.7 L1364.7 1878.6 L1369.5 1878.8 L1374.3 1879.3 L1379.2 1880.0 L1384.0 1880.9 L1388.8 1882.0 L1393.6 1883.4 L1398.4 1884.8 L1403.3 1886.3 L1408.1 1887.8 L1412.9 1889.3 L1417.7 1890.7 L1422.6 1892.1 L1427.4 1893.5 L1432.2 1894.7 L1437.0 1896.0 L1441.9 1897.1 L1446.7 1898.2 L1451.5 1899.2 L1456.3 1900.0 L1461.2 1900.8 L1466.0 1901.5 L1470.8 1902.4 L1475.6 1903.5 L1480.4 1905.0 L1485.3 1907.0 L1490.1 1909.5 L1494.9 1912.3 L1499.7 1915.4 L1504.6 1918.7 L1509.4 1922.1 L1514.2 1925.5 L1519.0 1928.9 L1523.9 1932.0 L1528.7 1934.8 L1533.5 1937.3 L1538.3 1939.4 L1543.2 1941.2 L1548.0 1942.7 L1552.8 1943.8 L1557.6 1944.7 L1562.4 1945.3 L1567.3 1945.5 L1572.1 1945.4 L1576.9 1944.8 L1581.7 1943.9 L1586.6 1942.6 L1591.4 1940.9 L1596.2 1939.0 L1601.0 1936.8 L1605.9 1934.4 L1610.7 1931.7 L1615.5 1928.8 L1620.3 1925.5 L1625.2 1921.9 L1630.0 1918.0 L1634.8 1913.7 L1639.6 1909.1 L1644.4 1904.2 L1649.3 1899.0 L1654.1 1893.6 L1658.9 1887.9 L1663.7 1881.9 L1668.6 1875.7 L1673.4 1869.2 L1678.2 1862.5 L1683.0 1855.4 L1687.9 1848.1 L1692.7 1840.4 L1697.5 1832.5 L1702.3 1824.2 L1707.2 1815.8 L1712.0 1807.4 L1716.8 1799.2 L1721.6 1791.3 L1726.4 1783.9 L1731.3 1776.9 L1736.1 1770.4 L1740.9 1764.2 L1745.7 1758.3 L1750.6 1752.6 L1755.4 1747.3 L1760.2 1742.5 L1765.0 1738.2 L1769.9 1734.6 L1774.7 1731.7 L1779.5 1729.5 L1784.3 1727.8 L1789.2 1726.5 L1794.0 1725.4 L1798.8 1724.5 L1803.6 1723.7 L1808.4 1723.2 L1813.3 1723.0 L1818.1 1723.0 L1822.9 1723.5 L1827.7 1724.2 L1832.6 1725.2 L1837.4 1726.3 L1842.2 1727.6 L1847.0 1729.0 L1851.9 1730.4 L1856.7 1731.8 L1861.5 1733.2 L1866.3 1734.6 L1871.2 1735.8 L1876.0 1737.0 L1880.8 1738.2 L1885.6 1739.4 L1890.4 1740.7 L1895.3 1742.0 L1900.1 1743.4 L1904.9 1744.7 L1909.7 1746.0 L1914.6 1747.2 L1919.4 1748.2 L1924.2 1749.1 L1929.0 1749.8 L1933.9 1750.5 L1938.7 1751.2 L1943.5 1751.8 L1948.3 1752.4 L1953.2 1753.0 L1958.0 1753.6 L1962.8 1754.2" fill="none" stroke="#EC008C" stroke-width="10.6" stroke-linecap="round" stroke-linejoin="round"/>
<path d="M1142.8 2024.2 L1147.6 2023.6 L1152.4 2023.1 L1157.3 2022.5 L1162.1 2021.7 L1166.9 2020.8 L1171.7 2019.7 L1176.6 2018.5 L1181.4 2017.1 L1186.2 2015.5 L1191.0 2013.9 L1195.9 2012.2 L1200.7 2010.4 L1205.5 2008.6 L1210.3 2006.7 L1215.2 2004.7 L1220.0 2002.7 L1224.8 2000.7 L1229.6 1998.6 L1234.4 1996.5 L1239.3 1994.3 L1244.1 1992.1 L1248.9 1989.9 L1253.7 1987.6 L1258.6 1985.3 L1263.4 1983.0 L1268.2 1980.6 L1273.0 1978.2 L1277.9 1975.8 L1282.7 1973.4 L1287.5 1971.0 L1292.3 1968.7 L1297.2 1966.3 L1302.0 1964.0 L1306.8 1961.7 L1311.6 1959.5 L1316.4 1957.4 L1321.3 1955.3 L1326.1 1953.3 L1330.9 1951.4 L1335.7 1949.7 L1340.6 1948.1 L1345.4 1946.6 L1350.2 1945.3 L1355.0 1944.0 L1359.9 1942.9 L1364.7 1941.8 L1369.5 1940.8 L1374.3 1939.9 L1379.2 1939.1 L1384.0 1938.3 L1388.8 1937.6 L1393.6 1937.0 L1398.4 1936.6 L1403.3 1936.2 L1408.1 1935.9 L1412.9 1935.8 L1417.7 1935.9 L1422.6 1936.0 L1427.4 1936.3 L1432.2 1936.6 L1437.0 1937.1 L1441.9 1937.7 L1446.7 1938.5 L1451.5 1939.4 L1456.3 1940.5 L1461.2 1941.9 L1466.0 1943.5 L1470.8 1945.3 L1475.6 1947.4 L1480.4 1949.7 L1485.3 1952.2 L1490.1 1954.8 L1494.9 1957.6 L1499.7 1960.5 L1504.6 1963.4 L1509.4 1966.3 L1514.2 1969.1 L1519.0 1971.9 L1523.9 1974.7 L1528.7 1977.3 L1533.5 1979.8 L1538.3 1982.2 L1543.2 1984.4 L1548.0 1986.6 L1552.8 1988.5 L1557.6 1990.3 L1562.4 1991.9 L1567.3 1993.3 L1572.1 1994.4 L1576.9 1995.3 L1581.7 1995.9 L1586.6 1996.0 L1591.4 1995.6 L1596.2 1994.5 L1601.0 1992.9 L1605.9 1990.8 L1610.7 1988.2 L1615.5 1985.0 L1620.3 1981.2 L1625.2 1976.9 L1630.0 1972.0 L1634.8 1966.5 L1639.6 1960.5 L1644.4 1954.1 L1649.3 1947.2 L1654.1 1939.8 L1658.9 1932.0 L1663.7 1923.8 L1668.6 1915.1 L1673.4 1905.8 L1678.2 1896.1 L1683.0 1886.1 L1687.9 1875.8 L1692.7 1865.6 L1697.5 1855.5 L1702.3 1845.7 L1707.2 1836.4 L1712.0 1827.6 L1716.8 1819.4 L1721.6 1811.9 L1726.4 1805.3 L1731.3 1799.4 L1736.1 1794.2 L1740.9 1789.6 L1745.7 1785.5 L1750.6 1781.7 L1755.4 1778.3 L1760.2 1775.1 L1765.0 1772.0 L1769.9 1768.9 L1774.7 1765.8 L1779.5 1762.6 L1784.3 1759.3 L1789.2 1755.9 L1794.0 1752.3 L1798.8 1748.6 L1803.6 1744.9 L1808.4 1741.1 L1813.3 1737.3 L1818.1 1733.6 L1822.9 1730.0 L1827.7 1726.4 L1832.6 1723.0 L1837.4 1719.6 L1842.2 1716.2 L1847.0 1713.0 L1851.9 1709.8 L1856.7 1707.0 L1861.5 1704.4 L1866.3 1702.4 L1871.2 1700.8 L1876.0 1699.8 L1880.8 1699.1 L1885.6 1698.7 L1890.4 1698.5 L1895.3 1698.4 L1900.1 1698.5 L1904.9 1698.8 L1909.7 1699.3 L1914.6 1700.2 L1919.4 1701.3 L1924.2 1702.7 L1929.0 1704.4 L1933.9 1706.4 L1938.7 1708.6 L1943.5 1711.0 L1948.3 1713.6 L1953.2 1716.3 L1958.0 1719.1 L1962.8 1721.9" fill="none" stroke="#2E3192" stroke-width="10.6" stroke-linecap="round" stroke-linejoin="round"/>
<path d="M1142.8 2091.1 L1147.6 2090.7 L1152.4 2090.2 L1157.3 2089.7 L1162.1 2089.1 L1166.9 2088.4 L1171.7 2087.6 L1176.6 2086.7 L1181.4 2085.7 L1186.2 2084.8 L1191.0 2083.8 L1195.9 2082.9 L1200.7 2082.0 L1205.5 2081.1 L1210.3 2080.1 L1215.2 2079.2 L1220.0 2078.3 L1224.8 2077.2 L1229.6 2076.1 L1234.4 2074.9 L1239.3 2073.5 L1244.1 2072.0 L1248.9 2070.3 L1253.7 2068.5 L1258.6 2066.5 L1263.4 2064.4 L1268.2 2062.1 L1273.0 2059.7 L1277.9 2057.0 L1282.7 2054.0 L1287.5 2050.5 L1292.3 2046.6 L1297.2 2042.2 L1302.0 2037.6 L1306.8 2032.7 L1311.6 2027.6 L1316.4 2022.5 L1321.3 2017.3 L1326.1 2012.1 L1330.9 2006.7 L1335.7 2001.3 L1340.6 1995.7 L1345.4 1990.2 L1350.2 1984.6 L1355.0 1979.1 L1359.9 1973.8 L1364.7 1968.7 L1369.5 1963.7 L1374.3 1958.9 L1379.2 1954.2 L1384.0 1949.7 L1388.8 1945.2 L1393.6 1940.9 L1398.4 1936.7 L1403.3 1932.8 L1408.1 1929.1 L1412.9 1925.8 L1417.7 1922.9 L1422.6 1920.3 L1427.4 1918.0 L1432.2 1916.0 L1437.0 1914.3 L1441.9 1912.9 L1446.7 1911.8 L1451.5 1910.8 L1456.3 1910.0 L1461.2 1909.3 L1466.0 1908.8 L1470.8 1908.3 L1475.6 1907.8 L1480.4 1907.4 L1485.3 1906.9 L1490.1 1906.5 L1494.9 1906.0 L1499.7 1905.3 L1504.6 1904.6 L1509.4 1903.7 L1514.2 1902.5 L1519.0 1901.1 L1523.9 1899.2 L1528.7 1897.0 L1533.5 1894.2 L1538.3 1890.9 L1543.2 1887.1 L1548.0 1882.8 L1552.8 1878.0 L1557.6 1872.6 L1562.4 1866.6 L1567.3 1859.5 L1572.1 1851.3 L1576.9 1841.6 L1581.7 1830.5 L1586.6 1818.7 L1591.4 1807.0 L1596.2 1794.7 L1601.0 1780.7 L1605.9 1764.5 L1610.7 1746.0 L1615.5 1725.7 L1620.3 1703.8 L1625.2 1680.6 L1630.0 1656.6 L1634.8 1632.2 L1639.6 1608.2 L1644.4 1585.1 L1649.3 1563.7 L1654.1 1544.3 L1658.9 1527.2 L1663.7 1512.3 L1668.6 1499.6 L1673.4 1489.2 L1678.2 1481.1 L1683.0 1475.5 L1687.9 1472.5 L1692.7 1472.0 L1697.5 1473.2 L1702.3 1475.4 L1707.2 1478.1 L1712.0 1481.1 L1716.8 1484.1 L1721.6 1487.0 L1726.4 1489.4 L1731.3 1491.5 L1736.1 1493.1 L1740.9 1494.3 L1745.7 1495.0 L1750.6 1495.4 L1755.4 1495.5 L1760.2 1495.4 L1765.0 1495.3 L1769.9 1495.4 L1774.7 1495.8 L1779.5 1496.5 L1784.3 1497.5 L1789.2 1498.9 L1794.0 1500.7 L1798.8 1503.0 L1803.6 1505.7 L1808.4 1508.9 L1813.3 1512.6 L1818.1 1516.8 L1822.9 1521.5 L1827.7 1526.6 L1832.6 1532.0 L1837.4 1537.6 L1842.2 1543.1 L1847.0 1548.7 L1851.9 1554.1 L1856.7 1559.4 L1861.5 1564.5 L1866.3 1569.5 L1871.2 1574.3 L1876.0 1578.9 L1880.8 1583.2 L1885.6 1587.4 L1890.4 1591.3 L1895.3 1594.9 L1900.1 1598.4 L1904.9 1601.6 L1909.7 1604.6 L1914.6 1607.4 L1919.4 1610.0 L1924.2 1612.4 L1929.0 1614.7 L1933.9 1616.8 L1938.7 1618.7 L1943.5 1620.5 L1948.3 1622.2 L1953.2 1623.8 L1958.0 1625.3 L1962.8 1626.8" fill="none" stroke="#ED1C24" stroke-width="10.6" stroke-linecap="round" stroke-linejoin="round"/>
<line x1="1142.8" y1="1880.6" x2="1962.8" y2="1880.6" stroke="#231F20" stroke-width="2.6" stroke-linecap="butt"/>
<line x1="1142.8" y1="2088.7" x2="1149.5" y2="2088.7" stroke="#231F20" stroke-width="2.8" stroke-linecap="butt"/>
<line x1="1955.9" y1="2088.7" x2="1962.8" y2="2088.7" stroke="#231F20" stroke-width="2.8" stroke-linecap="butt"/>
<line x1="1142.8" y1="2019.3" x2="1154.5" y2="2019.3" stroke="#231F20" stroke-width="2.8" stroke-linecap="butt"/>
<line x1="1950.9" y1="2019.3" x2="1962.8" y2="2019.3" stroke="#231F20" stroke-width="2.8" stroke-linecap="butt"/>
<text transform="translate(1973.2 2031.5) scale(1 1.02)" font-size="50.5" text-anchor="start" >-1000</text>
<line x1="1142.8" y1="1950.0" x2="1149.5" y2="1950.0" stroke="#231F20" stroke-width="2.8" stroke-linecap="butt"/>
<line x1="1955.9" y1="1950.0" x2="1962.8" y2="1950.0" stroke="#231F20" stroke-width="2.8" stroke-linecap="butt"/>
<line x1="1142.8" y1="1880.6" x2="1154.5" y2="1880.6" stroke="#231F20" stroke-width="2.8" stroke-linecap="butt"/>
<line x1="1950.9" y1="1880.6" x2="1962.8" y2="1880.6" stroke="#231F20" stroke-width="2.8" stroke-linecap="butt"/>
<text transform="translate(1973.4 1892.8) scale(1 1.02)" font-size="50.5" text-anchor="start" >0</text>
<line x1="1142.8" y1="1811.3" x2="1149.5" y2="1811.3" stroke="#231F20" stroke-width="2.8" stroke-linecap="butt"/>
<line x1="1955.9" y1="1811.3" x2="1962.8" y2="1811.3" stroke="#231F20" stroke-width="2.8" stroke-linecap="butt"/>
<line x1="1142.8" y1="1741.9" x2="1154.5" y2="1741.9" stroke="#231F20" stroke-width="2.8" stroke-linecap="butt"/>
<line x1="1950.9" y1="1741.9" x2="1962.8" y2="1741.9" stroke="#231F20" stroke-width="2.8" stroke-linecap="butt"/>
<text transform="translate(1971.6 1754.1) scale(1 1.02)" font-size="50.5" text-anchor="start" >1000</text>
<line x1="1142.8" y1="1672.6" x2="1149.5" y2="1672.6" stroke="#231F20" stroke-width="2.8" stroke-linecap="butt"/>
<line x1="1955.9" y1="1672.6" x2="1962.8" y2="1672.6" stroke="#231F20" stroke-width="2.8" stroke-linecap="butt"/>
<line x1="1142.8" y1="1603.2" x2="1154.5" y2="1603.2" stroke="#231F20" stroke-width="2.8" stroke-linecap="butt"/>
<line x1="1950.9" y1="1603.2" x2="1962.8" y2="1603.2" stroke="#231F20" stroke-width="2.8" stroke-linecap="butt"/>
<text transform="translate(1972.9 1615.4) scale(1 1.02)" font-size="50.5" text-anchor="start" >2000</text>
<line x1="1142.8" y1="1533.9" x2="1149.5" y2="1533.9" stroke="#231F20" stroke-width="2.8" stroke-linecap="butt"/>
<line x1="1955.9" y1="1533.9" x2="1962.8" y2="1533.9" stroke="#231F20" stroke-width="2.8" stroke-linecap="butt"/>
<line x1="1142.8" y1="1464.5" x2="1154.5" y2="1464.5" stroke="#231F20" stroke-width="2.8" stroke-linecap="butt"/>
<line x1="1950.9" y1="1464.5" x2="1962.8" y2="1464.5" stroke="#231F20" stroke-width="2.8" stroke-linecap="butt"/>
<text transform="translate(1973.5 1476.7) scale(1 1.02)" font-size="50.5" text-anchor="start" >3000</text>
<line x1="1160.3" y1="1459.6" x2="1245.7" y2="1459.6" stroke="#00A651" stroke-width="9.9" stroke-linecap="round"/>
<text transform="translate(1255.9 1473.9) scale(1 1.02)" font-size="37" text-anchor="start" >σ (70 nm) - σ (200 nm)</text>
<line x1="1160.3" y1="1507.7" x2="1245.7" y2="1507.7" stroke="#EC008C" stroke-width="9.9" stroke-linecap="round"/>
<text transform="translate(1255.9 1522.0) scale(1 1.02)" font-size="37" text-anchor="start" >σ (33 nm) - σ (200nm)</text>
<line x1="1160.3" y1="1556.0" x2="1245.7" y2="1556.0" stroke="#2E3192" stroke-width="9.9" stroke-linecap="round"/>
<text transform="translate(1255.9 1570.1) scale(1 1.02)" font-size="37" text-anchor="start" >σ (25 nm) - σ (200 nm)</text>
<line x1="1160.3" y1="1604.3" x2="1245.7" y2="1604.3" stroke="#ED1C24" stroke-width="9.9" stroke-linecap="round"/>
<text transform="translate(1255.9 1618.2) scale(1 1.02)" font-size="37" text-anchor="start" >σ (5nm) - σ (200nm)</text>
<line x1="244.0" y1="33.9" x2="244.0" y2="731.5" stroke="#231F20" stroke-width="3.8" stroke-linecap="butt"/>
<line x1="244.3" y1="731.5" x2="244.3" y2="1426.0" stroke="#231F20" stroke-width="4.2" stroke-linecap="butt"/>
<line x1="245.0" y1="1426.0" x2="245.0" y2="2121.2" stroke="#231F20" stroke-width="3.6" stroke-linecap="butt"/>
<line x1="242.2" y1="35.5" x2="1065.0" y2="35.5" stroke="#231F20" stroke-width="3.0" stroke-linecap="butt"/>
<line x1="1063.6" y1="35.5" x2="1063.6" y2="732.9" stroke="#231F20" stroke-width="2.8" stroke-linecap="butt"/>
<line x1="1063.6" y1="732.0" x2="1063.6" y2="1426.0" stroke="#231F20" stroke-width="1.0" stroke-linecap="butt"/>
<line x1="1064.2" y1="1426.0" x2="1064.2" y2="2121.2" stroke="#231F20" stroke-width="2.8" stroke-linecap="butt"/>
<line x1="244.4" y1="731.5" x2="1065.0" y2="731.5" stroke="#231F20" stroke-width="2.8" stroke-linecap="butt"/>
<line x1="244.4" y1="1426.0" x2="1065.6" y2="1426.0" stroke="#231F20" stroke-width="3.6" stroke-linecap="butt"/>
<line x1="244.4" y1="2119.7" x2="1065.6" y2="2119.7" stroke="#231F20" stroke-width="3.0" stroke-linecap="butt"/>
<line x1="1142.8" y1="33.2" x2="1142.8" y2="2128.6" stroke="#231F20" stroke-width="2.8" stroke-linecap="butt"/>
<line x1="1141.4" y1="34.5" x2="1964.9" y2="34.5" stroke="#231F20" stroke-width="2.7" stroke-linecap="butt"/>
<line x1="1963.5" y1="34.5" x2="1963.5" y2="730.7" stroke="#231F20" stroke-width="2.8" stroke-linecap="butt"/>
<line x1="1962.6" y1="729.0" x2="1962.6" y2="2118.0" stroke="#231F20" stroke-width="2.8" stroke-linecap="butt"/>
<line x1="1142.8" y1="729.2" x2="1964.8" y2="729.2" stroke="#231F20" stroke-width="3.0" stroke-linecap="butt"/>
<line x1="1142.8" y1="1422.2" x2="1963.8" y2="1422.2" stroke="#231F20" stroke-width="3.0" stroke-linecap="butt"/>
<line x1="1142.8" y1="2116.6" x2="1964.0" y2="2116.6" stroke="#231F20" stroke-width="2.8" stroke-linecap="butt"/>
<line x1="227.2" y1="731.5" x2="242.2" y2="731.5" stroke="#231F20" stroke-width="2.8" stroke-linecap="butt"/>
<text transform="translate(218.8 744.9) scale(1 1.02)" font-size="50.5" text-anchor="end" >0</text>
<line x1="234.2" y1="638.7" x2="242.2" y2="638.7" stroke="#231F20" stroke-width="2.8" stroke-linecap="butt"/>
<line x1="227.2" y1="545.9" x2="242.2" y2="545.9" stroke="#231F20" stroke-width="2.8" stroke-linecap="butt"/>
<text transform="translate(218.8 559.3) scale(1 1.02)" font-size="50.5" text-anchor="end" >2000</text>
<line x1="234.2" y1="453.1" x2="242.2" y2="453.1" stroke="#231F20" stroke-width="2.8" stroke-linecap="butt"/>
<line x1="227.2" y1="360.3" x2="242.2" y2="360.3" stroke="#231F20" stroke-width="2.8" stroke-linecap="butt"/>
<text transform="translate(218.8 373.7) scale(1 1.02)" font-size="50.5" text-anchor="end" >4000</text>
<line x1="234.2" y1="267.5" x2="242.2" y2="267.5" stroke="#231F20" stroke-width="2.8" stroke-linecap="butt"/>
<line x1="227.2" y1="174.7" x2="242.2" y2="174.7" stroke="#231F20" stroke-width="2.8" stroke-linecap="butt"/>
<text transform="translate(218.8 188.1) scale(1 1.02)" font-size="50.5" text-anchor="end" >6000</text>
<line x1="234.2" y1="81.9" x2="242.2" y2="81.9" stroke="#231F20" stroke-width="2.8" stroke-linecap="butt"/>
<line x1="227.2" y1="1426.0" x2="242.2" y2="1426.0" stroke="#231F20" stroke-width="2.8" stroke-linecap="butt"/>
<text transform="translate(218.8 1439.4) scale(1 1.02)" font-size="50.5" text-anchor="end" >0</text>
<line x1="234.2" y1="1333.4" x2="242.2" y2="1333.4" stroke="#231F20" stroke-width="2.8" stroke-linecap="butt"/>
<line x1="227.2" y1="1240.8" x2="242.2" y2="1240.8" stroke="#231F20" stroke-width="2.8" stroke-linecap="butt"/>
<text transform="translate(218.8 1254.2) scale(1 1.02)" font-size="50.5" text-anchor="end" >2000</text>
<line x1="234.2" y1="1148.2" x2="242.2" y2="1148.2" stroke="#231F20" stroke-width="2.8" stroke-linecap="butt"/>
<line x1="227.2" y1="1055.6" x2="242.2" y2="1055.6" stroke="#231F20" stroke-width="2.8" stroke-linecap="butt"/>
<text transform="translate(218.8 1069.0) scale(1 1.02)" font-size="50.5" text-anchor="end" >4000</text>
<line x1="234.2" y1="963.0" x2="242.2" y2="963.0" stroke="#231F20" stroke-width="2.8" stroke-linecap="butt"/>
<line x1="227.2" y1="870.4" x2="242.2" y2="870.4" stroke="#231F20" stroke-width="2.8" stroke-linecap="butt"/>
<text transform="translate(218.8 883.8) scale(1 1.02)" font-size="50.5" text-anchor="end" >6000</text>
<line x1="234.2" y1="777.8" x2="242.2" y2="777.8" stroke="#231F20" stroke-width="2.8" stroke-linecap="butt"/>
<line x1="232.7" y1="2119.7" x2="243.2" y2="2119.7" stroke="#231F20" stroke-width="2.8" stroke-linecap="butt"/>
<text transform="translate(227.9 2133.1) scale(1 1.02)" font-size="50.5" text-anchor="end" >0</text>
<line x1="237.7" y1="2027.2" x2="243.2" y2="2027.2" stroke="#231F20" stroke-width="2.8" stroke-linecap="butt"/>
<line x1="232.7" y1="1934.7" x2="243.2" y2="1934.7" stroke="#231F20" stroke-width="2.8" stroke-linecap="butt"/>
<text transform="translate(227.9 1948.1) scale(1 1.02)" font-size="50.5" text-anchor="end" >2000</text>
<line x1="237.7" y1="1842.2" x2="243.2" y2="1842.2" stroke="#231F20" stroke-width="2.8" stroke-linecap="butt"/>
<line x1="232.7" y1="1749.7" x2="243.2" y2="1749.7" stroke="#231F20" stroke-width="2.8" stroke-linecap="butt"/>
<text transform="translate(227.9 1763.1) scale(1 1.02)" font-size="50.5" text-anchor="end" >4000</text>
<line x1="237.7" y1="1657.2" x2="243.2" y2="1657.2" stroke="#231F20" stroke-width="2.8" stroke-linecap="butt"/>
<line x1="232.7" y1="1564.7" x2="243.2" y2="1564.7" stroke="#231F20" stroke-width="2.8" stroke-linecap="butt"/>
<text transform="translate(227.9 1578.1) scale(1 1.02)" font-size="50.5" text-anchor="end" >6000</text>
<line x1="237.7" y1="1472.2" x2="243.2" y2="1472.2" stroke="#231F20" stroke-width="2.8" stroke-linecap="butt"/>
<line x1="1058.1" y1="2027.2" x2="1063.6" y2="2027.2" stroke="#231F20" stroke-width="2.8" stroke-linecap="butt"/>
<line x1="1053.1" y1="1934.7" x2="1063.6" y2="1934.7" stroke="#231F20" stroke-width="2.8" stroke-linecap="butt"/>
<line x1="1058.1" y1="1842.2" x2="1063.6" y2="1842.2" stroke="#231F20" stroke-width="2.8" stroke-linecap="butt"/>
<line x1="1053.1" y1="1749.7" x2="1063.6" y2="1749.7" stroke="#231F20" stroke-width="2.8" stroke-linecap="butt"/>
<line x1="1058.1" y1="1657.2" x2="1063.6" y2="1657.2" stroke="#231F20" stroke-width="2.8" stroke-linecap="butt"/>
<line x1="1053.1" y1="1564.7" x2="1063.6" y2="1564.7" stroke="#231F20" stroke-width="2.8" stroke-linecap="butt"/>
<line x1="1058.1" y1="1472.2" x2="1063.6" y2="1472.2" stroke="#231F20" stroke-width="2.8" stroke-linecap="butt"/>
<line x1="1125.4" y1="729.2" x2="1141.4" y2="729.2" stroke="#231F20" stroke-width="2.8" stroke-linecap="butt"/>
<line x1="1132.9" y1="636.6" x2="1141.4" y2="636.6" stroke="#231F20" stroke-width="2.8" stroke-linecap="butt"/>
<line x1="1125.4" y1="543.9" x2="1141.4" y2="543.9" stroke="#231F20" stroke-width="2.8" stroke-linecap="butt"/>
<line x1="1132.9" y1="451.3" x2="1141.4" y2="451.3" stroke="#231F20" stroke-width="2.8" stroke-linecap="butt"/>
<line x1="1125.4" y1="358.7" x2="1141.4" y2="358.7" stroke="#231F20" stroke-width="2.8" stroke-linecap="butt"/>
<line x1="1132.9" y1="266.1" x2="1141.4" y2="266.1" stroke="#231F20" stroke-width="2.8" stroke-linecap="butt"/>
<line x1="1125.4" y1="173.4" x2="1141.4" y2="173.4" stroke="#231F20" stroke-width="2.8" stroke-linecap="butt"/>
<line x1="1132.9" y1="80.8" x2="1141.4" y2="80.8" stroke="#231F20" stroke-width="2.8" stroke-linecap="butt"/>
<line x1="1125.4" y1="1422.2" x2="1141.4" y2="1422.2" stroke="#231F20" stroke-width="2.8" stroke-linecap="butt"/>
<line x1="1132.9" y1="1329.8" x2="1141.4" y2="1329.8" stroke="#231F20" stroke-width="2.8" stroke-linecap="butt"/>
<line x1="1125.4" y1="1237.4" x2="1141.4" y2="1237.4" stroke="#231F20" stroke-width="2.8" stroke-linecap="butt"/>
<line x1="1132.9" y1="1145.0" x2="1141.4" y2="1145.0" stroke="#231F20" stroke-width="2.8" stroke-linecap="butt"/>
<line x1="1125.4" y1="1052.6" x2="1141.4" y2="1052.6" stroke="#231F20" stroke-width="2.8" stroke-linecap="butt"/>
<line x1="1132.9" y1="960.2" x2="1141.4" y2="960.2" stroke="#231F20" stroke-width="2.8" stroke-linecap="butt"/>
<line x1="1125.4" y1="867.8" x2="1141.4" y2="867.8" stroke="#231F20" stroke-width="2.8" stroke-linecap="butt"/>
<line x1="1132.9" y1="775.4" x2="1141.4" y2="775.4" stroke="#231F20" stroke-width="2.8" stroke-linecap="butt"/>
<line x1="244.4" y1="732.8" x2="244.4" y2="747.8" stroke="#231F20" stroke-width="2.8" stroke-linecap="butt"/>
<line x1="340.8" y1="732.8" x2="340.8" y2="740.8" stroke="#231F20" stroke-width="2.8" stroke-linecap="butt"/>
<line x1="437.2" y1="732.8" x2="437.2" y2="747.8" stroke="#231F20" stroke-width="2.8" stroke-linecap="butt"/>
<line x1="533.5" y1="732.8" x2="533.5" y2="740.8" stroke="#231F20" stroke-width="2.8" stroke-linecap="butt"/>
<line x1="629.9" y1="732.8" x2="629.9" y2="747.8" stroke="#231F20" stroke-width="2.8" stroke-linecap="butt"/>
<line x1="726.3" y1="732.8" x2="726.3" y2="740.8" stroke="#231F20" stroke-width="2.8" stroke-linecap="butt"/>
<line x1="822.7" y1="732.8" x2="822.7" y2="747.8" stroke="#231F20" stroke-width="2.8" stroke-linecap="butt"/>
<line x1="919.0" y1="732.8" x2="919.0" y2="740.8" stroke="#231F20" stroke-width="2.8" stroke-linecap="butt"/>
<line x1="1015.4" y1="732.8" x2="1015.4" y2="747.8" stroke="#231F20" stroke-width="2.8" stroke-linecap="butt"/>
<line x1="244.4" y1="1427.5" x2="244.4" y2="1442.5" stroke="#231F20" stroke-width="2.8" stroke-linecap="butt"/>
<line x1="340.8" y1="1427.5" x2="340.8" y2="1435.5" stroke="#231F20" stroke-width="2.8" stroke-linecap="butt"/>
<line x1="437.2" y1="1427.5" x2="437.2" y2="1442.5" stroke="#231F20" stroke-width="2.8" stroke-linecap="butt"/>
<line x1="533.5" y1="1427.5" x2="533.5" y2="1435.5" stroke="#231F20" stroke-width="2.8" stroke-linecap="butt"/>
<line x1="629.9" y1="1427.5" x2="629.9" y2="1442.5" stroke="#231F20" stroke-width="2.8" stroke-linecap="butt"/>
<line x1="726.3" y1="1427.5" x2="726.3" y2="1435.5" stroke="#231F20" stroke-width="2.8" stroke-linecap="butt"/>
<line x1="822.7" y1="1427.5" x2="822.7" y2="1442.5" stroke="#231F20" stroke-width="2.8" stroke-linecap="butt"/>
<line x1="919.0" y1="1427.5" x2="919.0" y2="1435.5" stroke="#231F20" stroke-width="2.8" stroke-linecap="butt"/>
<line x1="1015.4" y1="1427.5" x2="1015.4" y2="1442.5" stroke="#231F20" stroke-width="2.8" stroke-linecap="butt"/>
<line x1="244.4" y1="2121.0" x2="244.4" y2="2131.5" stroke="#231F20" stroke-width="2.8" stroke-linecap="butt"/>
<line x1="340.8" y1="2121.0" x2="340.8" y2="2126.5" stroke="#231F20" stroke-width="2.8" stroke-linecap="butt"/>
<line x1="437.2" y1="2121.0" x2="437.2" y2="2131.5" stroke="#231F20" stroke-width="2.8" stroke-linecap="butt"/>
<line x1="533.5" y1="2121.0" x2="533.5" y2="2126.5" stroke="#231F20" stroke-width="2.8" stroke-linecap="butt"/>
<line x1="629.9" y1="2121.0" x2="629.9" y2="2131.5" stroke="#231F20" stroke-width="2.8" stroke-linecap="butt"/>
<line x1="726.3" y1="2121.0" x2="726.3" y2="2126.5" stroke="#231F20" stroke-width="2.8" stroke-linecap="butt"/>
<line x1="822.7" y1="2121.0" x2="822.7" y2="2131.5" stroke="#231F20" stroke-width="2.8" stroke-linecap="butt"/>
<line x1="919.0" y1="2121.0" x2="919.0" y2="2126.5" stroke="#231F20" stroke-width="2.8" stroke-linecap="butt"/>
<line x1="1015.4" y1="2121.0" x2="1015.4" y2="2131.5" stroke="#231F20" stroke-width="2.8" stroke-linecap="butt"/>
<line x1="1142.8" y1="730.6" x2="1142.8" y2="746.1" stroke="#231F20" stroke-width="2.8" stroke-linecap="butt"/>
<line x1="1239.3" y1="730.6" x2="1239.3" y2="738.6" stroke="#231F20" stroke-width="2.8" stroke-linecap="butt"/>
<line x1="1335.7" y1="730.6" x2="1335.7" y2="746.1" stroke="#231F20" stroke-width="2.8" stroke-linecap="butt"/>
<line x1="1432.2" y1="730.6" x2="1432.2" y2="738.6" stroke="#231F20" stroke-width="2.8" stroke-linecap="butt"/>
<line x1="1528.7" y1="730.6" x2="1528.7" y2="746.1" stroke="#231F20" stroke-width="2.8" stroke-linecap="butt"/>
<line x1="1625.2" y1="730.6" x2="1625.2" y2="738.6" stroke="#231F20" stroke-width="2.8" stroke-linecap="butt"/>
<line x1="1721.6" y1="730.6" x2="1721.6" y2="746.1" stroke="#231F20" stroke-width="2.8" stroke-linecap="butt"/>
<line x1="1818.1" y1="730.6" x2="1818.1" y2="738.6" stroke="#231F20" stroke-width="2.8" stroke-linecap="butt"/>
<line x1="1914.6" y1="730.6" x2="1914.6" y2="746.1" stroke="#231F20" stroke-width="2.8" stroke-linecap="butt"/>
<line x1="1142.8" y1="1423.6" x2="1142.8" y2="1439.6" stroke="#231F20" stroke-width="2.8" stroke-linecap="butt"/>
<line x1="1239.3" y1="1423.6" x2="1239.3" y2="1432.1" stroke="#231F20" stroke-width="2.8" stroke-linecap="butt"/>
<line x1="1335.7" y1="1423.6" x2="1335.7" y2="1439.6" stroke="#231F20" stroke-width="2.8" stroke-linecap="butt"/>
<line x1="1432.2" y1="1423.6" x2="1432.2" y2="1432.1" stroke="#231F20" stroke-width="2.8" stroke-linecap="butt"/>
<line x1="1528.7" y1="1423.6" x2="1528.7" y2="1439.6" stroke="#231F20" stroke-width="2.8" stroke-linecap="butt"/>
<line x1="1625.2" y1="1423.6" x2="1625.2" y2="1432.1" stroke="#231F20" stroke-width="2.8" stroke-linecap="butt"/>
<line x1="1721.6" y1="1423.6" x2="1721.6" y2="1439.6" stroke="#231F20" stroke-width="2.8" stroke-linecap="butt"/>
<line x1="1818.1" y1="1423.6" x2="1818.1" y2="1432.1" stroke="#231F20" stroke-width="2.8" stroke-linecap="butt"/>
<line x1="1914.6" y1="1423.6" x2="1914.6" y2="1439.6" stroke="#231F20" stroke-width="2.8" stroke-linecap="butt"/>
<line x1="1142.8" y1="2118.0" x2="1142.8" y2="2128.7" stroke="#231F20" stroke-width="2.8" stroke-linecap="butt"/>
<line x1="1239.3" y1="2118.0" x2="1239.3" y2="2123.5" stroke="#231F20" stroke-width="2.8" stroke-linecap="butt"/>
<line x1="1335.7" y1="2118.0" x2="1335.7" y2="2128.7" stroke="#231F20" stroke-width="2.8" stroke-linecap="butt"/>
<line x1="1432.2" y1="2118.0" x2="1432.2" y2="2123.5" stroke="#231F20" stroke-width="2.8" stroke-linecap="butt"/>
<line x1="1528.7" y1="2118.0" x2="1528.7" y2="2128.7" stroke="#231F20" stroke-width="2.8" stroke-linecap="butt"/>
<line x1="1625.2" y1="2118.0" x2="1625.2" y2="2123.5" stroke="#231F20" stroke-width="2.8" stroke-linecap="butt"/>
<line x1="1721.6" y1="2118.0" x2="1721.6" y2="2128.7" stroke="#231F20" stroke-width="2.8" stroke-linecap="butt"/>
<line x1="1818.1" y1="2118.0" x2="1818.1" y2="2123.5" stroke="#231F20" stroke-width="2.8" stroke-linecap="butt"/>
<line x1="1914.6" y1="2118.0" x2="1914.6" y2="2128.7" stroke="#231F20" stroke-width="2.8" stroke-linecap="butt"/>
<text transform="translate(244.9 2176.4) scale(1 1.02)" font-size="50.5" text-anchor="middle" >0</text>
<text transform="translate(1142.6 2173.2) scale(1 1.02)" font-size="50.5" text-anchor="middle" >0</text>
<text transform="translate(437.7 2176.4) scale(1 1.02)" font-size="50.5" text-anchor="middle" >2</text>
<text transform="translate(1335.5 2173.2) scale(1 1.02)" font-size="50.5" text-anchor="middle" >2</text>
<text transform="translate(630.4 2176.4) scale(1 1.02)" font-size="50.5" text-anchor="middle" >4</text>
<text transform="translate(1528.5 2173.2) scale(1 1.02)" font-size="50.5" text-anchor="middle" >4</text>
<text transform="translate(823.2 2176.4) scale(1 1.02)" font-size="50.5" text-anchor="middle" >6</text>
<text transform="translate(1721.4 2173.2) scale(1 1.02)" font-size="50.5" text-anchor="middle" >6</text>
<text transform="translate(1015.9 2176.4) scale(1 1.02)" font-size="50.5" text-anchor="middle" >8</text>
<text transform="translate(1914.4 2173.2) scale(1 1.02)" font-size="50.5" text-anchor="middle" >8</text>
<text transform="translate(416.9 2246.7) scale(1 1.02)" font-size="56.3" text-anchor="start" >Photon energy (eV)</text>
<text transform="translate(1335.1 2244.5) scale(1 1.02)" font-size="56.3" text-anchor="start" >Photon energy (eV)</text>
<text transform="translate(263.6 94.7) scale(1 1.02)" font-size="55" text-anchor="start" >Ta 200 nm</text>
<text transform="translate(966.6 101.8) scale(1 1.02)" font-size="68" text-anchor="start" >(a)</text>
<text transform="translate(263.6 799.0) scale(1 1.02)" font-size="55" text-anchor="start" >Ta 70 nm</text>
<text transform="translate(965.5 799.2) scale(1 1.02)" font-size="68" text-anchor="start" >(b)</text>
<text transform="translate(266.7 1492.7) scale(1 1.02)" font-size="55" text-anchor="start" >Ta 33 nm</text>
<text transform="translate(969.5 1494.2) scale(1 1.02)" font-size="68" text-anchor="start" >(c)</text>
<text transform="translate(1161.5 102.0) scale(1 1.02)" font-size="55" text-anchor="start" >Ta 25 nm</text>
<text transform="translate(1865.5 100.8) scale(1 1.02)" font-size="68" text-anchor="start" >(d)</text>
<text transform="translate(1162.7 795.9) scale(1 1.02)" font-size="55" text-anchor="start" >Ta 5 nm</text>
<text transform="translate(1866.6 797.2) scale(1 1.02)" font-size="68" text-anchor="start" >(e)</text>
<text transform="translate(1877.5 2079.7) scale(1 1.02)" font-size="68" text-anchor="start" >(f)</text>
<text transform="translate(74.2 518.0) rotate(-90) scale(1 0.8)" x="-2.2" y="0" font-size="52">σ</text>
<text transform="translate(74.2 518.0) rotate(-90) scale(1 1.02)"><tspan x="26.8" y="22.0" font-size="29">1</tspan><tspan x="46.3" y="0.0" font-size="52">(</tspan><tspan x="61.8" y="0.0" font-size="52">Ω</tspan><tspan x="98.5" y="-33.1" font-size="28">-1</tspan><tspan x="139.4" y="0.0" font-size="52">cm</tspan><tspan x="207.6" y="-33.1" font-size="28">-1</tspan><tspan x="235.2" y="0.0" font-size="52">)</tspan></text>
<text transform="translate(75.9 1218.7) rotate(-90) scale(1 0.8)" x="-2.2" y="0" font-size="52">σ</text>
<text transform="translate(75.9 1218.7) rotate(-90) scale(1 1.02)"><tspan x="26.8" y="22.0" font-size="29">1</tspan><tspan x="46.3" y="0.0" font-size="52">(</tspan><tspan x="61.8" y="0.0" font-size="52">Ω</tspan><tspan x="98.5" y="-33.1" font-size="28">-1</tspan><tspan x="139.4" y="0.0" font-size="52">cm</tspan><tspan x="207.6" y="-33.1" font-size="28">-1</tspan><tspan x="235.2" y="0.0" font-size="52">)</tspan></text>
<text transform="translate(85.1 1908.7) rotate(-90) scale(1 0.8)" x="-2.2" y="0" font-size="52">σ</text>
<text transform="translate(85.1 1908.7) rotate(-90) scale(1 1.02)"><tspan x="26.8" y="22.0" font-size="29">1</tspan><tspan x="46.3" y="0.0" font-size="52">(</tspan><tspan x="61.8" y="0.0" font-size="52">Ω</tspan><tspan x="98.5" y="-33.1" font-size="28">-1</tspan><tspan x="139.4" y="0.0" font-size="52">cm</tspan><tspan x="207.6" y="-33.1" font-size="28">-1</tspan><tspan x="235.2" y="0.0" font-size="52">)</tspan></text>
<text transform="translate(2122.4 1878.8) rotate(-90) scale(1 0.8)" x="29.7" y="0" font-size="52">σ</text>
<text transform="translate(2122.4 1878.8) rotate(-90) scale(1 1.02)"><tspan x="-1.5" y="0" font-size="52">Δ</tspan><tspan x="58.7" y="22.0" font-size="29">1</tspan><tspan x="78.2" y="0.0" font-size="52">(</tspan><tspan x="93.7" y="0.0" font-size="52">Ω</tspan><tspan x="130.4" y="-33.1" font-size="28">-1</tspan><tspan x="171.3" y="0.0" font-size="52">cm</tspan><tspan x="239.5" y="-33.1" font-size="28">-1</tspan><tspan x="267.1" y="0.0" font-size="52">)</tspan></text>
</svg>
</body></html>
